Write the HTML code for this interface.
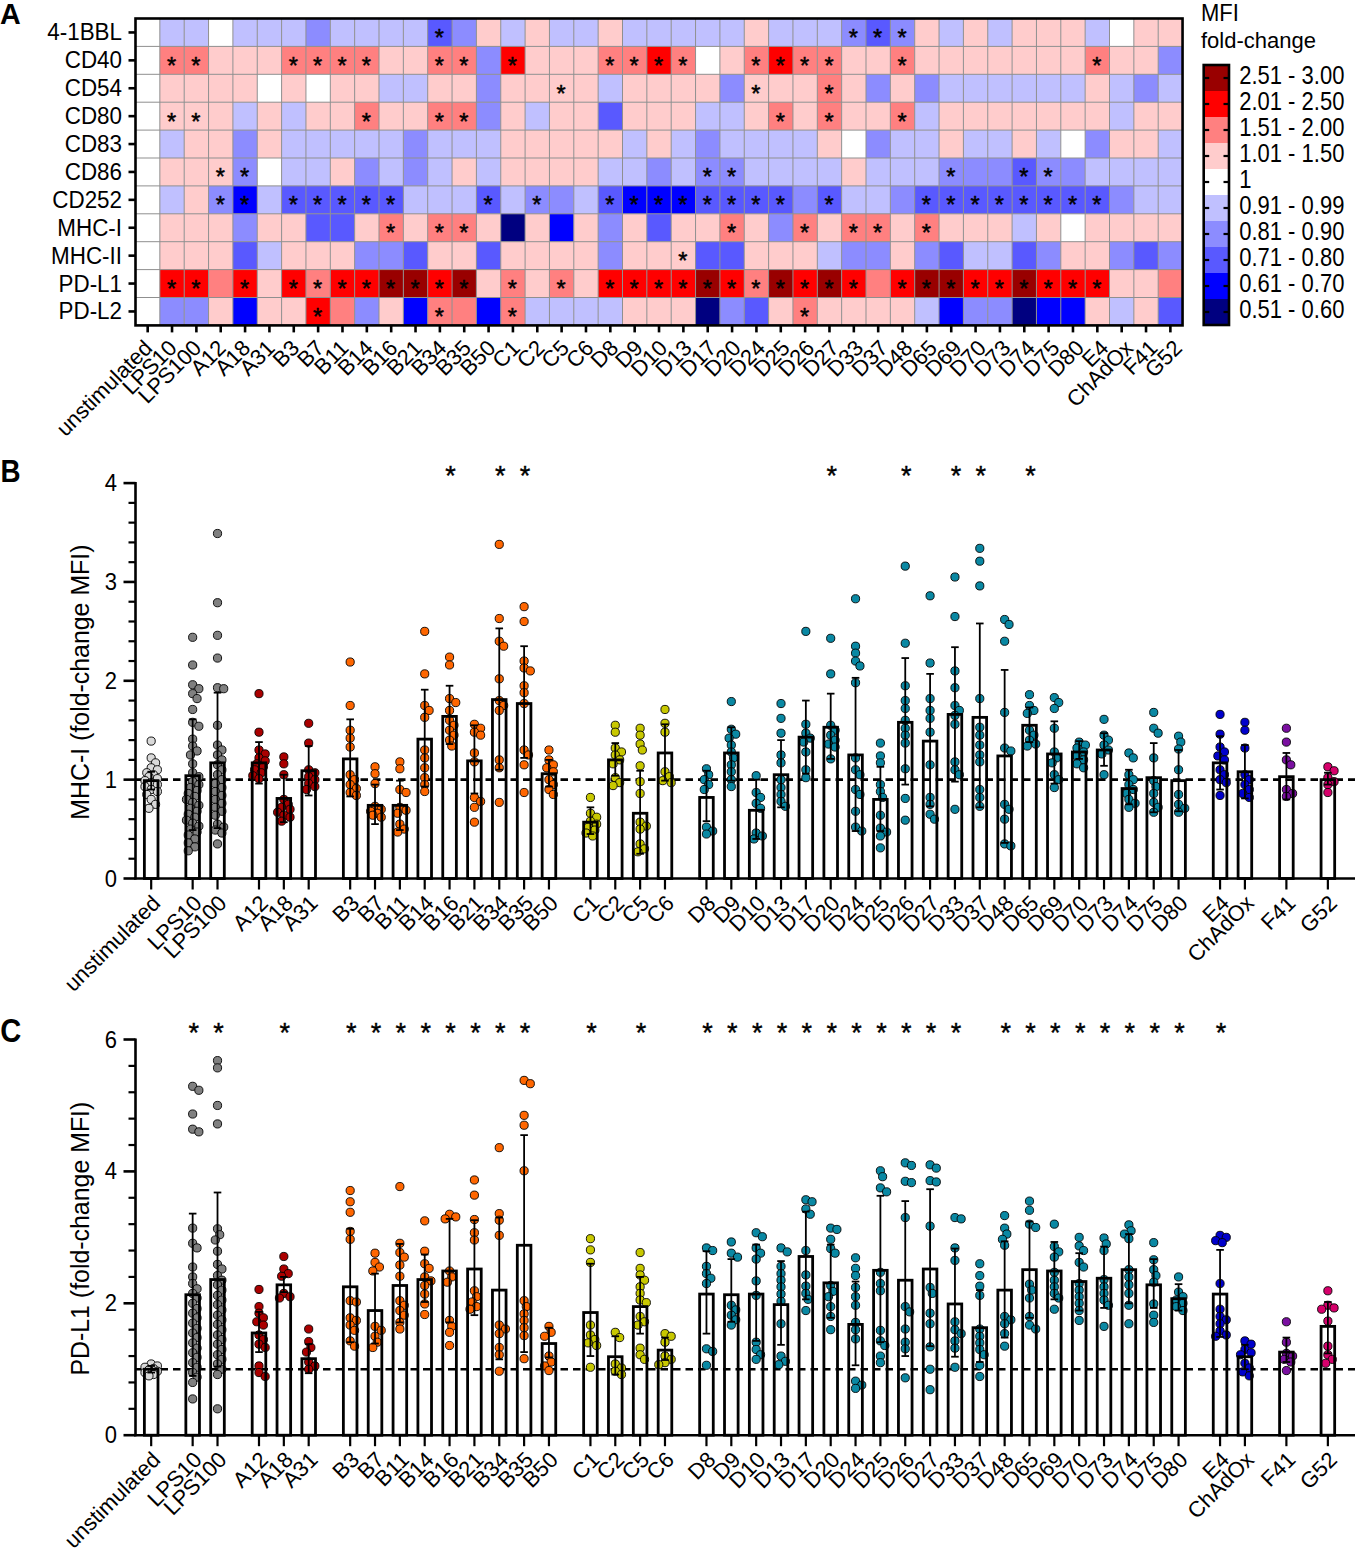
<!DOCTYPE html>
<html><head><meta charset="utf-8"><style>
html,body{margin:0;padding:0;background:#fff;}
svg{display:block;}
.t{font-family:"Liberation Sans", sans-serif;font-size:22px;fill:#000;}
.st{font-family:"Liberation Sans", sans-serif;font-size:27px;fill:#000;stroke:#000;stroke-width:0.4px;}
.hst{font-family:"Liberation Sans", sans-serif;font-size:23.5px;fill:#000;stroke:#000;stroke-width:0.5px;}
.yt{font-family:"Liberation Sans", sans-serif;font-size:24.9px;fill:#000;}
.lab{font-family:"Liberation Sans", sans-serif;font-size:30px;font-weight:bold;fill:#000;}
</style></head><body>
<svg width="1358" height="1551" viewBox="0 0 1358 1551">
<rect width="1358" height="1551" fill="#fff"/>
<g id="heat">
<rect x="135.50" y="18.50" width="24.40" height="27.95" fill="#ffffff"/>
<rect x="159.85" y="18.50" width="24.40" height="27.95" fill="#c0c0ff"/>
<rect x="184.20" y="18.50" width="24.40" height="27.95" fill="#c0c0ff"/>
<rect x="208.55" y="18.50" width="24.40" height="27.95" fill="#ffffff"/>
<rect x="232.90" y="18.50" width="24.40" height="27.95" fill="#c0c0ff"/>
<rect x="257.25" y="18.50" width="24.40" height="27.95" fill="#c0c0ff"/>
<rect x="281.60" y="18.50" width="24.40" height="27.95" fill="#c0c0ff"/>
<rect x="305.95" y="18.50" width="24.40" height="27.95" fill="#8c8cff"/>
<rect x="330.30" y="18.50" width="24.40" height="27.95" fill="#c0c0ff"/>
<rect x="354.65" y="18.50" width="24.40" height="27.95" fill="#c0c0ff"/>
<rect x="379.00" y="18.50" width="24.40" height="27.95" fill="#c0c0ff"/>
<rect x="403.35" y="18.50" width="24.40" height="27.95" fill="#c0c0ff"/>
<rect x="427.70" y="18.50" width="24.40" height="27.95" fill="#5959ff"/>
<rect x="452.05" y="18.50" width="24.40" height="27.95" fill="#8c8cff"/>
<rect x="476.40" y="18.50" width="24.40" height="27.95" fill="#ffcccc"/>
<rect x="500.75" y="18.50" width="24.40" height="27.95" fill="#c0c0ff"/>
<rect x="525.10" y="18.50" width="24.40" height="27.95" fill="#ffcccc"/>
<rect x="549.45" y="18.50" width="24.40" height="27.95" fill="#c0c0ff"/>
<rect x="573.80" y="18.50" width="24.40" height="27.95" fill="#c0c0ff"/>
<rect x="598.15" y="18.50" width="24.40" height="27.95" fill="#ffcccc"/>
<rect x="622.50" y="18.50" width="24.40" height="27.95" fill="#c0c0ff"/>
<rect x="646.85" y="18.50" width="24.40" height="27.95" fill="#c0c0ff"/>
<rect x="671.20" y="18.50" width="24.40" height="27.95" fill="#c0c0ff"/>
<rect x="695.55" y="18.50" width="24.40" height="27.95" fill="#c0c0ff"/>
<rect x="719.90" y="18.50" width="24.40" height="27.95" fill="#c0c0ff"/>
<rect x="744.25" y="18.50" width="24.40" height="27.95" fill="#ffcccc"/>
<rect x="768.60" y="18.50" width="24.40" height="27.95" fill="#c0c0ff"/>
<rect x="792.95" y="18.50" width="24.40" height="27.95" fill="#c0c0ff"/>
<rect x="817.30" y="18.50" width="24.40" height="27.95" fill="#c0c0ff"/>
<rect x="841.65" y="18.50" width="24.40" height="27.95" fill="#8c8cff"/>
<rect x="866.00" y="18.50" width="24.40" height="27.95" fill="#5959ff"/>
<rect x="890.35" y="18.50" width="24.40" height="27.95" fill="#8c8cff"/>
<rect x="914.70" y="18.50" width="24.40" height="27.95" fill="#ffcccc"/>
<rect x="939.05" y="18.50" width="24.40" height="27.95" fill="#c0c0ff"/>
<rect x="963.40" y="18.50" width="24.40" height="27.95" fill="#ffcccc"/>
<rect x="987.75" y="18.50" width="24.40" height="27.95" fill="#c0c0ff"/>
<rect x="1012.10" y="18.50" width="24.40" height="27.95" fill="#ffcccc"/>
<rect x="1036.45" y="18.50" width="24.40" height="27.95" fill="#ffcccc"/>
<rect x="1060.80" y="18.50" width="24.40" height="27.95" fill="#ffcccc"/>
<rect x="1085.15" y="18.50" width="24.40" height="27.95" fill="#c0c0ff"/>
<rect x="1109.50" y="18.50" width="24.40" height="27.95" fill="#ffffff"/>
<rect x="1133.85" y="18.50" width="24.40" height="27.95" fill="#ffcccc"/>
<rect x="1158.20" y="18.50" width="24.40" height="27.95" fill="#ffcccc"/>
<rect x="135.50" y="46.40" width="24.40" height="27.95" fill="#ffffff"/>
<rect x="159.85" y="46.40" width="24.40" height="27.95" fill="#ff8080"/>
<rect x="184.20" y="46.40" width="24.40" height="27.95" fill="#ff8080"/>
<rect x="208.55" y="46.40" width="24.40" height="27.95" fill="#ffcccc"/>
<rect x="232.90" y="46.40" width="24.40" height="27.95" fill="#ffcccc"/>
<rect x="257.25" y="46.40" width="24.40" height="27.95" fill="#ffcccc"/>
<rect x="281.60" y="46.40" width="24.40" height="27.95" fill="#ff8080"/>
<rect x="305.95" y="46.40" width="24.40" height="27.95" fill="#ff8080"/>
<rect x="330.30" y="46.40" width="24.40" height="27.95" fill="#ff8080"/>
<rect x="354.65" y="46.40" width="24.40" height="27.95" fill="#ff8080"/>
<rect x="379.00" y="46.40" width="24.40" height="27.95" fill="#ffcccc"/>
<rect x="403.35" y="46.40" width="24.40" height="27.95" fill="#ffcccc"/>
<rect x="427.70" y="46.40" width="24.40" height="27.95" fill="#ff8080"/>
<rect x="452.05" y="46.40" width="24.40" height="27.95" fill="#ff8080"/>
<rect x="476.40" y="46.40" width="24.40" height="27.95" fill="#8c8cff"/>
<rect x="500.75" y="46.40" width="24.40" height="27.95" fill="#ff0000"/>
<rect x="525.10" y="46.40" width="24.40" height="27.95" fill="#ffcccc"/>
<rect x="549.45" y="46.40" width="24.40" height="27.95" fill="#ffcccc"/>
<rect x="573.80" y="46.40" width="24.40" height="27.95" fill="#ffcccc"/>
<rect x="598.15" y="46.40" width="24.40" height="27.95" fill="#ff8080"/>
<rect x="622.50" y="46.40" width="24.40" height="27.95" fill="#ff8080"/>
<rect x="646.85" y="46.40" width="24.40" height="27.95" fill="#ff0000"/>
<rect x="671.20" y="46.40" width="24.40" height="27.95" fill="#ff8080"/>
<rect x="695.55" y="46.40" width="24.40" height="27.95" fill="#ffffff"/>
<rect x="719.90" y="46.40" width="24.40" height="27.95" fill="#ffcccc"/>
<rect x="744.25" y="46.40" width="24.40" height="27.95" fill="#ff8080"/>
<rect x="768.60" y="46.40" width="24.40" height="27.95" fill="#ff0000"/>
<rect x="792.95" y="46.40" width="24.40" height="27.95" fill="#ff8080"/>
<rect x="817.30" y="46.40" width="24.40" height="27.95" fill="#ff8080"/>
<rect x="841.65" y="46.40" width="24.40" height="27.95" fill="#ffcccc"/>
<rect x="866.00" y="46.40" width="24.40" height="27.95" fill="#ffcccc"/>
<rect x="890.35" y="46.40" width="24.40" height="27.95" fill="#ff8080"/>
<rect x="914.70" y="46.40" width="24.40" height="27.95" fill="#ffcccc"/>
<rect x="939.05" y="46.40" width="24.40" height="27.95" fill="#ffcccc"/>
<rect x="963.40" y="46.40" width="24.40" height="27.95" fill="#ffcccc"/>
<rect x="987.75" y="46.40" width="24.40" height="27.95" fill="#ffcccc"/>
<rect x="1012.10" y="46.40" width="24.40" height="27.95" fill="#ffcccc"/>
<rect x="1036.45" y="46.40" width="24.40" height="27.95" fill="#ffcccc"/>
<rect x="1060.80" y="46.40" width="24.40" height="27.95" fill="#ffcccc"/>
<rect x="1085.15" y="46.40" width="24.40" height="27.95" fill="#ff8080"/>
<rect x="1109.50" y="46.40" width="24.40" height="27.95" fill="#ffcccc"/>
<rect x="1133.85" y="46.40" width="24.40" height="27.95" fill="#ffcccc"/>
<rect x="1158.20" y="46.40" width="24.40" height="27.95" fill="#8c8cff"/>
<rect x="135.50" y="74.30" width="24.40" height="27.95" fill="#ffffff"/>
<rect x="159.85" y="74.30" width="24.40" height="27.95" fill="#ffcccc"/>
<rect x="184.20" y="74.30" width="24.40" height="27.95" fill="#ffcccc"/>
<rect x="208.55" y="74.30" width="24.40" height="27.95" fill="#ffcccc"/>
<rect x="232.90" y="74.30" width="24.40" height="27.95" fill="#ffcccc"/>
<rect x="257.25" y="74.30" width="24.40" height="27.95" fill="#ffffff"/>
<rect x="281.60" y="74.30" width="24.40" height="27.95" fill="#ffcccc"/>
<rect x="305.95" y="74.30" width="24.40" height="27.95" fill="#ffffff"/>
<rect x="330.30" y="74.30" width="24.40" height="27.95" fill="#ffcccc"/>
<rect x="354.65" y="74.30" width="24.40" height="27.95" fill="#ffcccc"/>
<rect x="379.00" y="74.30" width="24.40" height="27.95" fill="#c0c0ff"/>
<rect x="403.35" y="74.30" width="24.40" height="27.95" fill="#c0c0ff"/>
<rect x="427.70" y="74.30" width="24.40" height="27.95" fill="#ffcccc"/>
<rect x="452.05" y="74.30" width="24.40" height="27.95" fill="#ffcccc"/>
<rect x="476.40" y="74.30" width="24.40" height="27.95" fill="#8c8cff"/>
<rect x="500.75" y="74.30" width="24.40" height="27.95" fill="#ffcccc"/>
<rect x="525.10" y="74.30" width="24.40" height="27.95" fill="#ffcccc"/>
<rect x="549.45" y="74.30" width="24.40" height="27.95" fill="#ffcccc"/>
<rect x="573.80" y="74.30" width="24.40" height="27.95" fill="#ffcccc"/>
<rect x="598.15" y="74.30" width="24.40" height="27.95" fill="#c0c0ff"/>
<rect x="622.50" y="74.30" width="24.40" height="27.95" fill="#ffcccc"/>
<rect x="646.85" y="74.30" width="24.40" height="27.95" fill="#ffcccc"/>
<rect x="671.20" y="74.30" width="24.40" height="27.95" fill="#ffcccc"/>
<rect x="695.55" y="74.30" width="24.40" height="27.95" fill="#ffcccc"/>
<rect x="719.90" y="74.30" width="24.40" height="27.95" fill="#8c8cff"/>
<rect x="744.25" y="74.30" width="24.40" height="27.95" fill="#ffcccc"/>
<rect x="768.60" y="74.30" width="24.40" height="27.95" fill="#ffcccc"/>
<rect x="792.95" y="74.30" width="24.40" height="27.95" fill="#ffcccc"/>
<rect x="817.30" y="74.30" width="24.40" height="27.95" fill="#ff8080"/>
<rect x="841.65" y="74.30" width="24.40" height="27.95" fill="#ffcccc"/>
<rect x="866.00" y="74.30" width="24.40" height="27.95" fill="#8c8cff"/>
<rect x="890.35" y="74.30" width="24.40" height="27.95" fill="#ffcccc"/>
<rect x="914.70" y="74.30" width="24.40" height="27.95" fill="#8c8cff"/>
<rect x="939.05" y="74.30" width="24.40" height="27.95" fill="#c0c0ff"/>
<rect x="963.40" y="74.30" width="24.40" height="27.95" fill="#c0c0ff"/>
<rect x="987.75" y="74.30" width="24.40" height="27.95" fill="#c0c0ff"/>
<rect x="1012.10" y="74.30" width="24.40" height="27.95" fill="#c0c0ff"/>
<rect x="1036.45" y="74.30" width="24.40" height="27.95" fill="#c0c0ff"/>
<rect x="1060.80" y="74.30" width="24.40" height="27.95" fill="#c0c0ff"/>
<rect x="1085.15" y="74.30" width="24.40" height="27.95" fill="#ffcccc"/>
<rect x="1109.50" y="74.30" width="24.40" height="27.95" fill="#c0c0ff"/>
<rect x="1133.85" y="74.30" width="24.40" height="27.95" fill="#8c8cff"/>
<rect x="1158.20" y="74.30" width="24.40" height="27.95" fill="#c0c0ff"/>
<rect x="135.50" y="102.20" width="24.40" height="27.95" fill="#ffffff"/>
<rect x="159.85" y="102.20" width="24.40" height="27.95" fill="#ffcccc"/>
<rect x="184.20" y="102.20" width="24.40" height="27.95" fill="#ffcccc"/>
<rect x="208.55" y="102.20" width="24.40" height="27.95" fill="#ffcccc"/>
<rect x="232.90" y="102.20" width="24.40" height="27.95" fill="#c0c0ff"/>
<rect x="257.25" y="102.20" width="24.40" height="27.95" fill="#ffcccc"/>
<rect x="281.60" y="102.20" width="24.40" height="27.95" fill="#c0c0ff"/>
<rect x="305.95" y="102.20" width="24.40" height="27.95" fill="#ffcccc"/>
<rect x="330.30" y="102.20" width="24.40" height="27.95" fill="#ffcccc"/>
<rect x="354.65" y="102.20" width="24.40" height="27.95" fill="#ff8080"/>
<rect x="379.00" y="102.20" width="24.40" height="27.95" fill="#ffcccc"/>
<rect x="403.35" y="102.20" width="24.40" height="27.95" fill="#ffcccc"/>
<rect x="427.70" y="102.20" width="24.40" height="27.95" fill="#ff8080"/>
<rect x="452.05" y="102.20" width="24.40" height="27.95" fill="#ff8080"/>
<rect x="476.40" y="102.20" width="24.40" height="27.95" fill="#8c8cff"/>
<rect x="500.75" y="102.20" width="24.40" height="27.95" fill="#ffcccc"/>
<rect x="525.10" y="102.20" width="24.40" height="27.95" fill="#c0c0ff"/>
<rect x="549.45" y="102.20" width="24.40" height="27.95" fill="#ffcccc"/>
<rect x="573.80" y="102.20" width="24.40" height="27.95" fill="#ffcccc"/>
<rect x="598.15" y="102.20" width="24.40" height="27.95" fill="#5959ff"/>
<rect x="622.50" y="102.20" width="24.40" height="27.95" fill="#ffcccc"/>
<rect x="646.85" y="102.20" width="24.40" height="27.95" fill="#ffcccc"/>
<rect x="671.20" y="102.20" width="24.40" height="27.95" fill="#ffcccc"/>
<rect x="695.55" y="102.20" width="24.40" height="27.95" fill="#c0c0ff"/>
<rect x="719.90" y="102.20" width="24.40" height="27.95" fill="#c0c0ff"/>
<rect x="744.25" y="102.20" width="24.40" height="27.95" fill="#ffcccc"/>
<rect x="768.60" y="102.20" width="24.40" height="27.95" fill="#ff8080"/>
<rect x="792.95" y="102.20" width="24.40" height="27.95" fill="#ffcccc"/>
<rect x="817.30" y="102.20" width="24.40" height="27.95" fill="#ff8080"/>
<rect x="841.65" y="102.20" width="24.40" height="27.95" fill="#ffcccc"/>
<rect x="866.00" y="102.20" width="24.40" height="27.95" fill="#ffcccc"/>
<rect x="890.35" y="102.20" width="24.40" height="27.95" fill="#ff8080"/>
<rect x="914.70" y="102.20" width="24.40" height="27.95" fill="#c0c0ff"/>
<rect x="939.05" y="102.20" width="24.40" height="27.95" fill="#ffcccc"/>
<rect x="963.40" y="102.20" width="24.40" height="27.95" fill="#ffcccc"/>
<rect x="987.75" y="102.20" width="24.40" height="27.95" fill="#ffcccc"/>
<rect x="1012.10" y="102.20" width="24.40" height="27.95" fill="#ffcccc"/>
<rect x="1036.45" y="102.20" width="24.40" height="27.95" fill="#ffcccc"/>
<rect x="1060.80" y="102.20" width="24.40" height="27.95" fill="#ffcccc"/>
<rect x="1085.15" y="102.20" width="24.40" height="27.95" fill="#ffcccc"/>
<rect x="1109.50" y="102.20" width="24.40" height="27.95" fill="#c0c0ff"/>
<rect x="1133.85" y="102.20" width="24.40" height="27.95" fill="#ffcccc"/>
<rect x="1158.20" y="102.20" width="24.40" height="27.95" fill="#ffcccc"/>
<rect x="135.50" y="130.10" width="24.40" height="27.95" fill="#ffffff"/>
<rect x="159.85" y="130.10" width="24.40" height="27.95" fill="#c0c0ff"/>
<rect x="184.20" y="130.10" width="24.40" height="27.95" fill="#ffcccc"/>
<rect x="208.55" y="130.10" width="24.40" height="27.95" fill="#ffcccc"/>
<rect x="232.90" y="130.10" width="24.40" height="27.95" fill="#8c8cff"/>
<rect x="257.25" y="130.10" width="24.40" height="27.95" fill="#ffcccc"/>
<rect x="281.60" y="130.10" width="24.40" height="27.95" fill="#c0c0ff"/>
<rect x="305.95" y="130.10" width="24.40" height="27.95" fill="#c0c0ff"/>
<rect x="330.30" y="130.10" width="24.40" height="27.95" fill="#c0c0ff"/>
<rect x="354.65" y="130.10" width="24.40" height="27.95" fill="#c0c0ff"/>
<rect x="379.00" y="130.10" width="24.40" height="27.95" fill="#c0c0ff"/>
<rect x="403.35" y="130.10" width="24.40" height="27.95" fill="#8c8cff"/>
<rect x="427.70" y="130.10" width="24.40" height="27.95" fill="#c0c0ff"/>
<rect x="452.05" y="130.10" width="24.40" height="27.95" fill="#c0c0ff"/>
<rect x="476.40" y="130.10" width="24.40" height="27.95" fill="#c0c0ff"/>
<rect x="500.75" y="130.10" width="24.40" height="27.95" fill="#ffcccc"/>
<rect x="525.10" y="130.10" width="24.40" height="27.95" fill="#ffcccc"/>
<rect x="549.45" y="130.10" width="24.40" height="27.95" fill="#ffcccc"/>
<rect x="573.80" y="130.10" width="24.40" height="27.95" fill="#ffcccc"/>
<rect x="598.15" y="130.10" width="24.40" height="27.95" fill="#ffcccc"/>
<rect x="622.50" y="130.10" width="24.40" height="27.95" fill="#c0c0ff"/>
<rect x="646.85" y="130.10" width="24.40" height="27.95" fill="#ffcccc"/>
<rect x="671.20" y="130.10" width="24.40" height="27.95" fill="#c0c0ff"/>
<rect x="695.55" y="130.10" width="24.40" height="27.95" fill="#8c8cff"/>
<rect x="719.90" y="130.10" width="24.40" height="27.95" fill="#c0c0ff"/>
<rect x="744.25" y="130.10" width="24.40" height="27.95" fill="#c0c0ff"/>
<rect x="768.60" y="130.10" width="24.40" height="27.95" fill="#c0c0ff"/>
<rect x="792.95" y="130.10" width="24.40" height="27.95" fill="#c0c0ff"/>
<rect x="817.30" y="130.10" width="24.40" height="27.95" fill="#ffcccc"/>
<rect x="841.65" y="130.10" width="24.40" height="27.95" fill="#ffffff"/>
<rect x="866.00" y="130.10" width="24.40" height="27.95" fill="#8c8cff"/>
<rect x="890.35" y="130.10" width="24.40" height="27.95" fill="#c0c0ff"/>
<rect x="914.70" y="130.10" width="24.40" height="27.95" fill="#c0c0ff"/>
<rect x="939.05" y="130.10" width="24.40" height="27.95" fill="#ffcccc"/>
<rect x="963.40" y="130.10" width="24.40" height="27.95" fill="#c0c0ff"/>
<rect x="987.75" y="130.10" width="24.40" height="27.95" fill="#c0c0ff"/>
<rect x="1012.10" y="130.10" width="24.40" height="27.95" fill="#ffcccc"/>
<rect x="1036.45" y="130.10" width="24.40" height="27.95" fill="#c0c0ff"/>
<rect x="1060.80" y="130.10" width="24.40" height="27.95" fill="#ffffff"/>
<rect x="1085.15" y="130.10" width="24.40" height="27.95" fill="#8c8cff"/>
<rect x="1109.50" y="130.10" width="24.40" height="27.95" fill="#ffcccc"/>
<rect x="1133.85" y="130.10" width="24.40" height="27.95" fill="#ffcccc"/>
<rect x="1158.20" y="130.10" width="24.40" height="27.95" fill="#c0c0ff"/>
<rect x="135.50" y="158.00" width="24.40" height="27.95" fill="#ffffff"/>
<rect x="159.85" y="158.00" width="24.40" height="27.95" fill="#ffcccc"/>
<rect x="184.20" y="158.00" width="24.40" height="27.95" fill="#ffcccc"/>
<rect x="208.55" y="158.00" width="24.40" height="27.95" fill="#ffcccc"/>
<rect x="232.90" y="158.00" width="24.40" height="27.95" fill="#8c8cff"/>
<rect x="257.25" y="158.00" width="24.40" height="27.95" fill="#ffffff"/>
<rect x="281.60" y="158.00" width="24.40" height="27.95" fill="#c0c0ff"/>
<rect x="305.95" y="158.00" width="24.40" height="27.95" fill="#c0c0ff"/>
<rect x="330.30" y="158.00" width="24.40" height="27.95" fill="#ffcccc"/>
<rect x="354.65" y="158.00" width="24.40" height="27.95" fill="#8c8cff"/>
<rect x="379.00" y="158.00" width="24.40" height="27.95" fill="#c0c0ff"/>
<rect x="403.35" y="158.00" width="24.40" height="27.95" fill="#8c8cff"/>
<rect x="427.70" y="158.00" width="24.40" height="27.95" fill="#c0c0ff"/>
<rect x="452.05" y="158.00" width="24.40" height="27.95" fill="#ffcccc"/>
<rect x="476.40" y="158.00" width="24.40" height="27.95" fill="#c0c0ff"/>
<rect x="500.75" y="158.00" width="24.40" height="27.95" fill="#ffcccc"/>
<rect x="525.10" y="158.00" width="24.40" height="27.95" fill="#ffcccc"/>
<rect x="549.45" y="158.00" width="24.40" height="27.95" fill="#ffcccc"/>
<rect x="573.80" y="158.00" width="24.40" height="27.95" fill="#ffcccc"/>
<rect x="598.15" y="158.00" width="24.40" height="27.95" fill="#c0c0ff"/>
<rect x="622.50" y="158.00" width="24.40" height="27.95" fill="#c0c0ff"/>
<rect x="646.85" y="158.00" width="24.40" height="27.95" fill="#8c8cff"/>
<rect x="671.20" y="158.00" width="24.40" height="27.95" fill="#c0c0ff"/>
<rect x="695.55" y="158.00" width="24.40" height="27.95" fill="#8c8cff"/>
<rect x="719.90" y="158.00" width="24.40" height="27.95" fill="#8c8cff"/>
<rect x="744.25" y="158.00" width="24.40" height="27.95" fill="#c0c0ff"/>
<rect x="768.60" y="158.00" width="24.40" height="27.95" fill="#c0c0ff"/>
<rect x="792.95" y="158.00" width="24.40" height="27.95" fill="#c0c0ff"/>
<rect x="817.30" y="158.00" width="24.40" height="27.95" fill="#c0c0ff"/>
<rect x="841.65" y="158.00" width="24.40" height="27.95" fill="#ffcccc"/>
<rect x="866.00" y="158.00" width="24.40" height="27.95" fill="#c0c0ff"/>
<rect x="890.35" y="158.00" width="24.40" height="27.95" fill="#c0c0ff"/>
<rect x="914.70" y="158.00" width="24.40" height="27.95" fill="#c0c0ff"/>
<rect x="939.05" y="158.00" width="24.40" height="27.95" fill="#8c8cff"/>
<rect x="963.40" y="158.00" width="24.40" height="27.95" fill="#8c8cff"/>
<rect x="987.75" y="158.00" width="24.40" height="27.95" fill="#8c8cff"/>
<rect x="1012.10" y="158.00" width="24.40" height="27.95" fill="#5959ff"/>
<rect x="1036.45" y="158.00" width="24.40" height="27.95" fill="#8c8cff"/>
<rect x="1060.80" y="158.00" width="24.40" height="27.95" fill="#8c8cff"/>
<rect x="1085.15" y="158.00" width="24.40" height="27.95" fill="#c0c0ff"/>
<rect x="1109.50" y="158.00" width="24.40" height="27.95" fill="#c0c0ff"/>
<rect x="1133.85" y="158.00" width="24.40" height="27.95" fill="#c0c0ff"/>
<rect x="1158.20" y="158.00" width="24.40" height="27.95" fill="#c0c0ff"/>
<rect x="135.50" y="185.90" width="24.40" height="27.95" fill="#ffffff"/>
<rect x="159.85" y="185.90" width="24.40" height="27.95" fill="#c0c0ff"/>
<rect x="184.20" y="185.90" width="24.40" height="27.95" fill="#ffcccc"/>
<rect x="208.55" y="185.90" width="24.40" height="27.95" fill="#8c8cff"/>
<rect x="232.90" y="185.90" width="24.40" height="27.95" fill="#0000ff"/>
<rect x="257.25" y="185.90" width="24.40" height="27.95" fill="#c0c0ff"/>
<rect x="281.60" y="185.90" width="24.40" height="27.95" fill="#5959ff"/>
<rect x="305.95" y="185.90" width="24.40" height="27.95" fill="#5959ff"/>
<rect x="330.30" y="185.90" width="24.40" height="27.95" fill="#5959ff"/>
<rect x="354.65" y="185.90" width="24.40" height="27.95" fill="#5959ff"/>
<rect x="379.00" y="185.90" width="24.40" height="27.95" fill="#5959ff"/>
<rect x="403.35" y="185.90" width="24.40" height="27.95" fill="#c0c0ff"/>
<rect x="427.70" y="185.90" width="24.40" height="27.95" fill="#c0c0ff"/>
<rect x="452.05" y="185.90" width="24.40" height="27.95" fill="#c0c0ff"/>
<rect x="476.40" y="185.90" width="24.40" height="27.95" fill="#5959ff"/>
<rect x="500.75" y="185.90" width="24.40" height="27.95" fill="#c0c0ff"/>
<rect x="525.10" y="185.90" width="24.40" height="27.95" fill="#8c8cff"/>
<rect x="549.45" y="185.90" width="24.40" height="27.95" fill="#8c8cff"/>
<rect x="573.80" y="185.90" width="24.40" height="27.95" fill="#c0c0ff"/>
<rect x="598.15" y="185.90" width="24.40" height="27.95" fill="#5959ff"/>
<rect x="622.50" y="185.90" width="24.40" height="27.95" fill="#0000ff"/>
<rect x="646.85" y="185.90" width="24.40" height="27.95" fill="#0000ff"/>
<rect x="671.20" y="185.90" width="24.40" height="27.95" fill="#0000ff"/>
<rect x="695.55" y="185.90" width="24.40" height="27.95" fill="#5959ff"/>
<rect x="719.90" y="185.90" width="24.40" height="27.95" fill="#5959ff"/>
<rect x="744.25" y="185.90" width="24.40" height="27.95" fill="#5959ff"/>
<rect x="768.60" y="185.90" width="24.40" height="27.95" fill="#5959ff"/>
<rect x="792.95" y="185.90" width="24.40" height="27.95" fill="#8c8cff"/>
<rect x="817.30" y="185.90" width="24.40" height="27.95" fill="#5959ff"/>
<rect x="841.65" y="185.90" width="24.40" height="27.95" fill="#c0c0ff"/>
<rect x="866.00" y="185.90" width="24.40" height="27.95" fill="#c0c0ff"/>
<rect x="890.35" y="185.90" width="24.40" height="27.95" fill="#8c8cff"/>
<rect x="914.70" y="185.90" width="24.40" height="27.95" fill="#5959ff"/>
<rect x="939.05" y="185.90" width="24.40" height="27.95" fill="#5959ff"/>
<rect x="963.40" y="185.90" width="24.40" height="27.95" fill="#5959ff"/>
<rect x="987.75" y="185.90" width="24.40" height="27.95" fill="#5959ff"/>
<rect x="1012.10" y="185.90" width="24.40" height="27.95" fill="#5959ff"/>
<rect x="1036.45" y="185.90" width="24.40" height="27.95" fill="#5959ff"/>
<rect x="1060.80" y="185.90" width="24.40" height="27.95" fill="#5959ff"/>
<rect x="1085.15" y="185.90" width="24.40" height="27.95" fill="#5959ff"/>
<rect x="1109.50" y="185.90" width="24.40" height="27.95" fill="#8c8cff"/>
<rect x="1133.85" y="185.90" width="24.40" height="27.95" fill="#c0c0ff"/>
<rect x="1158.20" y="185.90" width="24.40" height="27.95" fill="#c0c0ff"/>
<rect x="135.50" y="213.80" width="24.40" height="27.95" fill="#ffffff"/>
<rect x="159.85" y="213.80" width="24.40" height="27.95" fill="#ffcccc"/>
<rect x="184.20" y="213.80" width="24.40" height="27.95" fill="#ffcccc"/>
<rect x="208.55" y="213.80" width="24.40" height="27.95" fill="#ffcccc"/>
<rect x="232.90" y="213.80" width="24.40" height="27.95" fill="#8c8cff"/>
<rect x="257.25" y="213.80" width="24.40" height="27.95" fill="#ffcccc"/>
<rect x="281.60" y="213.80" width="24.40" height="27.95" fill="#ffcccc"/>
<rect x="305.95" y="213.80" width="24.40" height="27.95" fill="#5959ff"/>
<rect x="330.30" y="213.80" width="24.40" height="27.95" fill="#5959ff"/>
<rect x="354.65" y="213.80" width="24.40" height="27.95" fill="#ffcccc"/>
<rect x="379.00" y="213.80" width="24.40" height="27.95" fill="#ff8080"/>
<rect x="403.35" y="213.80" width="24.40" height="27.95" fill="#ffcccc"/>
<rect x="427.70" y="213.80" width="24.40" height="27.95" fill="#ff8080"/>
<rect x="452.05" y="213.80" width="24.40" height="27.95" fill="#ff8080"/>
<rect x="476.40" y="213.80" width="24.40" height="27.95" fill="#ffcccc"/>
<rect x="500.75" y="213.80" width="24.40" height="27.95" fill="#000080"/>
<rect x="525.10" y="213.80" width="24.40" height="27.95" fill="#ffcccc"/>
<rect x="549.45" y="213.80" width="24.40" height="27.95" fill="#0000ff"/>
<rect x="573.80" y="213.80" width="24.40" height="27.95" fill="#ffcccc"/>
<rect x="598.15" y="213.80" width="24.40" height="27.95" fill="#8c8cff"/>
<rect x="622.50" y="213.80" width="24.40" height="27.95" fill="#ffcccc"/>
<rect x="646.85" y="213.80" width="24.40" height="27.95" fill="#5959ff"/>
<rect x="671.20" y="213.80" width="24.40" height="27.95" fill="#ffcccc"/>
<rect x="695.55" y="213.80" width="24.40" height="27.95" fill="#ffcccc"/>
<rect x="719.90" y="213.80" width="24.40" height="27.95" fill="#ff8080"/>
<rect x="744.25" y="213.80" width="24.40" height="27.95" fill="#ffcccc"/>
<rect x="768.60" y="213.80" width="24.40" height="27.95" fill="#8c8cff"/>
<rect x="792.95" y="213.80" width="24.40" height="27.95" fill="#ff8080"/>
<rect x="817.30" y="213.80" width="24.40" height="27.95" fill="#ffcccc"/>
<rect x="841.65" y="213.80" width="24.40" height="27.95" fill="#ff8080"/>
<rect x="866.00" y="213.80" width="24.40" height="27.95" fill="#ff8080"/>
<rect x="890.35" y="213.80" width="24.40" height="27.95" fill="#ffcccc"/>
<rect x="914.70" y="213.80" width="24.40" height="27.95" fill="#ff8080"/>
<rect x="939.05" y="213.80" width="24.40" height="27.95" fill="#ffcccc"/>
<rect x="963.40" y="213.80" width="24.40" height="27.95" fill="#ffcccc"/>
<rect x="987.75" y="213.80" width="24.40" height="27.95" fill="#ffcccc"/>
<rect x="1012.10" y="213.80" width="24.40" height="27.95" fill="#c0c0ff"/>
<rect x="1036.45" y="213.80" width="24.40" height="27.95" fill="#ffcccc"/>
<rect x="1060.80" y="213.80" width="24.40" height="27.95" fill="#ffffff"/>
<rect x="1085.15" y="213.80" width="24.40" height="27.95" fill="#ffcccc"/>
<rect x="1109.50" y="213.80" width="24.40" height="27.95" fill="#ffcccc"/>
<rect x="1133.85" y="213.80" width="24.40" height="27.95" fill="#ffcccc"/>
<rect x="1158.20" y="213.80" width="24.40" height="27.95" fill="#ffcccc"/>
<rect x="135.50" y="241.70" width="24.40" height="27.95" fill="#ffffff"/>
<rect x="159.85" y="241.70" width="24.40" height="27.95" fill="#ffcccc"/>
<rect x="184.20" y="241.70" width="24.40" height="27.95" fill="#ffcccc"/>
<rect x="208.55" y="241.70" width="24.40" height="27.95" fill="#ffcccc"/>
<rect x="232.90" y="241.70" width="24.40" height="27.95" fill="#5959ff"/>
<rect x="257.25" y="241.70" width="24.40" height="27.95" fill="#c0c0ff"/>
<rect x="281.60" y="241.70" width="24.40" height="27.95" fill="#ffcccc"/>
<rect x="305.95" y="241.70" width="24.40" height="27.95" fill="#ffcccc"/>
<rect x="330.30" y="241.70" width="24.40" height="27.95" fill="#ffcccc"/>
<rect x="354.65" y="241.70" width="24.40" height="27.95" fill="#8c8cff"/>
<rect x="379.00" y="241.70" width="24.40" height="27.95" fill="#8c8cff"/>
<rect x="403.35" y="241.70" width="24.40" height="27.95" fill="#5959ff"/>
<rect x="427.70" y="241.70" width="24.40" height="27.95" fill="#ffcccc"/>
<rect x="452.05" y="241.70" width="24.40" height="27.95" fill="#ffcccc"/>
<rect x="476.40" y="241.70" width="24.40" height="27.95" fill="#5959ff"/>
<rect x="500.75" y="241.70" width="24.40" height="27.95" fill="#ffcccc"/>
<rect x="525.10" y="241.70" width="24.40" height="27.95" fill="#ffcccc"/>
<rect x="549.45" y="241.70" width="24.40" height="27.95" fill="#ffcccc"/>
<rect x="573.80" y="241.70" width="24.40" height="27.95" fill="#ffcccc"/>
<rect x="598.15" y="241.70" width="24.40" height="27.95" fill="#8c8cff"/>
<rect x="622.50" y="241.70" width="24.40" height="27.95" fill="#ffcccc"/>
<rect x="646.85" y="241.70" width="24.40" height="27.95" fill="#ffcccc"/>
<rect x="671.20" y="241.70" width="24.40" height="27.95" fill="#ffcccc"/>
<rect x="695.55" y="241.70" width="24.40" height="27.95" fill="#5959ff"/>
<rect x="719.90" y="241.70" width="24.40" height="27.95" fill="#5959ff"/>
<rect x="744.25" y="241.70" width="24.40" height="27.95" fill="#ffcccc"/>
<rect x="768.60" y="241.70" width="24.40" height="27.95" fill="#ffcccc"/>
<rect x="792.95" y="241.70" width="24.40" height="27.95" fill="#ffcccc"/>
<rect x="817.30" y="241.70" width="24.40" height="27.95" fill="#c0c0ff"/>
<rect x="841.65" y="241.70" width="24.40" height="27.95" fill="#8c8cff"/>
<rect x="866.00" y="241.70" width="24.40" height="27.95" fill="#8c8cff"/>
<rect x="890.35" y="241.70" width="24.40" height="27.95" fill="#ffcccc"/>
<rect x="914.70" y="241.70" width="24.40" height="27.95" fill="#8c8cff"/>
<rect x="939.05" y="241.70" width="24.40" height="27.95" fill="#5959ff"/>
<rect x="963.40" y="241.70" width="24.40" height="27.95" fill="#c0c0ff"/>
<rect x="987.75" y="241.70" width="24.40" height="27.95" fill="#c0c0ff"/>
<rect x="1012.10" y="241.70" width="24.40" height="27.95" fill="#5959ff"/>
<rect x="1036.45" y="241.70" width="24.40" height="27.95" fill="#8c8cff"/>
<rect x="1060.80" y="241.70" width="24.40" height="27.95" fill="#ffcccc"/>
<rect x="1085.15" y="241.70" width="24.40" height="27.95" fill="#ffcccc"/>
<rect x="1109.50" y="241.70" width="24.40" height="27.95" fill="#8c8cff"/>
<rect x="1133.85" y="241.70" width="24.40" height="27.95" fill="#5959ff"/>
<rect x="1158.20" y="241.70" width="24.40" height="27.95" fill="#8c8cff"/>
<rect x="135.50" y="269.60" width="24.40" height="27.95" fill="#ffffff"/>
<rect x="159.85" y="269.60" width="24.40" height="27.95" fill="#ff0000"/>
<rect x="184.20" y="269.60" width="24.40" height="27.95" fill="#ff0000"/>
<rect x="208.55" y="269.60" width="24.40" height="27.95" fill="#ff8080"/>
<rect x="232.90" y="269.60" width="24.40" height="27.95" fill="#ff0000"/>
<rect x="257.25" y="269.60" width="24.40" height="27.95" fill="#ffcccc"/>
<rect x="281.60" y="269.60" width="24.40" height="27.95" fill="#ff0000"/>
<rect x="305.95" y="269.60" width="24.40" height="27.95" fill="#ff8080"/>
<rect x="330.30" y="269.60" width="24.40" height="27.95" fill="#ff0000"/>
<rect x="354.65" y="269.60" width="24.40" height="27.95" fill="#ff0000"/>
<rect x="379.00" y="269.60" width="24.40" height="27.95" fill="#990000"/>
<rect x="403.35" y="269.60" width="24.40" height="27.95" fill="#990000"/>
<rect x="427.70" y="269.60" width="24.40" height="27.95" fill="#ff0000"/>
<rect x="452.05" y="269.60" width="24.40" height="27.95" fill="#990000"/>
<rect x="476.40" y="269.60" width="24.40" height="27.95" fill="#ffcccc"/>
<rect x="500.75" y="269.60" width="24.40" height="27.95" fill="#ff8080"/>
<rect x="525.10" y="269.60" width="24.40" height="27.95" fill="#ffcccc"/>
<rect x="549.45" y="269.60" width="24.40" height="27.95" fill="#ff8080"/>
<rect x="573.80" y="269.60" width="24.40" height="27.95" fill="#ffcccc"/>
<rect x="598.15" y="269.60" width="24.40" height="27.95" fill="#ff0000"/>
<rect x="622.50" y="269.60" width="24.40" height="27.95" fill="#ff0000"/>
<rect x="646.85" y="269.60" width="24.40" height="27.95" fill="#ff0000"/>
<rect x="671.20" y="269.60" width="24.40" height="27.95" fill="#ff0000"/>
<rect x="695.55" y="269.60" width="24.40" height="27.95" fill="#990000"/>
<rect x="719.90" y="269.60" width="24.40" height="27.95" fill="#ff0000"/>
<rect x="744.25" y="269.60" width="24.40" height="27.95" fill="#ff8080"/>
<rect x="768.60" y="269.60" width="24.40" height="27.95" fill="#990000"/>
<rect x="792.95" y="269.60" width="24.40" height="27.95" fill="#ff0000"/>
<rect x="817.30" y="269.60" width="24.40" height="27.95" fill="#990000"/>
<rect x="841.65" y="269.60" width="24.40" height="27.95" fill="#ff0000"/>
<rect x="866.00" y="269.60" width="24.40" height="27.95" fill="#ff8080"/>
<rect x="890.35" y="269.60" width="24.40" height="27.95" fill="#ff0000"/>
<rect x="914.70" y="269.60" width="24.40" height="27.95" fill="#990000"/>
<rect x="939.05" y="269.60" width="24.40" height="27.95" fill="#990000"/>
<rect x="963.40" y="269.60" width="24.40" height="27.95" fill="#ff0000"/>
<rect x="987.75" y="269.60" width="24.40" height="27.95" fill="#ff0000"/>
<rect x="1012.10" y="269.60" width="24.40" height="27.95" fill="#990000"/>
<rect x="1036.45" y="269.60" width="24.40" height="27.95" fill="#ff0000"/>
<rect x="1060.80" y="269.60" width="24.40" height="27.95" fill="#ff0000"/>
<rect x="1085.15" y="269.60" width="24.40" height="27.95" fill="#ff0000"/>
<rect x="1109.50" y="269.60" width="24.40" height="27.95" fill="#ffcccc"/>
<rect x="1133.85" y="269.60" width="24.40" height="27.95" fill="#ffcccc"/>
<rect x="1158.20" y="269.60" width="24.40" height="27.95" fill="#ff8080"/>
<rect x="135.50" y="297.50" width="24.40" height="27.95" fill="#ffffff"/>
<rect x="159.85" y="297.50" width="24.40" height="27.95" fill="#8c8cff"/>
<rect x="184.20" y="297.50" width="24.40" height="27.95" fill="#8c8cff"/>
<rect x="208.55" y="297.50" width="24.40" height="27.95" fill="#ffcccc"/>
<rect x="232.90" y="297.50" width="24.40" height="27.95" fill="#0000ff"/>
<rect x="257.25" y="297.50" width="24.40" height="27.95" fill="#ffcccc"/>
<rect x="281.60" y="297.50" width="24.40" height="27.95" fill="#ffcccc"/>
<rect x="305.95" y="297.50" width="24.40" height="27.95" fill="#ff0000"/>
<rect x="330.30" y="297.50" width="24.40" height="27.95" fill="#ff8080"/>
<rect x="354.65" y="297.50" width="24.40" height="27.95" fill="#8c8cff"/>
<rect x="379.00" y="297.50" width="24.40" height="27.95" fill="#ffcccc"/>
<rect x="403.35" y="297.50" width="24.40" height="27.95" fill="#0000ff"/>
<rect x="427.70" y="297.50" width="24.40" height="27.95" fill="#ff8080"/>
<rect x="452.05" y="297.50" width="24.40" height="27.95" fill="#ff8080"/>
<rect x="476.40" y="297.50" width="24.40" height="27.95" fill="#0000ff"/>
<rect x="500.75" y="297.50" width="24.40" height="27.95" fill="#ff8080"/>
<rect x="525.10" y="297.50" width="24.40" height="27.95" fill="#c0c0ff"/>
<rect x="549.45" y="297.50" width="24.40" height="27.95" fill="#c0c0ff"/>
<rect x="573.80" y="297.50" width="24.40" height="27.95" fill="#c0c0ff"/>
<rect x="598.15" y="297.50" width="24.40" height="27.95" fill="#c0c0ff"/>
<rect x="622.50" y="297.50" width="24.40" height="27.95" fill="#ffcccc"/>
<rect x="646.85" y="297.50" width="24.40" height="27.95" fill="#ffcccc"/>
<rect x="671.20" y="297.50" width="24.40" height="27.95" fill="#ffcccc"/>
<rect x="695.55" y="297.50" width="24.40" height="27.95" fill="#000080"/>
<rect x="719.90" y="297.50" width="24.40" height="27.95" fill="#8c8cff"/>
<rect x="744.25" y="297.50" width="24.40" height="27.95" fill="#5959ff"/>
<rect x="768.60" y="297.50" width="24.40" height="27.95" fill="#ffcccc"/>
<rect x="792.95" y="297.50" width="24.40" height="27.95" fill="#ff8080"/>
<rect x="817.30" y="297.50" width="24.40" height="27.95" fill="#ffcccc"/>
<rect x="841.65" y="297.50" width="24.40" height="27.95" fill="#ffcccc"/>
<rect x="866.00" y="297.50" width="24.40" height="27.95" fill="#ffcccc"/>
<rect x="890.35" y="297.50" width="24.40" height="27.95" fill="#ffcccc"/>
<rect x="914.70" y="297.50" width="24.40" height="27.95" fill="#c0c0ff"/>
<rect x="939.05" y="297.50" width="24.40" height="27.95" fill="#0000ff"/>
<rect x="963.40" y="297.50" width="24.40" height="27.95" fill="#8c8cff"/>
<rect x="987.75" y="297.50" width="24.40" height="27.95" fill="#8c8cff"/>
<rect x="1012.10" y="297.50" width="24.40" height="27.95" fill="#000080"/>
<rect x="1036.45" y="297.50" width="24.40" height="27.95" fill="#0000ff"/>
<rect x="1060.80" y="297.50" width="24.40" height="27.95" fill="#0000ff"/>
<rect x="1085.15" y="297.50" width="24.40" height="27.95" fill="#ffcccc"/>
<rect x="1109.50" y="297.50" width="24.40" height="27.95" fill="#c0c0ff"/>
<rect x="1133.85" y="297.50" width="24.40" height="27.95" fill="#ffcccc"/>
<rect x="1158.20" y="297.50" width="24.40" height="27.95" fill="#5959ff"/>
<line x1="159.85" y1="18.5" x2="159.85" y2="325.40" stroke="#8f8f8f" stroke-width="1"/>
<line x1="184.20" y1="18.5" x2="184.20" y2="325.40" stroke="#8f8f8f" stroke-width="1"/>
<line x1="208.55" y1="18.5" x2="208.55" y2="325.40" stroke="#8f8f8f" stroke-width="1"/>
<line x1="232.90" y1="18.5" x2="232.90" y2="325.40" stroke="#8f8f8f" stroke-width="1"/>
<line x1="257.25" y1="18.5" x2="257.25" y2="325.40" stroke="#8f8f8f" stroke-width="1"/>
<line x1="281.60" y1="18.5" x2="281.60" y2="325.40" stroke="#8f8f8f" stroke-width="1"/>
<line x1="305.95" y1="18.5" x2="305.95" y2="325.40" stroke="#8f8f8f" stroke-width="1"/>
<line x1="330.30" y1="18.5" x2="330.30" y2="325.40" stroke="#8f8f8f" stroke-width="1"/>
<line x1="354.65" y1="18.5" x2="354.65" y2="325.40" stroke="#8f8f8f" stroke-width="1"/>
<line x1="379.00" y1="18.5" x2="379.00" y2="325.40" stroke="#8f8f8f" stroke-width="1"/>
<line x1="403.35" y1="18.5" x2="403.35" y2="325.40" stroke="#8f8f8f" stroke-width="1"/>
<line x1="427.70" y1="18.5" x2="427.70" y2="325.40" stroke="#8f8f8f" stroke-width="1"/>
<line x1="452.05" y1="18.5" x2="452.05" y2="325.40" stroke="#8f8f8f" stroke-width="1"/>
<line x1="476.40" y1="18.5" x2="476.40" y2="325.40" stroke="#8f8f8f" stroke-width="1"/>
<line x1="500.75" y1="18.5" x2="500.75" y2="325.40" stroke="#8f8f8f" stroke-width="1"/>
<line x1="525.10" y1="18.5" x2="525.10" y2="325.40" stroke="#8f8f8f" stroke-width="1"/>
<line x1="549.45" y1="18.5" x2="549.45" y2="325.40" stroke="#8f8f8f" stroke-width="1"/>
<line x1="573.80" y1="18.5" x2="573.80" y2="325.40" stroke="#8f8f8f" stroke-width="1"/>
<line x1="598.15" y1="18.5" x2="598.15" y2="325.40" stroke="#8f8f8f" stroke-width="1"/>
<line x1="622.50" y1="18.5" x2="622.50" y2="325.40" stroke="#8f8f8f" stroke-width="1"/>
<line x1="646.85" y1="18.5" x2="646.85" y2="325.40" stroke="#8f8f8f" stroke-width="1"/>
<line x1="671.20" y1="18.5" x2="671.20" y2="325.40" stroke="#8f8f8f" stroke-width="1"/>
<line x1="695.55" y1="18.5" x2="695.55" y2="325.40" stroke="#8f8f8f" stroke-width="1"/>
<line x1="719.90" y1="18.5" x2="719.90" y2="325.40" stroke="#8f8f8f" stroke-width="1"/>
<line x1="744.25" y1="18.5" x2="744.25" y2="325.40" stroke="#8f8f8f" stroke-width="1"/>
<line x1="768.60" y1="18.5" x2="768.60" y2="325.40" stroke="#8f8f8f" stroke-width="1"/>
<line x1="792.95" y1="18.5" x2="792.95" y2="325.40" stroke="#8f8f8f" stroke-width="1"/>
<line x1="817.30" y1="18.5" x2="817.30" y2="325.40" stroke="#8f8f8f" stroke-width="1"/>
<line x1="841.65" y1="18.5" x2="841.65" y2="325.40" stroke="#8f8f8f" stroke-width="1"/>
<line x1="866.00" y1="18.5" x2="866.00" y2="325.40" stroke="#8f8f8f" stroke-width="1"/>
<line x1="890.35" y1="18.5" x2="890.35" y2="325.40" stroke="#8f8f8f" stroke-width="1"/>
<line x1="914.70" y1="18.5" x2="914.70" y2="325.40" stroke="#8f8f8f" stroke-width="1"/>
<line x1="939.05" y1="18.5" x2="939.05" y2="325.40" stroke="#8f8f8f" stroke-width="1"/>
<line x1="963.40" y1="18.5" x2="963.40" y2="325.40" stroke="#8f8f8f" stroke-width="1"/>
<line x1="987.75" y1="18.5" x2="987.75" y2="325.40" stroke="#8f8f8f" stroke-width="1"/>
<line x1="1012.10" y1="18.5" x2="1012.10" y2="325.40" stroke="#8f8f8f" stroke-width="1"/>
<line x1="1036.45" y1="18.5" x2="1036.45" y2="325.40" stroke="#8f8f8f" stroke-width="1"/>
<line x1="1060.80" y1="18.5" x2="1060.80" y2="325.40" stroke="#8f8f8f" stroke-width="1"/>
<line x1="1085.15" y1="18.5" x2="1085.15" y2="325.40" stroke="#8f8f8f" stroke-width="1"/>
<line x1="1109.50" y1="18.5" x2="1109.50" y2="325.40" stroke="#8f8f8f" stroke-width="1"/>
<line x1="1133.85" y1="18.5" x2="1133.85" y2="325.40" stroke="#8f8f8f" stroke-width="1"/>
<line x1="1158.20" y1="18.5" x2="1158.20" y2="325.40" stroke="#8f8f8f" stroke-width="1"/>
<line x1="135.5" y1="46.40" x2="1182.55" y2="46.40" stroke="#8f8f8f" stroke-width="1"/>
<line x1="135.5" y1="74.30" x2="1182.55" y2="74.30" stroke="#8f8f8f" stroke-width="1"/>
<line x1="135.5" y1="102.20" x2="1182.55" y2="102.20" stroke="#8f8f8f" stroke-width="1"/>
<line x1="135.5" y1="130.10" x2="1182.55" y2="130.10" stroke="#8f8f8f" stroke-width="1"/>
<line x1="135.5" y1="158.00" x2="1182.55" y2="158.00" stroke="#8f8f8f" stroke-width="1"/>
<line x1="135.5" y1="185.90" x2="1182.55" y2="185.90" stroke="#8f8f8f" stroke-width="1"/>
<line x1="135.5" y1="213.80" x2="1182.55" y2="213.80" stroke="#8f8f8f" stroke-width="1"/>
<line x1="135.5" y1="241.70" x2="1182.55" y2="241.70" stroke="#8f8f8f" stroke-width="1"/>
<line x1="135.5" y1="269.60" x2="1182.55" y2="269.60" stroke="#8f8f8f" stroke-width="1"/>
<line x1="135.5" y1="297.50" x2="1182.55" y2="297.50" stroke="#8f8f8f" stroke-width="1"/>
<text x="439.38" y="45.95" text-anchor="middle" class="hst">*</text>
<text x="853.33" y="45.95" text-anchor="middle" class="hst">*</text>
<text x="877.68" y="45.95" text-anchor="middle" class="hst">*</text>
<text x="902.03" y="45.95" text-anchor="middle" class="hst">*</text>
<text x="171.53" y="73.85" text-anchor="middle" class="hst">*</text>
<text x="195.88" y="73.85" text-anchor="middle" class="hst">*</text>
<text x="293.27" y="73.85" text-anchor="middle" class="hst">*</text>
<text x="317.62" y="73.85" text-anchor="middle" class="hst">*</text>
<text x="341.98" y="73.85" text-anchor="middle" class="hst">*</text>
<text x="366.33" y="73.85" text-anchor="middle" class="hst">*</text>
<text x="439.38" y="73.85" text-anchor="middle" class="hst">*</text>
<text x="463.73" y="73.85" text-anchor="middle" class="hst">*</text>
<text x="512.42" y="73.85" text-anchor="middle" class="hst">*</text>
<text x="609.83" y="73.85" text-anchor="middle" class="hst">*</text>
<text x="634.17" y="73.85" text-anchor="middle" class="hst">*</text>
<text x="658.52" y="73.85" text-anchor="middle" class="hst">*</text>
<text x="682.88" y="73.85" text-anchor="middle" class="hst">*</text>
<text x="755.93" y="73.85" text-anchor="middle" class="hst">*</text>
<text x="780.28" y="73.85" text-anchor="middle" class="hst">*</text>
<text x="804.62" y="73.85" text-anchor="middle" class="hst">*</text>
<text x="828.98" y="73.85" text-anchor="middle" class="hst">*</text>
<text x="902.03" y="73.85" text-anchor="middle" class="hst">*</text>
<text x="1096.83" y="73.85" text-anchor="middle" class="hst">*</text>
<text x="561.12" y="101.75" text-anchor="middle" class="hst">*</text>
<text x="755.93" y="101.75" text-anchor="middle" class="hst">*</text>
<text x="828.98" y="101.75" text-anchor="middle" class="hst">*</text>
<text x="171.53" y="129.65" text-anchor="middle" class="hst">*</text>
<text x="195.88" y="129.65" text-anchor="middle" class="hst">*</text>
<text x="366.33" y="129.65" text-anchor="middle" class="hst">*</text>
<text x="439.38" y="129.65" text-anchor="middle" class="hst">*</text>
<text x="463.73" y="129.65" text-anchor="middle" class="hst">*</text>
<text x="780.28" y="129.65" text-anchor="middle" class="hst">*</text>
<text x="828.98" y="129.65" text-anchor="middle" class="hst">*</text>
<text x="902.03" y="129.65" text-anchor="middle" class="hst">*</text>
<text x="220.23" y="185.45" text-anchor="middle" class="hst">*</text>
<text x="244.57" y="185.45" text-anchor="middle" class="hst">*</text>
<text x="707.23" y="185.45" text-anchor="middle" class="hst">*</text>
<text x="731.58" y="185.45" text-anchor="middle" class="hst">*</text>
<text x="950.73" y="185.45" text-anchor="middle" class="hst">*</text>
<text x="1023.78" y="185.45" text-anchor="middle" class="hst">*</text>
<text x="1048.12" y="185.45" text-anchor="middle" class="hst">*</text>
<text x="220.23" y="213.35" text-anchor="middle" class="hst">*</text>
<text x="244.57" y="213.35" text-anchor="middle" class="hst">*</text>
<text x="293.27" y="213.35" text-anchor="middle" class="hst">*</text>
<text x="317.62" y="213.35" text-anchor="middle" class="hst">*</text>
<text x="341.98" y="213.35" text-anchor="middle" class="hst">*</text>
<text x="366.33" y="213.35" text-anchor="middle" class="hst">*</text>
<text x="390.68" y="213.35" text-anchor="middle" class="hst">*</text>
<text x="488.08" y="213.35" text-anchor="middle" class="hst">*</text>
<text x="536.78" y="213.35" text-anchor="middle" class="hst">*</text>
<text x="609.83" y="213.35" text-anchor="middle" class="hst">*</text>
<text x="634.17" y="213.35" text-anchor="middle" class="hst">*</text>
<text x="658.52" y="213.35" text-anchor="middle" class="hst">*</text>
<text x="682.88" y="213.35" text-anchor="middle" class="hst">*</text>
<text x="707.23" y="213.35" text-anchor="middle" class="hst">*</text>
<text x="731.58" y="213.35" text-anchor="middle" class="hst">*</text>
<text x="755.93" y="213.35" text-anchor="middle" class="hst">*</text>
<text x="780.28" y="213.35" text-anchor="middle" class="hst">*</text>
<text x="828.98" y="213.35" text-anchor="middle" class="hst">*</text>
<text x="926.38" y="213.35" text-anchor="middle" class="hst">*</text>
<text x="950.73" y="213.35" text-anchor="middle" class="hst">*</text>
<text x="975.08" y="213.35" text-anchor="middle" class="hst">*</text>
<text x="999.43" y="213.35" text-anchor="middle" class="hst">*</text>
<text x="1023.78" y="213.35" text-anchor="middle" class="hst">*</text>
<text x="1048.12" y="213.35" text-anchor="middle" class="hst">*</text>
<text x="1072.47" y="213.35" text-anchor="middle" class="hst">*</text>
<text x="1096.83" y="213.35" text-anchor="middle" class="hst">*</text>
<text x="390.68" y="241.25" text-anchor="middle" class="hst">*</text>
<text x="439.38" y="241.25" text-anchor="middle" class="hst">*</text>
<text x="463.73" y="241.25" text-anchor="middle" class="hst">*</text>
<text x="731.58" y="241.25" text-anchor="middle" class="hst">*</text>
<text x="804.62" y="241.25" text-anchor="middle" class="hst">*</text>
<text x="853.33" y="241.25" text-anchor="middle" class="hst">*</text>
<text x="877.68" y="241.25" text-anchor="middle" class="hst">*</text>
<text x="926.38" y="241.25" text-anchor="middle" class="hst">*</text>
<text x="682.88" y="269.15" text-anchor="middle" class="hst">*</text>
<text x="171.53" y="297.05" text-anchor="middle" class="hst">*</text>
<text x="195.88" y="297.05" text-anchor="middle" class="hst">*</text>
<text x="244.57" y="297.05" text-anchor="middle" class="hst">*</text>
<text x="293.27" y="297.05" text-anchor="middle" class="hst">*</text>
<text x="317.62" y="297.05" text-anchor="middle" class="hst">*</text>
<text x="341.98" y="297.05" text-anchor="middle" class="hst">*</text>
<text x="366.33" y="297.05" text-anchor="middle" class="hst">*</text>
<text x="390.68" y="297.05" text-anchor="middle" class="hst">*</text>
<text x="415.03" y="297.05" text-anchor="middle" class="hst">*</text>
<text x="439.38" y="297.05" text-anchor="middle" class="hst">*</text>
<text x="463.73" y="297.05" text-anchor="middle" class="hst">*</text>
<text x="512.42" y="297.05" text-anchor="middle" class="hst">*</text>
<text x="561.12" y="297.05" text-anchor="middle" class="hst">*</text>
<text x="609.83" y="297.05" text-anchor="middle" class="hst">*</text>
<text x="634.17" y="297.05" text-anchor="middle" class="hst">*</text>
<text x="658.52" y="297.05" text-anchor="middle" class="hst">*</text>
<text x="682.88" y="297.05" text-anchor="middle" class="hst">*</text>
<text x="707.23" y="297.05" text-anchor="middle" class="hst">*</text>
<text x="731.58" y="297.05" text-anchor="middle" class="hst">*</text>
<text x="755.93" y="297.05" text-anchor="middle" class="hst">*</text>
<text x="780.28" y="297.05" text-anchor="middle" class="hst">*</text>
<text x="804.62" y="297.05" text-anchor="middle" class="hst">*</text>
<text x="828.98" y="297.05" text-anchor="middle" class="hst">*</text>
<text x="853.33" y="297.05" text-anchor="middle" class="hst">*</text>
<text x="902.03" y="297.05" text-anchor="middle" class="hst">*</text>
<text x="926.38" y="297.05" text-anchor="middle" class="hst">*</text>
<text x="950.73" y="297.05" text-anchor="middle" class="hst">*</text>
<text x="975.08" y="297.05" text-anchor="middle" class="hst">*</text>
<text x="999.43" y="297.05" text-anchor="middle" class="hst">*</text>
<text x="1023.78" y="297.05" text-anchor="middle" class="hst">*</text>
<text x="1048.12" y="297.05" text-anchor="middle" class="hst">*</text>
<text x="1072.47" y="297.05" text-anchor="middle" class="hst">*</text>
<text x="1096.83" y="297.05" text-anchor="middle" class="hst">*</text>
<text x="317.62" y="324.95" text-anchor="middle" class="hst">*</text>
<text x="439.38" y="324.95" text-anchor="middle" class="hst">*</text>
<text x="512.42" y="324.95" text-anchor="middle" class="hst">*</text>
<text x="804.62" y="324.95" text-anchor="middle" class="hst">*</text>
<rect x="135.5" y="18.5" width="1047.05" height="306.90" fill="none" stroke="#000" stroke-width="2.6"/>
<line x1="128.5" y1="32.45" x2="135.5" y2="32.45" stroke="#000" stroke-width="2.6"/>
<text transform="translate(122.00 40.45) scale(1 1.08)" text-anchor="end" class="t" style="font-size:22.4px">4-1BBL</text>
<line x1="128.5" y1="60.35" x2="135.5" y2="60.35" stroke="#000" stroke-width="2.6"/>
<text transform="translate(122.00 68.35) scale(1 1.08)" text-anchor="end" class="t" style="font-size:22.4px">CD40</text>
<line x1="128.5" y1="88.25" x2="135.5" y2="88.25" stroke="#000" stroke-width="2.6"/>
<text transform="translate(122.00 96.25) scale(1 1.08)" text-anchor="end" class="t" style="font-size:22.4px">CD54</text>
<line x1="128.5" y1="116.15" x2="135.5" y2="116.15" stroke="#000" stroke-width="2.6"/>
<text transform="translate(122.00 124.15) scale(1 1.08)" text-anchor="end" class="t" style="font-size:22.4px">CD80</text>
<line x1="128.5" y1="144.05" x2="135.5" y2="144.05" stroke="#000" stroke-width="2.6"/>
<text transform="translate(122.00 152.05) scale(1 1.08)" text-anchor="end" class="t" style="font-size:22.4px">CD83</text>
<line x1="128.5" y1="171.95" x2="135.5" y2="171.95" stroke="#000" stroke-width="2.6"/>
<text transform="translate(122.00 179.95) scale(1 1.08)" text-anchor="end" class="t" style="font-size:22.4px">CD86</text>
<line x1="128.5" y1="199.85" x2="135.5" y2="199.85" stroke="#000" stroke-width="2.6"/>
<text transform="translate(122.00 207.85) scale(1 1.08)" text-anchor="end" class="t" style="font-size:22.4px">CD252</text>
<line x1="128.5" y1="227.75" x2="135.5" y2="227.75" stroke="#000" stroke-width="2.6"/>
<text transform="translate(122.00 235.75) scale(1 1.08)" text-anchor="end" class="t" style="font-size:22.4px">MHC-I</text>
<line x1="128.5" y1="255.65" x2="135.5" y2="255.65" stroke="#000" stroke-width="2.6"/>
<text transform="translate(122.00 263.65) scale(1 1.08)" text-anchor="end" class="t" style="font-size:22.4px">MHC-II</text>
<line x1="128.5" y1="283.55" x2="135.5" y2="283.55" stroke="#000" stroke-width="2.6"/>
<text transform="translate(122.00 291.55) scale(1 1.08)" text-anchor="end" class="t" style="font-size:22.4px">PD-L1</text>
<line x1="128.5" y1="311.45" x2="135.5" y2="311.45" stroke="#000" stroke-width="2.6"/>
<text transform="translate(122.00 319.45) scale(1 1.08)" text-anchor="end" class="t" style="font-size:22.4px">PD-L2</text>
<line x1="147.68" y1="325.40" x2="147.68" y2="332.40" stroke="#000" stroke-width="2.6"/>
<text x="153.68" y="349.40" text-anchor="end" class="t" transform="rotate(-45 153.68 349.40)">unstimulated</text>
<line x1="172.03" y1="325.40" x2="172.03" y2="332.40" stroke="#000" stroke-width="2.6"/>
<text x="178.19" y="349.40" text-anchor="end" class="t" transform="rotate(-45 178.19 349.40)">LPS10</text>
<line x1="196.38" y1="325.40" x2="196.38" y2="332.40" stroke="#000" stroke-width="2.6"/>
<text x="202.72" y="349.40" text-anchor="end" class="t" transform="rotate(-45 202.72 349.40)">LPS100</text>
<line x1="220.73" y1="325.40" x2="220.73" y2="332.40" stroke="#000" stroke-width="2.6"/>
<text x="227.24" y="349.40" text-anchor="end" class="t" transform="rotate(-45 227.24 349.40)">A12</text>
<line x1="245.07" y1="325.40" x2="245.07" y2="332.40" stroke="#000" stroke-width="2.6"/>
<text x="251.75" y="349.40" text-anchor="end" class="t" transform="rotate(-45 251.75 349.40)">A18</text>
<line x1="269.43" y1="325.40" x2="269.43" y2="332.40" stroke="#000" stroke-width="2.6"/>
<text x="276.28" y="349.40" text-anchor="end" class="t" transform="rotate(-45 276.28 349.40)">A31</text>
<line x1="293.77" y1="325.40" x2="293.77" y2="332.40" stroke="#000" stroke-width="2.6"/>
<text x="300.79" y="349.40" text-anchor="end" class="t" transform="rotate(-45 300.79 349.40)">B3</text>
<line x1="318.12" y1="325.40" x2="318.12" y2="332.40" stroke="#000" stroke-width="2.6"/>
<text x="325.31" y="349.40" text-anchor="end" class="t" transform="rotate(-45 325.31 349.40)">B7</text>
<line x1="342.48" y1="325.40" x2="342.48" y2="332.40" stroke="#000" stroke-width="2.6"/>
<text x="349.84" y="349.40" text-anchor="end" class="t" transform="rotate(-45 349.84 349.40)">B11</text>
<line x1="366.83" y1="325.40" x2="366.83" y2="332.40" stroke="#000" stroke-width="2.6"/>
<text x="374.36" y="349.40" text-anchor="end" class="t" transform="rotate(-45 374.36 349.40)">B14</text>
<line x1="391.18" y1="325.40" x2="391.18" y2="332.40" stroke="#000" stroke-width="2.6"/>
<text x="398.88" y="349.40" text-anchor="end" class="t" transform="rotate(-45 398.88 349.40)">B16</text>
<line x1="415.53" y1="325.40" x2="415.53" y2="332.40" stroke="#000" stroke-width="2.6"/>
<text x="423.40" y="349.40" text-anchor="end" class="t" transform="rotate(-45 423.40 349.40)">B21</text>
<line x1="439.88" y1="325.40" x2="439.88" y2="332.40" stroke="#000" stroke-width="2.6"/>
<text x="447.92" y="349.40" text-anchor="end" class="t" transform="rotate(-45 447.92 349.40)">B34</text>
<line x1="464.23" y1="325.40" x2="464.23" y2="332.40" stroke="#000" stroke-width="2.6"/>
<text x="472.44" y="349.40" text-anchor="end" class="t" transform="rotate(-45 472.44 349.40)">B35</text>
<line x1="488.58" y1="325.40" x2="488.58" y2="332.40" stroke="#000" stroke-width="2.6"/>
<text x="496.96" y="349.40" text-anchor="end" class="t" transform="rotate(-45 496.96 349.40)">B50</text>
<line x1="512.92" y1="325.40" x2="512.92" y2="332.40" stroke="#000" stroke-width="2.6"/>
<text x="521.47" y="349.40" text-anchor="end" class="t" transform="rotate(-45 521.47 349.40)">C1</text>
<line x1="537.28" y1="325.40" x2="537.28" y2="332.40" stroke="#000" stroke-width="2.6"/>
<text x="546.00" y="349.40" text-anchor="end" class="t" transform="rotate(-45 546.00 349.40)">C2</text>
<line x1="561.62" y1="325.40" x2="561.62" y2="332.40" stroke="#000" stroke-width="2.6"/>
<text x="570.51" y="349.40" text-anchor="end" class="t" transform="rotate(-45 570.51 349.40)">C5</text>
<line x1="585.98" y1="325.40" x2="585.98" y2="332.40" stroke="#000" stroke-width="2.6"/>
<text x="595.03" y="349.40" text-anchor="end" class="t" transform="rotate(-45 595.03 349.40)">C6</text>
<line x1="610.33" y1="325.40" x2="610.33" y2="332.40" stroke="#000" stroke-width="2.6"/>
<text x="619.56" y="349.40" text-anchor="end" class="t" transform="rotate(-45 619.56 349.40)">D8</text>
<line x1="634.67" y1="325.40" x2="634.67" y2="332.40" stroke="#000" stroke-width="2.6"/>
<text x="644.07" y="349.40" text-anchor="end" class="t" transform="rotate(-45 644.07 349.40)">D9</text>
<line x1="659.02" y1="325.40" x2="659.02" y2="332.40" stroke="#000" stroke-width="2.6"/>
<text x="668.60" y="349.40" text-anchor="end" class="t" transform="rotate(-45 668.60 349.40)">D10</text>
<line x1="683.38" y1="325.40" x2="683.38" y2="332.40" stroke="#000" stroke-width="2.6"/>
<text x="693.12" y="349.40" text-anchor="end" class="t" transform="rotate(-45 693.12 349.40)">D13</text>
<line x1="707.73" y1="325.40" x2="707.73" y2="332.40" stroke="#000" stroke-width="2.6"/>
<text x="717.63" y="349.40" text-anchor="end" class="t" transform="rotate(-45 717.63 349.40)">D17</text>
<line x1="732.08" y1="325.40" x2="732.08" y2="332.40" stroke="#000" stroke-width="2.6"/>
<text x="742.16" y="349.40" text-anchor="end" class="t" transform="rotate(-45 742.16 349.40)">D20</text>
<line x1="756.43" y1="325.40" x2="756.43" y2="332.40" stroke="#000" stroke-width="2.6"/>
<text x="766.68" y="349.40" text-anchor="end" class="t" transform="rotate(-45 766.68 349.40)">D24</text>
<line x1="780.78" y1="325.40" x2="780.78" y2="332.40" stroke="#000" stroke-width="2.6"/>
<text x="791.20" y="349.40" text-anchor="end" class="t" transform="rotate(-45 791.20 349.40)">D25</text>
<line x1="805.12" y1="325.40" x2="805.12" y2="332.40" stroke="#000" stroke-width="2.6"/>
<text x="815.72" y="349.40" text-anchor="end" class="t" transform="rotate(-45 815.72 349.40)">D26</text>
<line x1="829.48" y1="325.40" x2="829.48" y2="332.40" stroke="#000" stroke-width="2.6"/>
<text x="840.24" y="349.40" text-anchor="end" class="t" transform="rotate(-45 840.24 349.40)">D27</text>
<line x1="853.83" y1="325.40" x2="853.83" y2="332.40" stroke="#000" stroke-width="2.6"/>
<text x="864.75" y="349.40" text-anchor="end" class="t" transform="rotate(-45 864.75 349.40)">D33</text>
<line x1="878.18" y1="325.40" x2="878.18" y2="332.40" stroke="#000" stroke-width="2.6"/>
<text x="889.28" y="349.40" text-anchor="end" class="t" transform="rotate(-45 889.28 349.40)">D37</text>
<line x1="902.53" y1="325.40" x2="902.53" y2="332.40" stroke="#000" stroke-width="2.6"/>
<text x="913.80" y="349.40" text-anchor="end" class="t" transform="rotate(-45 913.80 349.40)">D48</text>
<line x1="926.88" y1="325.40" x2="926.88" y2="332.40" stroke="#000" stroke-width="2.6"/>
<text x="938.32" y="349.40" text-anchor="end" class="t" transform="rotate(-45 938.32 349.40)">D65</text>
<line x1="951.23" y1="325.40" x2="951.23" y2="332.40" stroke="#000" stroke-width="2.6"/>
<text x="962.84" y="349.40" text-anchor="end" class="t" transform="rotate(-45 962.84 349.40)">D69</text>
<line x1="975.58" y1="325.40" x2="975.58" y2="332.40" stroke="#000" stroke-width="2.6"/>
<text x="987.36" y="349.40" text-anchor="end" class="t" transform="rotate(-45 987.36 349.40)">D70</text>
<line x1="999.93" y1="325.40" x2="999.93" y2="332.40" stroke="#000" stroke-width="2.6"/>
<text x="1011.88" y="349.40" text-anchor="end" class="t" transform="rotate(-45 1011.88 349.40)">D73</text>
<line x1="1024.28" y1="325.40" x2="1024.28" y2="332.40" stroke="#000" stroke-width="2.6"/>
<text x="1036.39" y="349.40" text-anchor="end" class="t" transform="rotate(-45 1036.39 349.40)">D74</text>
<line x1="1048.62" y1="325.40" x2="1048.62" y2="332.40" stroke="#000" stroke-width="2.6"/>
<text x="1060.91" y="349.40" text-anchor="end" class="t" transform="rotate(-45 1060.91 349.40)">D75</text>
<line x1="1072.97" y1="325.40" x2="1072.97" y2="332.40" stroke="#000" stroke-width="2.6"/>
<text x="1085.43" y="349.40" text-anchor="end" class="t" transform="rotate(-45 1085.43 349.40)">D80</text>
<line x1="1097.33" y1="325.40" x2="1097.33" y2="332.40" stroke="#000" stroke-width="2.6"/>
<text x="1109.96" y="349.40" text-anchor="end" class="t" transform="rotate(-45 1109.96 349.40)">E4</text>
<line x1="1121.68" y1="325.40" x2="1121.68" y2="332.40" stroke="#000" stroke-width="2.6"/>
<text x="1134.48" y="349.40" text-anchor="end" class="t" transform="rotate(-45 1134.48 349.40)">ChAdOx</text>
<line x1="1146.03" y1="325.40" x2="1146.03" y2="332.40" stroke="#000" stroke-width="2.6"/>
<text x="1159.00" y="349.40" text-anchor="end" class="t" transform="rotate(-45 1159.00 349.40)">F41</text>
<line x1="1170.38" y1="325.40" x2="1170.38" y2="332.40" stroke="#000" stroke-width="2.6"/>
<text x="1183.52" y="349.40" text-anchor="end" class="t" transform="rotate(-45 1183.52 349.40)">G52</text>
</g>
<g id="legend">
<rect x="1203.7" y="65.00" width="25.3" height="26.05" fill="#990000"/>
<line x1="1203.7" y1="78.00" x2="1209.2" y2="78.00" stroke="#000" stroke-width="2.2"/>
<line x1="1223.5" y1="78.00" x2="1229.0" y2="78.00" stroke="#000" stroke-width="2.2"/>
<text transform="translate(1239.20 84.20) scale(1 1.13)" class="t">2.51 - 3.00</text>
<rect x="1203.7" y="91.00" width="25.3" height="26.05" fill="#ff0000"/>
<line x1="1203.7" y1="104.00" x2="1209.2" y2="104.00" stroke="#000" stroke-width="2.2"/>
<line x1="1223.5" y1="104.00" x2="1229.0" y2="104.00" stroke="#000" stroke-width="2.2"/>
<text transform="translate(1239.20 110.20) scale(1 1.13)" class="t">2.01 - 2.50</text>
<rect x="1203.7" y="117.00" width="25.3" height="26.05" fill="#ff8080"/>
<line x1="1203.7" y1="130.00" x2="1209.2" y2="130.00" stroke="#000" stroke-width="2.2"/>
<line x1="1223.5" y1="130.00" x2="1229.0" y2="130.00" stroke="#000" stroke-width="2.2"/>
<text transform="translate(1239.20 136.20) scale(1 1.13)" class="t">1.51 - 2.00</text>
<rect x="1203.7" y="143.00" width="25.3" height="26.05" fill="#ffcccc"/>
<line x1="1203.7" y1="156.00" x2="1209.2" y2="156.00" stroke="#000" stroke-width="2.2"/>
<line x1="1223.5" y1="156.00" x2="1229.0" y2="156.00" stroke="#000" stroke-width="2.2"/>
<text transform="translate(1239.20 162.20) scale(1 1.13)" class="t">1.01 - 1.50</text>
<rect x="1203.7" y="169.00" width="25.3" height="26.05" fill="#ffffff"/>
<line x1="1203.7" y1="182.00" x2="1209.2" y2="182.00" stroke="#000" stroke-width="2.2"/>
<line x1="1223.5" y1="182.00" x2="1229.0" y2="182.00" stroke="#000" stroke-width="2.2"/>
<text transform="translate(1239.20 188.20) scale(1 1.13)" class="t">1</text>
<rect x="1203.7" y="195.00" width="25.3" height="26.05" fill="#c0c0ff"/>
<line x1="1203.7" y1="208.00" x2="1209.2" y2="208.00" stroke="#000" stroke-width="2.2"/>
<line x1="1223.5" y1="208.00" x2="1229.0" y2="208.00" stroke="#000" stroke-width="2.2"/>
<text transform="translate(1239.20 214.20) scale(1 1.13)" class="t">0.91 - 0.99</text>
<rect x="1203.7" y="221.00" width="25.3" height="26.05" fill="#8c8cff"/>
<line x1="1203.7" y1="234.00" x2="1209.2" y2="234.00" stroke="#000" stroke-width="2.2"/>
<line x1="1223.5" y1="234.00" x2="1229.0" y2="234.00" stroke="#000" stroke-width="2.2"/>
<text transform="translate(1239.20 240.20) scale(1 1.13)" class="t">0.81 - 0.90</text>
<rect x="1203.7" y="247.00" width="25.3" height="26.05" fill="#5959ff"/>
<line x1="1203.7" y1="260.00" x2="1209.2" y2="260.00" stroke="#000" stroke-width="2.2"/>
<line x1="1223.5" y1="260.00" x2="1229.0" y2="260.00" stroke="#000" stroke-width="2.2"/>
<text transform="translate(1239.20 266.20) scale(1 1.13)" class="t">0.71 - 0.80</text>
<rect x="1203.7" y="273.00" width="25.3" height="26.05" fill="#0000ff"/>
<line x1="1203.7" y1="286.00" x2="1209.2" y2="286.00" stroke="#000" stroke-width="2.2"/>
<line x1="1223.5" y1="286.00" x2="1229.0" y2="286.00" stroke="#000" stroke-width="2.2"/>
<text transform="translate(1239.20 292.20) scale(1 1.13)" class="t">0.61 - 0.70</text>
<rect x="1203.7" y="299.00" width="25.3" height="26.05" fill="#000080"/>
<line x1="1203.7" y1="312.00" x2="1209.2" y2="312.00" stroke="#000" stroke-width="2.2"/>
<line x1="1223.5" y1="312.00" x2="1229.0" y2="312.00" stroke="#000" stroke-width="2.2"/>
<text transform="translate(1239.20 318.20) scale(1 1.13)" class="t">0.51 - 0.60</text>
<rect x="1203.7" y="65.0" width="25.3" height="260.00" fill="none" stroke="#000" stroke-width="2.6"/>
<text transform="translate(1201 21) scale(1 1.1)" class="t">MFI</text>
<text x="1201" y="48" class="t">fold-change</text>
</g>
<g>
<line x1="135.5" y1="779.65" x2="1355" y2="779.65" stroke="#000" stroke-width="2.6" stroke-dasharray="7.5 5"/>
<circle cx="151.18" cy="741.10" r="4.1" fill="#d9d9d9" stroke="#000" stroke-width="0.9"/>
<circle cx="151.18" cy="757.90" r="4.1" fill="#d9d9d9" stroke="#000" stroke-width="0.9"/>
<circle cx="155.58" cy="762.85" r="4.1" fill="#d9d9d9" stroke="#000" stroke-width="0.9"/>
<circle cx="151.18" cy="767.79" r="4.1" fill="#d9d9d9" stroke="#000" stroke-width="0.9"/>
<circle cx="157.38" cy="769.76" r="4.1" fill="#d9d9d9" stroke="#000" stroke-width="0.9"/>
<circle cx="146.78" cy="772.73" r="4.1" fill="#d9d9d9" stroke="#000" stroke-width="0.9"/>
<circle cx="153.38" cy="774.71" r="4.1" fill="#d9d9d9" stroke="#000" stroke-width="0.9"/>
<circle cx="148.98" cy="776.68" r="4.1" fill="#d9d9d9" stroke="#000" stroke-width="0.9"/>
<circle cx="157.38" cy="778.66" r="4.1" fill="#d9d9d9" stroke="#000" stroke-width="0.9"/>
<circle cx="144.98" cy="780.64" r="4.1" fill="#d9d9d9" stroke="#000" stroke-width="0.9"/>
<circle cx="151.18" cy="782.62" r="4.1" fill="#d9d9d9" stroke="#000" stroke-width="0.9"/>
<circle cx="157.38" cy="784.59" r="4.1" fill="#d9d9d9" stroke="#000" stroke-width="0.9"/>
<circle cx="144.98" cy="786.57" r="4.1" fill="#d9d9d9" stroke="#000" stroke-width="0.9"/>
<circle cx="151.18" cy="789.53" r="4.1" fill="#d9d9d9" stroke="#000" stroke-width="0.9"/>
<circle cx="157.38" cy="791.51" r="4.1" fill="#d9d9d9" stroke="#000" stroke-width="0.9"/>
<circle cx="146.78" cy="794.48" r="4.1" fill="#d9d9d9" stroke="#000" stroke-width="0.9"/>
<circle cx="151.18" cy="799.42" r="4.1" fill="#d9d9d9" stroke="#000" stroke-width="0.9"/>
<circle cx="155.58" cy="804.36" r="4.1" fill="#d9d9d9" stroke="#000" stroke-width="0.9"/>
<circle cx="148.98" cy="808.32" r="4.1" fill="#d9d9d9" stroke="#000" stroke-width="0.9"/>
<rect x="144.38" y="780.64" width="13.6" height="97.86" fill="none" stroke="#000" stroke-width="2.8"/>
<line x1="151.18" y1="771.74" x2="151.18" y2="789.53" stroke="#000" stroke-width="1.8"/>
<line x1="147.38" y1="771.74" x2="154.98" y2="771.74" stroke="#000" stroke-width="1.8"/>
<line x1="147.38" y1="789.53" x2="154.98" y2="789.53" stroke="#000" stroke-width="1.8"/>
<line x1="151.18" y1="878.50" x2="151.18" y2="889.50" stroke="#000" stroke-width="2.2"/>
<text x="161.68" y="904.50" text-anchor="end" class="t" transform="rotate(-45 161.68 904.50)">unstimulated</text>
<circle cx="192.66" cy="637.31" r="4.1" fill="#808080" stroke="#000" stroke-width="0.9"/>
<circle cx="192.66" cy="664.98" r="4.1" fill="#808080" stroke="#000" stroke-width="0.9"/>
<circle cx="192.66" cy="684.75" r="4.1" fill="#808080" stroke="#000" stroke-width="0.9"/>
<circle cx="198.86" cy="688.71" r="4.1" fill="#808080" stroke="#000" stroke-width="0.9"/>
<circle cx="192.66" cy="693.65" r="4.1" fill="#808080" stroke="#000" stroke-width="0.9"/>
<circle cx="197.06" cy="698.59" r="4.1" fill="#808080" stroke="#000" stroke-width="0.9"/>
<circle cx="192.66" cy="709.47" r="4.1" fill="#808080" stroke="#000" stroke-width="0.9"/>
<circle cx="192.66" cy="722.32" r="4.1" fill="#808080" stroke="#000" stroke-width="0.9"/>
<circle cx="198.86" cy="726.27" r="4.1" fill="#808080" stroke="#000" stroke-width="0.9"/>
<circle cx="192.66" cy="739.12" r="4.1" fill="#808080" stroke="#000" stroke-width="0.9"/>
<circle cx="192.66" cy="746.04" r="4.1" fill="#808080" stroke="#000" stroke-width="0.9"/>
<circle cx="197.06" cy="750.98" r="4.1" fill="#808080" stroke="#000" stroke-width="0.9"/>
<circle cx="190.46" cy="754.94" r="4.1" fill="#808080" stroke="#000" stroke-width="0.9"/>
<circle cx="192.66" cy="763.83" r="4.1" fill="#808080" stroke="#000" stroke-width="0.9"/>
<circle cx="192.66" cy="772.73" r="4.1" fill="#808080" stroke="#000" stroke-width="0.9"/>
<circle cx="198.86" cy="776.68" r="4.1" fill="#808080" stroke="#000" stroke-width="0.9"/>
<circle cx="192.66" cy="781.63" r="4.1" fill="#808080" stroke="#000" stroke-width="0.9"/>
<circle cx="198.86" cy="784.59" r="4.1" fill="#808080" stroke="#000" stroke-width="0.9"/>
<circle cx="190.46" cy="787.56" r="4.1" fill="#808080" stroke="#000" stroke-width="0.9"/>
<circle cx="197.06" cy="790.52" r="4.1" fill="#808080" stroke="#000" stroke-width="0.9"/>
<circle cx="188.26" cy="793.49" r="4.1" fill="#808080" stroke="#000" stroke-width="0.9"/>
<circle cx="194.86" cy="796.45" r="4.1" fill="#808080" stroke="#000" stroke-width="0.9"/>
<circle cx="186.46" cy="799.42" r="4.1" fill="#808080" stroke="#000" stroke-width="0.9"/>
<circle cx="192.66" cy="802.39" r="4.1" fill="#808080" stroke="#000" stroke-width="0.9"/>
<circle cx="198.86" cy="805.35" r="4.1" fill="#808080" stroke="#000" stroke-width="0.9"/>
<circle cx="190.46" cy="808.32" r="4.1" fill="#808080" stroke="#000" stroke-width="0.9"/>
<circle cx="197.06" cy="811.28" r="4.1" fill="#808080" stroke="#000" stroke-width="0.9"/>
<circle cx="188.26" cy="814.25" r="4.1" fill="#808080" stroke="#000" stroke-width="0.9"/>
<circle cx="194.86" cy="817.21" r="4.1" fill="#808080" stroke="#000" stroke-width="0.9"/>
<circle cx="186.46" cy="820.18" r="4.1" fill="#808080" stroke="#000" stroke-width="0.9"/>
<circle cx="192.66" cy="823.14" r="4.1" fill="#808080" stroke="#000" stroke-width="0.9"/>
<circle cx="198.86" cy="826.11" r="4.1" fill="#808080" stroke="#000" stroke-width="0.9"/>
<circle cx="190.46" cy="829.08" r="4.1" fill="#808080" stroke="#000" stroke-width="0.9"/>
<circle cx="197.06" cy="832.04" r="4.1" fill="#808080" stroke="#000" stroke-width="0.9"/>
<circle cx="188.26" cy="835.01" r="4.1" fill="#808080" stroke="#000" stroke-width="0.9"/>
<circle cx="194.86" cy="838.96" r="4.1" fill="#808080" stroke="#000" stroke-width="0.9"/>
<circle cx="188.26" cy="842.91" r="4.1" fill="#808080" stroke="#000" stroke-width="0.9"/>
<circle cx="194.86" cy="846.87" r="4.1" fill="#808080" stroke="#000" stroke-width="0.9"/>
<circle cx="188.26" cy="850.82" r="4.1" fill="#808080" stroke="#000" stroke-width="0.9"/>
<rect x="185.86" y="775.70" width="13.6" height="102.80" fill="none" stroke="#000" stroke-width="2.8"/>
<line x1="192.66" y1="719.35" x2="192.66" y2="830.06" stroke="#000" stroke-width="1.8"/>
<line x1="188.86" y1="719.35" x2="196.46" y2="719.35" stroke="#000" stroke-width="1.8"/>
<line x1="188.86" y1="830.06" x2="196.46" y2="830.06" stroke="#000" stroke-width="1.8"/>
<line x1="192.66" y1="878.50" x2="192.66" y2="889.50" stroke="#000" stroke-width="2.2"/>
<text x="203.16" y="904.50" text-anchor="end" class="t" transform="rotate(-45 203.16 904.50)">LPS10</text>
<circle cx="217.51" cy="533.51" r="4.1" fill="#808080" stroke="#000" stroke-width="0.9"/>
<circle cx="217.51" cy="602.71" r="4.1" fill="#808080" stroke="#000" stroke-width="0.9"/>
<circle cx="217.51" cy="635.33" r="4.1" fill="#808080" stroke="#000" stroke-width="0.9"/>
<circle cx="217.51" cy="658.06" r="4.1" fill="#808080" stroke="#000" stroke-width="0.9"/>
<circle cx="217.51" cy="687.72" r="4.1" fill="#808080" stroke="#000" stroke-width="0.9"/>
<circle cx="223.71" cy="688.71" r="4.1" fill="#808080" stroke="#000" stroke-width="0.9"/>
<circle cx="217.51" cy="725.28" r="4.1" fill="#808080" stroke="#000" stroke-width="0.9"/>
<circle cx="217.51" cy="745.05" r="4.1" fill="#808080" stroke="#000" stroke-width="0.9"/>
<circle cx="221.91" cy="750.00" r="4.1" fill="#808080" stroke="#000" stroke-width="0.9"/>
<circle cx="217.51" cy="754.94" r="4.1" fill="#808080" stroke="#000" stroke-width="0.9"/>
<circle cx="221.91" cy="759.88" r="4.1" fill="#808080" stroke="#000" stroke-width="0.9"/>
<circle cx="217.51" cy="764.82" r="4.1" fill="#808080" stroke="#000" stroke-width="0.9"/>
<circle cx="221.91" cy="769.76" r="4.1" fill="#808080" stroke="#000" stroke-width="0.9"/>
<circle cx="217.51" cy="774.71" r="4.1" fill="#808080" stroke="#000" stroke-width="0.9"/>
<circle cx="221.91" cy="779.65" r="4.1" fill="#808080" stroke="#000" stroke-width="0.9"/>
<circle cx="215.31" cy="783.60" r="4.1" fill="#808080" stroke="#000" stroke-width="0.9"/>
<circle cx="221.91" cy="787.56" r="4.1" fill="#808080" stroke="#000" stroke-width="0.9"/>
<circle cx="215.31" cy="791.51" r="4.1" fill="#808080" stroke="#000" stroke-width="0.9"/>
<circle cx="221.91" cy="795.47" r="4.1" fill="#808080" stroke="#000" stroke-width="0.9"/>
<circle cx="215.31" cy="799.42" r="4.1" fill="#808080" stroke="#000" stroke-width="0.9"/>
<circle cx="221.91" cy="803.37" r="4.1" fill="#808080" stroke="#000" stroke-width="0.9"/>
<circle cx="215.31" cy="807.33" r="4.1" fill="#808080" stroke="#000" stroke-width="0.9"/>
<circle cx="221.91" cy="811.28" r="4.1" fill="#808080" stroke="#000" stroke-width="0.9"/>
<circle cx="215.31" cy="815.24" r="4.1" fill="#808080" stroke="#000" stroke-width="0.9"/>
<circle cx="217.51" cy="824.13" r="4.1" fill="#808080" stroke="#000" stroke-width="0.9"/>
<circle cx="223.71" cy="827.10" r="4.1" fill="#808080" stroke="#000" stroke-width="0.9"/>
<circle cx="215.31" cy="830.06" r="4.1" fill="#808080" stroke="#000" stroke-width="0.9"/>
<circle cx="221.91" cy="833.03" r="4.1" fill="#808080" stroke="#000" stroke-width="0.9"/>
<circle cx="217.51" cy="843.90" r="4.1" fill="#808080" stroke="#000" stroke-width="0.9"/>
<rect x="210.71" y="762.85" width="13.6" height="115.65" fill="none" stroke="#000" stroke-width="2.8"/>
<line x1="217.51" y1="692.66" x2="217.51" y2="828.09" stroke="#000" stroke-width="1.8"/>
<line x1="213.71" y1="692.66" x2="221.31" y2="692.66" stroke="#000" stroke-width="1.8"/>
<line x1="213.71" y1="828.09" x2="221.31" y2="828.09" stroke="#000" stroke-width="1.8"/>
<line x1="217.51" y1="878.50" x2="217.51" y2="889.50" stroke="#000" stroke-width="2.2"/>
<text x="228.01" y="904.50" text-anchor="end" class="t" transform="rotate(-45 228.01 904.50)">LPS100</text>
<circle cx="258.99" cy="693.65" r="4.1" fill="#aa0000" stroke="#000" stroke-width="0.9"/>
<circle cx="258.99" cy="732.20" r="4.1" fill="#aa0000" stroke="#000" stroke-width="0.9"/>
<circle cx="258.99" cy="750.00" r="4.1" fill="#aa0000" stroke="#000" stroke-width="0.9"/>
<circle cx="265.19" cy="753.95" r="4.1" fill="#aa0000" stroke="#000" stroke-width="0.9"/>
<circle cx="258.99" cy="757.90" r="4.1" fill="#aa0000" stroke="#000" stroke-width="0.9"/>
<circle cx="265.19" cy="760.87" r="4.1" fill="#aa0000" stroke="#000" stroke-width="0.9"/>
<circle cx="256.79" cy="763.83" r="4.1" fill="#aa0000" stroke="#000" stroke-width="0.9"/>
<circle cx="263.39" cy="766.80" r="4.1" fill="#aa0000" stroke="#000" stroke-width="0.9"/>
<circle cx="254.59" cy="769.76" r="4.1" fill="#aa0000" stroke="#000" stroke-width="0.9"/>
<circle cx="261.19" cy="772.73" r="4.1" fill="#aa0000" stroke="#000" stroke-width="0.9"/>
<circle cx="252.79" cy="775.70" r="4.1" fill="#aa0000" stroke="#000" stroke-width="0.9"/>
<circle cx="258.99" cy="778.66" r="4.1" fill="#aa0000" stroke="#000" stroke-width="0.9"/>
<rect x="252.19" y="762.85" width="13.6" height="115.65" fill="none" stroke="#000" stroke-width="2.8"/>
<line x1="258.99" y1="742.09" x2="258.99" y2="783.60" stroke="#000" stroke-width="1.8"/>
<line x1="255.19" y1="742.09" x2="262.79" y2="742.09" stroke="#000" stroke-width="1.8"/>
<line x1="255.19" y1="783.60" x2="262.79" y2="783.60" stroke="#000" stroke-width="1.8"/>
<line x1="258.99" y1="878.50" x2="258.99" y2="889.50" stroke="#000" stroke-width="2.2"/>
<text x="269.49" y="904.50" text-anchor="end" class="t" transform="rotate(-45 269.49 904.50)">A12</text>
<circle cx="283.84" cy="756.91" r="4.1" fill="#aa0000" stroke="#000" stroke-width="0.9"/>
<circle cx="283.84" cy="763.83" r="4.1" fill="#aa0000" stroke="#000" stroke-width="0.9"/>
<circle cx="283.84" cy="774.71" r="4.1" fill="#aa0000" stroke="#000" stroke-width="0.9"/>
<circle cx="283.84" cy="799.42" r="4.1" fill="#aa0000" stroke="#000" stroke-width="0.9"/>
<circle cx="288.24" cy="804.36" r="4.1" fill="#aa0000" stroke="#000" stroke-width="0.9"/>
<circle cx="281.64" cy="807.33" r="4.1" fill="#aa0000" stroke="#000" stroke-width="0.9"/>
<circle cx="290.04" cy="809.31" r="4.1" fill="#aa0000" stroke="#000" stroke-width="0.9"/>
<circle cx="277.64" cy="812.27" r="4.1" fill="#aa0000" stroke="#000" stroke-width="0.9"/>
<circle cx="283.84" cy="815.24" r="4.1" fill="#aa0000" stroke="#000" stroke-width="0.9"/>
<circle cx="290.04" cy="817.21" r="4.1" fill="#aa0000" stroke="#000" stroke-width="0.9"/>
<circle cx="281.64" cy="821.17" r="4.1" fill="#aa0000" stroke="#000" stroke-width="0.9"/>
<rect x="277.04" y="798.43" width="13.6" height="80.07" fill="none" stroke="#000" stroke-width="2.8"/>
<line x1="283.84" y1="774.71" x2="283.84" y2="822.16" stroke="#000" stroke-width="1.8"/>
<line x1="280.04" y1="774.71" x2="287.64" y2="774.71" stroke="#000" stroke-width="1.8"/>
<line x1="280.04" y1="822.16" x2="287.64" y2="822.16" stroke="#000" stroke-width="1.8"/>
<line x1="283.84" y1="878.50" x2="283.84" y2="889.50" stroke="#000" stroke-width="2.2"/>
<text x="294.34" y="904.50" text-anchor="end" class="t" transform="rotate(-45 294.34 904.50)">A18</text>
<circle cx="308.69" cy="723.31" r="4.1" fill="#aa0000" stroke="#000" stroke-width="0.9"/>
<circle cx="308.69" cy="743.08" r="4.1" fill="#aa0000" stroke="#000" stroke-width="0.9"/>
<circle cx="308.69" cy="769.76" r="4.1" fill="#aa0000" stroke="#000" stroke-width="0.9"/>
<circle cx="314.89" cy="772.73" r="4.1" fill="#aa0000" stroke="#000" stroke-width="0.9"/>
<circle cx="308.69" cy="776.68" r="4.1" fill="#aa0000" stroke="#000" stroke-width="0.9"/>
<circle cx="314.89" cy="779.65" r="4.1" fill="#aa0000" stroke="#000" stroke-width="0.9"/>
<circle cx="308.69" cy="783.60" r="4.1" fill="#aa0000" stroke="#000" stroke-width="0.9"/>
<circle cx="314.89" cy="786.57" r="4.1" fill="#aa0000" stroke="#000" stroke-width="0.9"/>
<circle cx="306.49" cy="789.53" r="4.1" fill="#aa0000" stroke="#000" stroke-width="0.9"/>
<rect x="301.89" y="770.75" width="13.6" height="107.75" fill="none" stroke="#000" stroke-width="2.8"/>
<line x1="308.69" y1="746.04" x2="308.69" y2="795.47" stroke="#000" stroke-width="1.8"/>
<line x1="304.89" y1="746.04" x2="312.49" y2="746.04" stroke="#000" stroke-width="1.8"/>
<line x1="304.89" y1="795.47" x2="312.49" y2="795.47" stroke="#000" stroke-width="1.8"/>
<line x1="308.69" y1="878.50" x2="308.69" y2="889.50" stroke="#000" stroke-width="2.2"/>
<text x="319.19" y="904.50" text-anchor="end" class="t" transform="rotate(-45 319.19 904.50)">A31</text>
<circle cx="350.17" cy="662.02" r="4.1" fill="#ff6600" stroke="#000" stroke-width="0.9"/>
<circle cx="350.17" cy="705.51" r="4.1" fill="#ff6600" stroke="#000" stroke-width="0.9"/>
<circle cx="350.17" cy="730.23" r="4.1" fill="#ff6600" stroke="#000" stroke-width="0.9"/>
<circle cx="350.17" cy="738.13" r="4.1" fill="#ff6600" stroke="#000" stroke-width="0.9"/>
<circle cx="350.17" cy="747.03" r="4.1" fill="#ff6600" stroke="#000" stroke-width="0.9"/>
<circle cx="350.17" cy="774.71" r="4.1" fill="#ff6600" stroke="#000" stroke-width="0.9"/>
<circle cx="354.57" cy="779.65" r="4.1" fill="#ff6600" stroke="#000" stroke-width="0.9"/>
<circle cx="350.17" cy="784.59" r="4.1" fill="#ff6600" stroke="#000" stroke-width="0.9"/>
<circle cx="356.37" cy="788.55" r="4.1" fill="#ff6600" stroke="#000" stroke-width="0.9"/>
<circle cx="350.17" cy="792.50" r="4.1" fill="#ff6600" stroke="#000" stroke-width="0.9"/>
<circle cx="356.37" cy="795.47" r="4.1" fill="#ff6600" stroke="#000" stroke-width="0.9"/>
<rect x="343.37" y="758.89" width="13.6" height="119.61" fill="none" stroke="#000" stroke-width="2.8"/>
<line x1="350.17" y1="719.35" x2="350.17" y2="796.45" stroke="#000" stroke-width="1.8"/>
<line x1="346.37" y1="719.35" x2="353.97" y2="719.35" stroke="#000" stroke-width="1.8"/>
<line x1="346.37" y1="796.45" x2="353.97" y2="796.45" stroke="#000" stroke-width="1.8"/>
<line x1="350.17" y1="878.50" x2="350.17" y2="889.50" stroke="#000" stroke-width="2.2"/>
<text x="360.67" y="904.50" text-anchor="end" class="t" transform="rotate(-45 360.67 904.50)">B3</text>
<circle cx="375.02" cy="766.80" r="4.1" fill="#ff6600" stroke="#000" stroke-width="0.9"/>
<circle cx="375.02" cy="773.72" r="4.1" fill="#ff6600" stroke="#000" stroke-width="0.9"/>
<circle cx="375.02" cy="783.60" r="4.1" fill="#ff6600" stroke="#000" stroke-width="0.9"/>
<circle cx="375.02" cy="806.34" r="4.1" fill="#ff6600" stroke="#000" stroke-width="0.9"/>
<circle cx="381.22" cy="809.31" r="4.1" fill="#ff6600" stroke="#000" stroke-width="0.9"/>
<circle cx="370.62" cy="811.28" r="4.1" fill="#ff6600" stroke="#000" stroke-width="0.9"/>
<circle cx="377.22" cy="813.26" r="4.1" fill="#ff6600" stroke="#000" stroke-width="0.9"/>
<circle cx="372.82" cy="815.24" r="4.1" fill="#ff6600" stroke="#000" stroke-width="0.9"/>
<circle cx="381.22" cy="817.21" r="4.1" fill="#ff6600" stroke="#000" stroke-width="0.9"/>
<rect x="368.22" y="805.35" width="13.6" height="73.15" fill="none" stroke="#000" stroke-width="2.8"/>
<line x1="375.02" y1="784.59" x2="375.02" y2="824.13" stroke="#000" stroke-width="1.8"/>
<line x1="371.22" y1="784.59" x2="378.82" y2="784.59" stroke="#000" stroke-width="1.8"/>
<line x1="371.22" y1="824.13" x2="378.82" y2="824.13" stroke="#000" stroke-width="1.8"/>
<line x1="375.02" y1="878.50" x2="375.02" y2="889.50" stroke="#000" stroke-width="2.2"/>
<text x="385.52" y="904.50" text-anchor="end" class="t" transform="rotate(-45 385.52 904.50)">B7</text>
<circle cx="399.87" cy="761.86" r="4.1" fill="#ff6600" stroke="#000" stroke-width="0.9"/>
<circle cx="399.87" cy="768.78" r="4.1" fill="#ff6600" stroke="#000" stroke-width="0.9"/>
<circle cx="399.87" cy="789.53" r="4.1" fill="#ff6600" stroke="#000" stroke-width="0.9"/>
<circle cx="406.07" cy="792.50" r="4.1" fill="#ff6600" stroke="#000" stroke-width="0.9"/>
<circle cx="399.87" cy="807.33" r="4.1" fill="#ff6600" stroke="#000" stroke-width="0.9"/>
<circle cx="406.07" cy="810.29" r="4.1" fill="#ff6600" stroke="#000" stroke-width="0.9"/>
<circle cx="397.67" cy="813.26" r="4.1" fill="#ff6600" stroke="#000" stroke-width="0.9"/>
<circle cx="399.87" cy="824.13" r="4.1" fill="#ff6600" stroke="#000" stroke-width="0.9"/>
<circle cx="404.27" cy="829.08" r="4.1" fill="#ff6600" stroke="#000" stroke-width="0.9"/>
<circle cx="397.67" cy="832.04" r="4.1" fill="#ff6600" stroke="#000" stroke-width="0.9"/>
<rect x="393.07" y="805.35" width="13.6" height="73.15" fill="none" stroke="#000" stroke-width="2.8"/>
<line x1="399.87" y1="780.64" x2="399.87" y2="830.06" stroke="#000" stroke-width="1.8"/>
<line x1="396.07" y1="780.64" x2="403.67" y2="780.64" stroke="#000" stroke-width="1.8"/>
<line x1="396.07" y1="830.06" x2="403.67" y2="830.06" stroke="#000" stroke-width="1.8"/>
<line x1="399.87" y1="878.50" x2="399.87" y2="889.50" stroke="#000" stroke-width="2.2"/>
<text x="410.37" y="904.50" text-anchor="end" class="t" transform="rotate(-45 410.37 904.50)">B11</text>
<circle cx="424.71" cy="631.38" r="4.1" fill="#ff6600" stroke="#000" stroke-width="0.9"/>
<circle cx="424.71" cy="673.88" r="4.1" fill="#ff6600" stroke="#000" stroke-width="0.9"/>
<circle cx="424.71" cy="705.51" r="4.1" fill="#ff6600" stroke="#000" stroke-width="0.9"/>
<circle cx="429.11" cy="710.46" r="4.1" fill="#ff6600" stroke="#000" stroke-width="0.9"/>
<circle cx="424.71" cy="717.37" r="4.1" fill="#ff6600" stroke="#000" stroke-width="0.9"/>
<circle cx="424.71" cy="750.00" r="4.1" fill="#ff6600" stroke="#000" stroke-width="0.9"/>
<circle cx="424.71" cy="757.90" r="4.1" fill="#ff6600" stroke="#000" stroke-width="0.9"/>
<circle cx="424.71" cy="767.79" r="4.1" fill="#ff6600" stroke="#000" stroke-width="0.9"/>
<circle cx="424.71" cy="777.67" r="4.1" fill="#ff6600" stroke="#000" stroke-width="0.9"/>
<circle cx="424.71" cy="784.59" r="4.1" fill="#ff6600" stroke="#000" stroke-width="0.9"/>
<circle cx="424.71" cy="791.51" r="4.1" fill="#ff6600" stroke="#000" stroke-width="0.9"/>
<rect x="417.91" y="739.12" width="13.6" height="139.38" fill="none" stroke="#000" stroke-width="2.8"/>
<line x1="424.71" y1="689.70" x2="424.71" y2="786.57" stroke="#000" stroke-width="1.8"/>
<line x1="420.91" y1="689.70" x2="428.51" y2="689.70" stroke="#000" stroke-width="1.8"/>
<line x1="420.91" y1="786.57" x2="428.51" y2="786.57" stroke="#000" stroke-width="1.8"/>
<line x1="424.71" y1="878.50" x2="424.71" y2="889.50" stroke="#000" stroke-width="2.2"/>
<text x="435.21" y="904.50" text-anchor="end" class="t" transform="rotate(-45 435.21 904.50)">B14</text>
<circle cx="449.56" cy="657.08" r="4.1" fill="#ff6600" stroke="#000" stroke-width="0.9"/>
<circle cx="449.56" cy="664.98" r="4.1" fill="#ff6600" stroke="#000" stroke-width="0.9"/>
<circle cx="449.56" cy="698.59" r="4.1" fill="#ff6600" stroke="#000" stroke-width="0.9"/>
<circle cx="455.76" cy="702.55" r="4.1" fill="#ff6600" stroke="#000" stroke-width="0.9"/>
<circle cx="449.56" cy="710.46" r="4.1" fill="#ff6600" stroke="#000" stroke-width="0.9"/>
<circle cx="449.56" cy="720.34" r="4.1" fill="#ff6600" stroke="#000" stroke-width="0.9"/>
<circle cx="453.96" cy="725.28" r="4.1" fill="#ff6600" stroke="#000" stroke-width="0.9"/>
<circle cx="449.56" cy="730.23" r="4.1" fill="#ff6600" stroke="#000" stroke-width="0.9"/>
<circle cx="453.96" cy="735.17" r="4.1" fill="#ff6600" stroke="#000" stroke-width="0.9"/>
<circle cx="449.56" cy="740.11" r="4.1" fill="#ff6600" stroke="#000" stroke-width="0.9"/>
<circle cx="451.76" cy="746.04" r="4.1" fill="#ff6600" stroke="#000" stroke-width="0.9"/>
<rect x="442.76" y="716.39" width="13.6" height="162.11" fill="none" stroke="#000" stroke-width="2.8"/>
<line x1="449.56" y1="685.74" x2="449.56" y2="744.06" stroke="#000" stroke-width="1.8"/>
<line x1="445.76" y1="685.74" x2="453.36" y2="685.74" stroke="#000" stroke-width="1.8"/>
<line x1="445.76" y1="744.06" x2="453.36" y2="744.06" stroke="#000" stroke-width="1.8"/>
<line x1="449.56" y1="878.50" x2="449.56" y2="889.50" stroke="#000" stroke-width="2.2"/>
<text x="460.06" y="904.50" text-anchor="end" class="t" transform="rotate(-45 460.06 904.50)">B16</text>
<text x="450.56" y="485.30" text-anchor="middle" class="st">*</text>
<circle cx="474.41" cy="724.29" r="4.1" fill="#ff6600" stroke="#000" stroke-width="0.9"/>
<circle cx="480.61" cy="728.25" r="4.1" fill="#ff6600" stroke="#000" stroke-width="0.9"/>
<circle cx="474.41" cy="732.20" r="4.1" fill="#ff6600" stroke="#000" stroke-width="0.9"/>
<circle cx="480.61" cy="735.17" r="4.1" fill="#ff6600" stroke="#000" stroke-width="0.9"/>
<circle cx="474.41" cy="752.96" r="4.1" fill="#ff6600" stroke="#000" stroke-width="0.9"/>
<circle cx="474.41" cy="761.86" r="4.1" fill="#ff6600" stroke="#000" stroke-width="0.9"/>
<circle cx="474.41" cy="797.44" r="4.1" fill="#ff6600" stroke="#000" stroke-width="0.9"/>
<circle cx="480.61" cy="801.40" r="4.1" fill="#ff6600" stroke="#000" stroke-width="0.9"/>
<circle cx="474.41" cy="807.33" r="4.1" fill="#ff6600" stroke="#000" stroke-width="0.9"/>
<circle cx="474.41" cy="822.16" r="4.1" fill="#ff6600" stroke="#000" stroke-width="0.9"/>
<rect x="467.61" y="760.87" width="13.6" height="117.63" fill="none" stroke="#000" stroke-width="2.8"/>
<line x1="474.41" y1="725.28" x2="474.41" y2="793.49" stroke="#000" stroke-width="1.8"/>
<line x1="470.61" y1="725.28" x2="478.21" y2="725.28" stroke="#000" stroke-width="1.8"/>
<line x1="470.61" y1="793.49" x2="478.21" y2="793.49" stroke="#000" stroke-width="1.8"/>
<line x1="474.41" y1="878.50" x2="474.41" y2="889.50" stroke="#000" stroke-width="2.2"/>
<text x="484.91" y="904.50" text-anchor="end" class="t" transform="rotate(-45 484.91 904.50)">B21</text>
<circle cx="499.26" cy="544.39" r="4.1" fill="#ff6600" stroke="#000" stroke-width="0.9"/>
<circle cx="499.26" cy="618.52" r="4.1" fill="#ff6600" stroke="#000" stroke-width="0.9"/>
<circle cx="499.26" cy="641.26" r="4.1" fill="#ff6600" stroke="#000" stroke-width="0.9"/>
<circle cx="503.66" cy="646.20" r="4.1" fill="#ff6600" stroke="#000" stroke-width="0.9"/>
<circle cx="499.26" cy="678.82" r="4.1" fill="#ff6600" stroke="#000" stroke-width="0.9"/>
<circle cx="499.26" cy="700.57" r="4.1" fill="#ff6600" stroke="#000" stroke-width="0.9"/>
<circle cx="503.66" cy="705.51" r="4.1" fill="#ff6600" stroke="#000" stroke-width="0.9"/>
<circle cx="499.26" cy="710.46" r="4.1" fill="#ff6600" stroke="#000" stroke-width="0.9"/>
<circle cx="499.26" cy="759.88" r="4.1" fill="#ff6600" stroke="#000" stroke-width="0.9"/>
<circle cx="499.26" cy="767.79" r="4.1" fill="#ff6600" stroke="#000" stroke-width="0.9"/>
<circle cx="499.26" cy="802.39" r="4.1" fill="#ff6600" stroke="#000" stroke-width="0.9"/>
<rect x="492.46" y="699.58" width="13.6" height="178.92" fill="none" stroke="#000" stroke-width="2.8"/>
<line x1="499.26" y1="628.41" x2="499.26" y2="769.76" stroke="#000" stroke-width="1.8"/>
<line x1="495.46" y1="628.41" x2="503.06" y2="628.41" stroke="#000" stroke-width="1.8"/>
<line x1="495.46" y1="769.76" x2="503.06" y2="769.76" stroke="#000" stroke-width="1.8"/>
<line x1="499.26" y1="878.50" x2="499.26" y2="889.50" stroke="#000" stroke-width="2.2"/>
<text x="509.76" y="904.50" text-anchor="end" class="t" transform="rotate(-45 509.76 904.50)">B34</text>
<text x="500.26" y="485.30" text-anchor="middle" class="st">*</text>
<circle cx="524.11" cy="606.66" r="4.1" fill="#ff6600" stroke="#000" stroke-width="0.9"/>
<circle cx="524.11" cy="621.49" r="4.1" fill="#ff6600" stroke="#000" stroke-width="0.9"/>
<circle cx="524.11" cy="661.03" r="4.1" fill="#ff6600" stroke="#000" stroke-width="0.9"/>
<circle cx="524.11" cy="667.95" r="4.1" fill="#ff6600" stroke="#000" stroke-width="0.9"/>
<circle cx="530.31" cy="670.91" r="4.1" fill="#ff6600" stroke="#000" stroke-width="0.9"/>
<circle cx="524.11" cy="685.74" r="4.1" fill="#ff6600" stroke="#000" stroke-width="0.9"/>
<circle cx="524.11" cy="692.66" r="4.1" fill="#ff6600" stroke="#000" stroke-width="0.9"/>
<circle cx="524.11" cy="703.54" r="4.1" fill="#ff6600" stroke="#000" stroke-width="0.9"/>
<circle cx="524.11" cy="750.00" r="4.1" fill="#ff6600" stroke="#000" stroke-width="0.9"/>
<circle cx="528.51" cy="754.94" r="4.1" fill="#ff6600" stroke="#000" stroke-width="0.9"/>
<circle cx="524.11" cy="764.82" r="4.1" fill="#ff6600" stroke="#000" stroke-width="0.9"/>
<circle cx="524.11" cy="792.50" r="4.1" fill="#ff6600" stroke="#000" stroke-width="0.9"/>
<rect x="517.31" y="703.54" width="13.6" height="174.96" fill="none" stroke="#000" stroke-width="2.8"/>
<line x1="524.11" y1="646.20" x2="524.11" y2="757.90" stroke="#000" stroke-width="1.8"/>
<line x1="520.31" y1="646.20" x2="527.91" y2="646.20" stroke="#000" stroke-width="1.8"/>
<line x1="520.31" y1="757.90" x2="527.91" y2="757.90" stroke="#000" stroke-width="1.8"/>
<line x1="524.11" y1="878.50" x2="524.11" y2="889.50" stroke="#000" stroke-width="2.2"/>
<text x="534.61" y="904.50" text-anchor="end" class="t" transform="rotate(-45 534.61 904.50)">B35</text>
<text x="525.11" y="485.30" text-anchor="middle" class="st">*</text>
<circle cx="548.95" cy="750.00" r="4.1" fill="#ff6600" stroke="#000" stroke-width="0.9"/>
<circle cx="548.95" cy="759.88" r="4.1" fill="#ff6600" stroke="#000" stroke-width="0.9"/>
<circle cx="553.35" cy="764.82" r="4.1" fill="#ff6600" stroke="#000" stroke-width="0.9"/>
<circle cx="546.75" cy="767.79" r="4.1" fill="#ff6600" stroke="#000" stroke-width="0.9"/>
<circle cx="553.35" cy="771.74" r="4.1" fill="#ff6600" stroke="#000" stroke-width="0.9"/>
<circle cx="548.95" cy="779.65" r="4.1" fill="#ff6600" stroke="#000" stroke-width="0.9"/>
<circle cx="553.35" cy="784.59" r="4.1" fill="#ff6600" stroke="#000" stroke-width="0.9"/>
<circle cx="548.95" cy="789.53" r="4.1" fill="#ff6600" stroke="#000" stroke-width="0.9"/>
<circle cx="553.35" cy="794.48" r="4.1" fill="#ff6600" stroke="#000" stroke-width="0.9"/>
<rect x="542.15" y="773.72" width="13.6" height="104.78" fill="none" stroke="#000" stroke-width="2.8"/>
<line x1="548.95" y1="759.88" x2="548.95" y2="786.57" stroke="#000" stroke-width="1.8"/>
<line x1="545.15" y1="759.88" x2="552.75" y2="759.88" stroke="#000" stroke-width="1.8"/>
<line x1="545.15" y1="786.57" x2="552.75" y2="786.57" stroke="#000" stroke-width="1.8"/>
<line x1="548.95" y1="878.50" x2="548.95" y2="889.50" stroke="#000" stroke-width="2.2"/>
<text x="559.45" y="904.50" text-anchor="end" class="t" transform="rotate(-45 559.45 904.50)">B50</text>
<circle cx="590.44" cy="797.44" r="4.1" fill="#c8c800" stroke="#000" stroke-width="0.9"/>
<circle cx="590.44" cy="813.26" r="4.1" fill="#c8c800" stroke="#000" stroke-width="0.9"/>
<circle cx="596.64" cy="817.21" r="4.1" fill="#c8c800" stroke="#000" stroke-width="0.9"/>
<circle cx="590.44" cy="821.17" r="4.1" fill="#c8c800" stroke="#000" stroke-width="0.9"/>
<circle cx="596.64" cy="824.13" r="4.1" fill="#c8c800" stroke="#000" stroke-width="0.9"/>
<circle cx="588.24" cy="827.10" r="4.1" fill="#c8c800" stroke="#000" stroke-width="0.9"/>
<circle cx="594.84" cy="830.06" r="4.1" fill="#c8c800" stroke="#000" stroke-width="0.9"/>
<circle cx="586.04" cy="833.03" r="4.1" fill="#c8c800" stroke="#000" stroke-width="0.9"/>
<circle cx="592.64" cy="835.99" r="4.1" fill="#c8c800" stroke="#000" stroke-width="0.9"/>
<rect x="583.64" y="822.16" width="13.6" height="56.34" fill="none" stroke="#000" stroke-width="2.8"/>
<line x1="590.44" y1="807.33" x2="590.44" y2="834.02" stroke="#000" stroke-width="1.8"/>
<line x1="586.64" y1="807.33" x2="594.24" y2="807.33" stroke="#000" stroke-width="1.8"/>
<line x1="586.64" y1="834.02" x2="594.24" y2="834.02" stroke="#000" stroke-width="1.8"/>
<line x1="590.44" y1="878.50" x2="590.44" y2="889.50" stroke="#000" stroke-width="2.2"/>
<text x="600.94" y="904.50" text-anchor="end" class="t" transform="rotate(-45 600.94 904.50)">C1</text>
<circle cx="615.28" cy="725.28" r="4.1" fill="#c8c800" stroke="#000" stroke-width="0.9"/>
<circle cx="615.28" cy="732.20" r="4.1" fill="#c8c800" stroke="#000" stroke-width="0.9"/>
<circle cx="615.28" cy="748.02" r="4.1" fill="#c8c800" stroke="#000" stroke-width="0.9"/>
<circle cx="621.48" cy="751.97" r="4.1" fill="#c8c800" stroke="#000" stroke-width="0.9"/>
<circle cx="615.28" cy="754.94" r="4.1" fill="#c8c800" stroke="#000" stroke-width="0.9"/>
<circle cx="619.68" cy="759.88" r="4.1" fill="#c8c800" stroke="#000" stroke-width="0.9"/>
<circle cx="613.08" cy="763.83" r="4.1" fill="#c8c800" stroke="#000" stroke-width="0.9"/>
<circle cx="615.28" cy="777.67" r="4.1" fill="#c8c800" stroke="#000" stroke-width="0.9"/>
<circle cx="619.68" cy="782.62" r="4.1" fill="#c8c800" stroke="#000" stroke-width="0.9"/>
<circle cx="613.08" cy="785.58" r="4.1" fill="#c8c800" stroke="#000" stroke-width="0.9"/>
<rect x="608.48" y="759.88" width="13.6" height="118.62" fill="none" stroke="#000" stroke-width="2.8"/>
<line x1="615.28" y1="743.08" x2="615.28" y2="775.70" stroke="#000" stroke-width="1.8"/>
<line x1="611.48" y1="743.08" x2="619.08" y2="743.08" stroke="#000" stroke-width="1.8"/>
<line x1="611.48" y1="775.70" x2="619.08" y2="775.70" stroke="#000" stroke-width="1.8"/>
<line x1="615.28" y1="878.50" x2="615.28" y2="889.50" stroke="#000" stroke-width="2.2"/>
<text x="625.78" y="904.50" text-anchor="end" class="t" transform="rotate(-45 625.78 904.50)">C2</text>
<circle cx="640.13" cy="728.25" r="4.1" fill="#c8c800" stroke="#000" stroke-width="0.9"/>
<circle cx="640.13" cy="735.17" r="4.1" fill="#c8c800" stroke="#000" stroke-width="0.9"/>
<circle cx="640.13" cy="744.06" r="4.1" fill="#c8c800" stroke="#000" stroke-width="0.9"/>
<circle cx="642.33" cy="750.00" r="4.1" fill="#c8c800" stroke="#000" stroke-width="0.9"/>
<circle cx="640.13" cy="765.81" r="4.1" fill="#c8c800" stroke="#000" stroke-width="0.9"/>
<circle cx="640.13" cy="781.63" r="4.1" fill="#c8c800" stroke="#000" stroke-width="0.9"/>
<circle cx="640.13" cy="793.49" r="4.1" fill="#c8c800" stroke="#000" stroke-width="0.9"/>
<circle cx="640.13" cy="822.16" r="4.1" fill="#c8c800" stroke="#000" stroke-width="0.9"/>
<circle cx="646.33" cy="826.11" r="4.1" fill="#c8c800" stroke="#000" stroke-width="0.9"/>
<circle cx="640.13" cy="829.08" r="4.1" fill="#c8c800" stroke="#000" stroke-width="0.9"/>
<circle cx="640.13" cy="843.90" r="4.1" fill="#c8c800" stroke="#000" stroke-width="0.9"/>
<circle cx="644.53" cy="848.85" r="4.1" fill="#c8c800" stroke="#000" stroke-width="0.9"/>
<circle cx="637.93" cy="851.81" r="4.1" fill="#c8c800" stroke="#000" stroke-width="0.9"/>
<rect x="633.33" y="813.26" width="13.6" height="65.24" fill="none" stroke="#000" stroke-width="2.8"/>
<line x1="640.13" y1="770.75" x2="640.13" y2="853.79" stroke="#000" stroke-width="1.8"/>
<line x1="636.33" y1="770.75" x2="643.93" y2="770.75" stroke="#000" stroke-width="1.8"/>
<line x1="636.33" y1="853.79" x2="643.93" y2="853.79" stroke="#000" stroke-width="1.8"/>
<line x1="640.13" y1="878.50" x2="640.13" y2="889.50" stroke="#000" stroke-width="2.2"/>
<text x="650.63" y="904.50" text-anchor="end" class="t" transform="rotate(-45 650.63 904.50)">C5</text>
<circle cx="664.98" cy="709.47" r="4.1" fill="#c8c800" stroke="#000" stroke-width="0.9"/>
<circle cx="664.98" cy="723.31" r="4.1" fill="#c8c800" stroke="#000" stroke-width="0.9"/>
<circle cx="664.98" cy="732.20" r="4.1" fill="#c8c800" stroke="#000" stroke-width="0.9"/>
<circle cx="664.98" cy="771.74" r="4.1" fill="#c8c800" stroke="#000" stroke-width="0.9"/>
<circle cx="669.38" cy="776.68" r="4.1" fill="#c8c800" stroke="#000" stroke-width="0.9"/>
<circle cx="662.78" cy="780.64" r="4.1" fill="#c8c800" stroke="#000" stroke-width="0.9"/>
<circle cx="671.18" cy="782.62" r="4.1" fill="#c8c800" stroke="#000" stroke-width="0.9"/>
<rect x="658.18" y="752.96" width="13.6" height="125.54" fill="none" stroke="#000" stroke-width="2.8"/>
<line x1="664.98" y1="724.29" x2="664.98" y2="780.64" stroke="#000" stroke-width="1.8"/>
<line x1="661.18" y1="724.29" x2="668.78" y2="724.29" stroke="#000" stroke-width="1.8"/>
<line x1="661.18" y1="780.64" x2="668.78" y2="780.64" stroke="#000" stroke-width="1.8"/>
<line x1="664.98" y1="878.50" x2="664.98" y2="889.50" stroke="#000" stroke-width="2.2"/>
<text x="675.48" y="904.50" text-anchor="end" class="t" transform="rotate(-45 675.48 904.50)">C6</text>
<circle cx="706.46" cy="768.78" r="4.1" fill="#0a88a3" stroke="#000" stroke-width="0.9"/>
<circle cx="708.66" cy="774.71" r="4.1" fill="#0a88a3" stroke="#000" stroke-width="0.9"/>
<circle cx="704.26" cy="779.65" r="4.1" fill="#0a88a3" stroke="#000" stroke-width="0.9"/>
<circle cx="708.66" cy="784.59" r="4.1" fill="#0a88a3" stroke="#000" stroke-width="0.9"/>
<circle cx="704.26" cy="789.53" r="4.1" fill="#0a88a3" stroke="#000" stroke-width="0.9"/>
<circle cx="706.46" cy="827.10" r="4.1" fill="#0a88a3" stroke="#000" stroke-width="0.9"/>
<circle cx="712.66" cy="831.05" r="4.1" fill="#0a88a3" stroke="#000" stroke-width="0.9"/>
<circle cx="706.46" cy="834.02" r="4.1" fill="#0a88a3" stroke="#000" stroke-width="0.9"/>
<rect x="699.66" y="797.44" width="13.6" height="81.06" fill="none" stroke="#000" stroke-width="2.8"/>
<line x1="706.46" y1="770.75" x2="706.46" y2="821.17" stroke="#000" stroke-width="1.8"/>
<line x1="702.66" y1="770.75" x2="710.26" y2="770.75" stroke="#000" stroke-width="1.8"/>
<line x1="702.66" y1="821.17" x2="710.26" y2="821.17" stroke="#000" stroke-width="1.8"/>
<line x1="706.46" y1="878.50" x2="706.46" y2="889.50" stroke="#000" stroke-width="2.2"/>
<text x="716.96" y="904.50" text-anchor="end" class="t" transform="rotate(-45 716.96 904.50)">D8</text>
<circle cx="731.31" cy="701.56" r="4.1" fill="#0a88a3" stroke="#000" stroke-width="0.9"/>
<circle cx="731.31" cy="729.24" r="4.1" fill="#0a88a3" stroke="#000" stroke-width="0.9"/>
<circle cx="735.71" cy="734.18" r="4.1" fill="#0a88a3" stroke="#000" stroke-width="0.9"/>
<circle cx="729.11" cy="738.13" r="4.1" fill="#0a88a3" stroke="#000" stroke-width="0.9"/>
<circle cx="731.31" cy="745.05" r="4.1" fill="#0a88a3" stroke="#000" stroke-width="0.9"/>
<circle cx="731.31" cy="751.97" r="4.1" fill="#0a88a3" stroke="#000" stroke-width="0.9"/>
<circle cx="733.51" cy="757.90" r="4.1" fill="#0a88a3" stroke="#000" stroke-width="0.9"/>
<circle cx="731.31" cy="764.82" r="4.1" fill="#0a88a3" stroke="#000" stroke-width="0.9"/>
<circle cx="731.31" cy="771.74" r="4.1" fill="#0a88a3" stroke="#000" stroke-width="0.9"/>
<circle cx="731.31" cy="779.65" r="4.1" fill="#0a88a3" stroke="#000" stroke-width="0.9"/>
<circle cx="731.31" cy="786.57" r="4.1" fill="#0a88a3" stroke="#000" stroke-width="0.9"/>
<rect x="724.51" y="752.96" width="13.6" height="125.54" fill="none" stroke="#000" stroke-width="2.8"/>
<line x1="731.31" y1="727.26" x2="731.31" y2="780.64" stroke="#000" stroke-width="1.8"/>
<line x1="727.51" y1="727.26" x2="735.11" y2="727.26" stroke="#000" stroke-width="1.8"/>
<line x1="727.51" y1="780.64" x2="735.11" y2="780.64" stroke="#000" stroke-width="1.8"/>
<line x1="731.31" y1="878.50" x2="731.31" y2="889.50" stroke="#000" stroke-width="2.2"/>
<text x="741.81" y="904.50" text-anchor="end" class="t" transform="rotate(-45 741.81 904.50)">D9</text>
<circle cx="756.16" cy="775.70" r="4.1" fill="#0a88a3" stroke="#000" stroke-width="0.9"/>
<circle cx="756.16" cy="792.50" r="4.1" fill="#0a88a3" stroke="#000" stroke-width="0.9"/>
<circle cx="760.56" cy="797.44" r="4.1" fill="#0a88a3" stroke="#000" stroke-width="0.9"/>
<circle cx="756.16" cy="803.37" r="4.1" fill="#0a88a3" stroke="#000" stroke-width="0.9"/>
<circle cx="760.56" cy="808.32" r="4.1" fill="#0a88a3" stroke="#000" stroke-width="0.9"/>
<circle cx="756.16" cy="833.03" r="4.1" fill="#0a88a3" stroke="#000" stroke-width="0.9"/>
<circle cx="762.36" cy="835.99" r="4.1" fill="#0a88a3" stroke="#000" stroke-width="0.9"/>
<circle cx="753.96" cy="838.96" r="4.1" fill="#0a88a3" stroke="#000" stroke-width="0.9"/>
<rect x="749.36" y="810.29" width="13.6" height="68.21" fill="none" stroke="#000" stroke-width="2.8"/>
<line x1="756.16" y1="779.65" x2="756.16" y2="838.96" stroke="#000" stroke-width="1.8"/>
<line x1="752.36" y1="779.65" x2="759.96" y2="779.65" stroke="#000" stroke-width="1.8"/>
<line x1="752.36" y1="838.96" x2="759.96" y2="838.96" stroke="#000" stroke-width="1.8"/>
<line x1="756.16" y1="878.50" x2="756.16" y2="889.50" stroke="#000" stroke-width="2.2"/>
<text x="766.66" y="904.50" text-anchor="end" class="t" transform="rotate(-45 766.66 904.50)">D10</text>
<circle cx="781.01" cy="703.54" r="4.1" fill="#0a88a3" stroke="#000" stroke-width="0.9"/>
<circle cx="781.01" cy="718.36" r="4.1" fill="#0a88a3" stroke="#000" stroke-width="0.9"/>
<circle cx="781.01" cy="733.19" r="4.1" fill="#0a88a3" stroke="#000" stroke-width="0.9"/>
<circle cx="781.01" cy="754.94" r="4.1" fill="#0a88a3" stroke="#000" stroke-width="0.9"/>
<circle cx="781.01" cy="762.85" r="4.1" fill="#0a88a3" stroke="#000" stroke-width="0.9"/>
<circle cx="781.01" cy="779.65" r="4.1" fill="#0a88a3" stroke="#000" stroke-width="0.9"/>
<circle cx="781.01" cy="787.56" r="4.1" fill="#0a88a3" stroke="#000" stroke-width="0.9"/>
<circle cx="781.01" cy="794.48" r="4.1" fill="#0a88a3" stroke="#000" stroke-width="0.9"/>
<circle cx="781.01" cy="801.40" r="4.1" fill="#0a88a3" stroke="#000" stroke-width="0.9"/>
<circle cx="785.41" cy="806.34" r="4.1" fill="#0a88a3" stroke="#000" stroke-width="0.9"/>
<rect x="774.21" y="774.71" width="13.6" height="103.79" fill="none" stroke="#000" stroke-width="2.8"/>
<line x1="781.01" y1="740.11" x2="781.01" y2="807.33" stroke="#000" stroke-width="1.8"/>
<line x1="777.21" y1="740.11" x2="784.81" y2="740.11" stroke="#000" stroke-width="1.8"/>
<line x1="777.21" y1="807.33" x2="784.81" y2="807.33" stroke="#000" stroke-width="1.8"/>
<line x1="781.01" y1="878.50" x2="781.01" y2="889.50" stroke="#000" stroke-width="2.2"/>
<text x="791.51" y="904.50" text-anchor="end" class="t" transform="rotate(-45 791.51 904.50)">D13</text>
<circle cx="805.85" cy="631.38" r="4.1" fill="#0a88a3" stroke="#000" stroke-width="0.9"/>
<circle cx="805.85" cy="724.29" r="4.1" fill="#0a88a3" stroke="#000" stroke-width="0.9"/>
<circle cx="805.85" cy="733.19" r="4.1" fill="#0a88a3" stroke="#000" stroke-width="0.9"/>
<circle cx="810.25" cy="738.13" r="4.1" fill="#0a88a3" stroke="#000" stroke-width="0.9"/>
<circle cx="803.65" cy="742.09" r="4.1" fill="#0a88a3" stroke="#000" stroke-width="0.9"/>
<circle cx="805.85" cy="751.97" r="4.1" fill="#0a88a3" stroke="#000" stroke-width="0.9"/>
<circle cx="805.85" cy="769.76" r="4.1" fill="#0a88a3" stroke="#000" stroke-width="0.9"/>
<circle cx="805.85" cy="777.67" r="4.1" fill="#0a88a3" stroke="#000" stroke-width="0.9"/>
<rect x="799.05" y="737.14" width="13.6" height="141.36" fill="none" stroke="#000" stroke-width="2.8"/>
<line x1="805.85" y1="700.57" x2="805.85" y2="773.72" stroke="#000" stroke-width="1.8"/>
<line x1="802.05" y1="700.57" x2="809.65" y2="700.57" stroke="#000" stroke-width="1.8"/>
<line x1="802.05" y1="773.72" x2="809.65" y2="773.72" stroke="#000" stroke-width="1.8"/>
<line x1="805.85" y1="878.50" x2="805.85" y2="889.50" stroke="#000" stroke-width="2.2"/>
<text x="816.35" y="904.50" text-anchor="end" class="t" transform="rotate(-45 816.35 904.50)">D17</text>
<circle cx="830.70" cy="638.29" r="4.1" fill="#0a88a3" stroke="#000" stroke-width="0.9"/>
<circle cx="830.70" cy="673.88" r="4.1" fill="#0a88a3" stroke="#000" stroke-width="0.9"/>
<circle cx="830.70" cy="725.28" r="4.1" fill="#0a88a3" stroke="#000" stroke-width="0.9"/>
<circle cx="835.10" cy="730.23" r="4.1" fill="#0a88a3" stroke="#000" stroke-width="0.9"/>
<circle cx="830.70" cy="735.17" r="4.1" fill="#0a88a3" stroke="#000" stroke-width="0.9"/>
<circle cx="835.10" cy="740.11" r="4.1" fill="#0a88a3" stroke="#000" stroke-width="0.9"/>
<circle cx="828.50" cy="744.06" r="4.1" fill="#0a88a3" stroke="#000" stroke-width="0.9"/>
<circle cx="835.10" cy="747.03" r="4.1" fill="#0a88a3" stroke="#000" stroke-width="0.9"/>
<circle cx="830.70" cy="758.89" r="4.1" fill="#0a88a3" stroke="#000" stroke-width="0.9"/>
<rect x="823.90" y="727.26" width="13.6" height="151.24" fill="none" stroke="#000" stroke-width="2.8"/>
<line x1="830.70" y1="693.65" x2="830.70" y2="758.89" stroke="#000" stroke-width="1.8"/>
<line x1="826.90" y1="693.65" x2="834.50" y2="693.65" stroke="#000" stroke-width="1.8"/>
<line x1="826.90" y1="758.89" x2="834.50" y2="758.89" stroke="#000" stroke-width="1.8"/>
<line x1="830.70" y1="878.50" x2="830.70" y2="889.50" stroke="#000" stroke-width="2.2"/>
<text x="841.20" y="904.50" text-anchor="end" class="t" transform="rotate(-45 841.20 904.50)">D20</text>
<text x="831.70" y="485.30" text-anchor="middle" class="st">*</text>
<circle cx="855.55" cy="598.75" r="4.1" fill="#0a88a3" stroke="#000" stroke-width="0.9"/>
<circle cx="855.55" cy="646.20" r="4.1" fill="#0a88a3" stroke="#000" stroke-width="0.9"/>
<circle cx="855.55" cy="653.12" r="4.1" fill="#0a88a3" stroke="#000" stroke-width="0.9"/>
<circle cx="855.55" cy="661.03" r="4.1" fill="#0a88a3" stroke="#000" stroke-width="0.9"/>
<circle cx="859.95" cy="665.97" r="4.1" fill="#0a88a3" stroke="#000" stroke-width="0.9"/>
<circle cx="855.55" cy="682.78" r="4.1" fill="#0a88a3" stroke="#000" stroke-width="0.9"/>
<circle cx="855.55" cy="757.90" r="4.1" fill="#0a88a3" stroke="#000" stroke-width="0.9"/>
<circle cx="855.55" cy="769.76" r="4.1" fill="#0a88a3" stroke="#000" stroke-width="0.9"/>
<circle cx="859.95" cy="774.71" r="4.1" fill="#0a88a3" stroke="#000" stroke-width="0.9"/>
<circle cx="855.55" cy="789.53" r="4.1" fill="#0a88a3" stroke="#000" stroke-width="0.9"/>
<circle cx="859.95" cy="794.48" r="4.1" fill="#0a88a3" stroke="#000" stroke-width="0.9"/>
<circle cx="855.55" cy="811.28" r="4.1" fill="#0a88a3" stroke="#000" stroke-width="0.9"/>
<circle cx="855.55" cy="827.10" r="4.1" fill="#0a88a3" stroke="#000" stroke-width="0.9"/>
<circle cx="861.75" cy="831.05" r="4.1" fill="#0a88a3" stroke="#000" stroke-width="0.9"/>
<rect x="848.75" y="754.94" width="13.6" height="123.56" fill="none" stroke="#000" stroke-width="2.8"/>
<line x1="855.55" y1="677.83" x2="855.55" y2="831.05" stroke="#000" stroke-width="1.8"/>
<line x1="851.75" y1="677.83" x2="859.35" y2="677.83" stroke="#000" stroke-width="1.8"/>
<line x1="851.75" y1="831.05" x2="859.35" y2="831.05" stroke="#000" stroke-width="1.8"/>
<line x1="855.55" y1="878.50" x2="855.55" y2="889.50" stroke="#000" stroke-width="2.2"/>
<text x="866.05" y="904.50" text-anchor="end" class="t" transform="rotate(-45 866.05 904.50)">D24</text>
<circle cx="880.40" cy="743.08" r="4.1" fill="#0a88a3" stroke="#000" stroke-width="0.9"/>
<circle cx="880.40" cy="755.93" r="4.1" fill="#0a88a3" stroke="#000" stroke-width="0.9"/>
<circle cx="880.40" cy="762.85" r="4.1" fill="#0a88a3" stroke="#000" stroke-width="0.9"/>
<circle cx="880.40" cy="784.59" r="4.1" fill="#0a88a3" stroke="#000" stroke-width="0.9"/>
<circle cx="880.40" cy="791.51" r="4.1" fill="#0a88a3" stroke="#000" stroke-width="0.9"/>
<circle cx="882.60" cy="797.44" r="4.1" fill="#0a88a3" stroke="#000" stroke-width="0.9"/>
<circle cx="880.40" cy="815.24" r="4.1" fill="#0a88a3" stroke="#000" stroke-width="0.9"/>
<circle cx="880.40" cy="828.09" r="4.1" fill="#0a88a3" stroke="#000" stroke-width="0.9"/>
<circle cx="886.60" cy="832.04" r="4.1" fill="#0a88a3" stroke="#000" stroke-width="0.9"/>
<circle cx="880.40" cy="835.99" r="4.1" fill="#0a88a3" stroke="#000" stroke-width="0.9"/>
<circle cx="880.40" cy="847.86" r="4.1" fill="#0a88a3" stroke="#000" stroke-width="0.9"/>
<rect x="873.60" y="799.42" width="13.6" height="79.08" fill="none" stroke="#000" stroke-width="2.8"/>
<line x1="880.40" y1="766.80" x2="880.40" y2="831.05" stroke="#000" stroke-width="1.8"/>
<line x1="876.60" y1="766.80" x2="884.20" y2="766.80" stroke="#000" stroke-width="1.8"/>
<line x1="876.60" y1="831.05" x2="884.20" y2="831.05" stroke="#000" stroke-width="1.8"/>
<line x1="880.40" y1="878.50" x2="880.40" y2="889.50" stroke="#000" stroke-width="2.2"/>
<text x="890.90" y="904.50" text-anchor="end" class="t" transform="rotate(-45 890.90 904.50)">D25</text>
<circle cx="905.25" cy="566.13" r="4.1" fill="#0a88a3" stroke="#000" stroke-width="0.9"/>
<circle cx="905.25" cy="643.24" r="4.1" fill="#0a88a3" stroke="#000" stroke-width="0.9"/>
<circle cx="905.25" cy="685.74" r="4.1" fill="#0a88a3" stroke="#000" stroke-width="0.9"/>
<circle cx="905.25" cy="700.57" r="4.1" fill="#0a88a3" stroke="#000" stroke-width="0.9"/>
<circle cx="905.25" cy="708.48" r="4.1" fill="#0a88a3" stroke="#000" stroke-width="0.9"/>
<circle cx="905.25" cy="720.34" r="4.1" fill="#0a88a3" stroke="#000" stroke-width="0.9"/>
<circle cx="905.25" cy="728.25" r="4.1" fill="#0a88a3" stroke="#000" stroke-width="0.9"/>
<circle cx="905.25" cy="735.17" r="4.1" fill="#0a88a3" stroke="#000" stroke-width="0.9"/>
<circle cx="905.25" cy="743.08" r="4.1" fill="#0a88a3" stroke="#000" stroke-width="0.9"/>
<circle cx="905.25" cy="768.78" r="4.1" fill="#0a88a3" stroke="#000" stroke-width="0.9"/>
<circle cx="905.25" cy="798.43" r="4.1" fill="#0a88a3" stroke="#000" stroke-width="0.9"/>
<circle cx="905.25" cy="820.18" r="4.1" fill="#0a88a3" stroke="#000" stroke-width="0.9"/>
<rect x="898.45" y="722.32" width="13.6" height="156.18" fill="none" stroke="#000" stroke-width="2.8"/>
<line x1="905.25" y1="658.06" x2="905.25" y2="784.59" stroke="#000" stroke-width="1.8"/>
<line x1="901.45" y1="658.06" x2="909.05" y2="658.06" stroke="#000" stroke-width="1.8"/>
<line x1="901.45" y1="784.59" x2="909.05" y2="784.59" stroke="#000" stroke-width="1.8"/>
<line x1="905.25" y1="878.50" x2="905.25" y2="889.50" stroke="#000" stroke-width="2.2"/>
<text x="915.75" y="904.50" text-anchor="end" class="t" transform="rotate(-45 915.75 904.50)">D26</text>
<text x="906.25" y="485.30" text-anchor="middle" class="st">*</text>
<circle cx="930.09" cy="595.79" r="4.1" fill="#0a88a3" stroke="#000" stroke-width="0.9"/>
<circle cx="930.09" cy="663.01" r="4.1" fill="#0a88a3" stroke="#000" stroke-width="0.9"/>
<circle cx="930.09" cy="698.59" r="4.1" fill="#0a88a3" stroke="#000" stroke-width="0.9"/>
<circle cx="930.09" cy="710.46" r="4.1" fill="#0a88a3" stroke="#000" stroke-width="0.9"/>
<circle cx="930.09" cy="718.36" r="4.1" fill="#0a88a3" stroke="#000" stroke-width="0.9"/>
<circle cx="930.09" cy="732.20" r="4.1" fill="#0a88a3" stroke="#000" stroke-width="0.9"/>
<circle cx="930.09" cy="764.82" r="4.1" fill="#0a88a3" stroke="#000" stroke-width="0.9"/>
<circle cx="930.09" cy="797.44" r="4.1" fill="#0a88a3" stroke="#000" stroke-width="0.9"/>
<circle cx="930.09" cy="804.36" r="4.1" fill="#0a88a3" stroke="#000" stroke-width="0.9"/>
<circle cx="930.09" cy="814.25" r="4.1" fill="#0a88a3" stroke="#000" stroke-width="0.9"/>
<circle cx="934.49" cy="819.19" r="4.1" fill="#0a88a3" stroke="#000" stroke-width="0.9"/>
<rect x="923.29" y="741.10" width="13.6" height="137.40" fill="none" stroke="#000" stroke-width="2.8"/>
<line x1="930.09" y1="673.88" x2="930.09" y2="806.34" stroke="#000" stroke-width="1.8"/>
<line x1="926.29" y1="673.88" x2="933.89" y2="673.88" stroke="#000" stroke-width="1.8"/>
<line x1="926.29" y1="806.34" x2="933.89" y2="806.34" stroke="#000" stroke-width="1.8"/>
<line x1="930.09" y1="878.50" x2="930.09" y2="889.50" stroke="#000" stroke-width="2.2"/>
<text x="940.59" y="904.50" text-anchor="end" class="t" transform="rotate(-45 940.59 904.50)">D27</text>
<circle cx="954.94" cy="577.01" r="4.1" fill="#0a88a3" stroke="#000" stroke-width="0.9"/>
<circle cx="954.94" cy="616.55" r="4.1" fill="#0a88a3" stroke="#000" stroke-width="0.9"/>
<circle cx="954.94" cy="670.91" r="4.1" fill="#0a88a3" stroke="#000" stroke-width="0.9"/>
<circle cx="954.94" cy="687.72" r="4.1" fill="#0a88a3" stroke="#000" stroke-width="0.9"/>
<circle cx="954.94" cy="705.51" r="4.1" fill="#0a88a3" stroke="#000" stroke-width="0.9"/>
<circle cx="959.34" cy="710.46" r="4.1" fill="#0a88a3" stroke="#000" stroke-width="0.9"/>
<circle cx="954.94" cy="715.40" r="4.1" fill="#0a88a3" stroke="#000" stroke-width="0.9"/>
<circle cx="954.94" cy="724.29" r="4.1" fill="#0a88a3" stroke="#000" stroke-width="0.9"/>
<circle cx="954.94" cy="761.86" r="4.1" fill="#0a88a3" stroke="#000" stroke-width="0.9"/>
<circle cx="954.94" cy="769.76" r="4.1" fill="#0a88a3" stroke="#000" stroke-width="0.9"/>
<circle cx="959.34" cy="774.71" r="4.1" fill="#0a88a3" stroke="#000" stroke-width="0.9"/>
<circle cx="954.94" cy="809.31" r="4.1" fill="#0a88a3" stroke="#000" stroke-width="0.9"/>
<rect x="948.14" y="714.41" width="13.6" height="164.09" fill="none" stroke="#000" stroke-width="2.8"/>
<line x1="954.94" y1="647.19" x2="954.94" y2="781.63" stroke="#000" stroke-width="1.8"/>
<line x1="951.14" y1="647.19" x2="958.74" y2="647.19" stroke="#000" stroke-width="1.8"/>
<line x1="951.14" y1="781.63" x2="958.74" y2="781.63" stroke="#000" stroke-width="1.8"/>
<line x1="954.94" y1="878.50" x2="954.94" y2="889.50" stroke="#000" stroke-width="2.2"/>
<text x="965.44" y="904.50" text-anchor="end" class="t" transform="rotate(-45 965.44 904.50)">D33</text>
<text x="955.94" y="485.30" text-anchor="middle" class="st">*</text>
<circle cx="979.79" cy="548.34" r="4.1" fill="#0a88a3" stroke="#000" stroke-width="0.9"/>
<circle cx="979.79" cy="561.19" r="4.1" fill="#0a88a3" stroke="#000" stroke-width="0.9"/>
<circle cx="979.79" cy="585.90" r="4.1" fill="#0a88a3" stroke="#000" stroke-width="0.9"/>
<circle cx="979.79" cy="698.59" r="4.1" fill="#0a88a3" stroke="#000" stroke-width="0.9"/>
<circle cx="979.79" cy="727.26" r="4.1" fill="#0a88a3" stroke="#000" stroke-width="0.9"/>
<circle cx="979.79" cy="735.17" r="4.1" fill="#0a88a3" stroke="#000" stroke-width="0.9"/>
<circle cx="979.79" cy="745.05" r="4.1" fill="#0a88a3" stroke="#000" stroke-width="0.9"/>
<circle cx="979.79" cy="754.94" r="4.1" fill="#0a88a3" stroke="#000" stroke-width="0.9"/>
<circle cx="979.79" cy="761.86" r="4.1" fill="#0a88a3" stroke="#000" stroke-width="0.9"/>
<circle cx="979.79" cy="789.53" r="4.1" fill="#0a88a3" stroke="#000" stroke-width="0.9"/>
<circle cx="979.79" cy="797.44" r="4.1" fill="#0a88a3" stroke="#000" stroke-width="0.9"/>
<circle cx="979.79" cy="806.34" r="4.1" fill="#0a88a3" stroke="#000" stroke-width="0.9"/>
<rect x="972.99" y="717.37" width="13.6" height="161.13" fill="none" stroke="#000" stroke-width="2.8"/>
<line x1="979.79" y1="623.47" x2="979.79" y2="807.33" stroke="#000" stroke-width="1.8"/>
<line x1="975.99" y1="623.47" x2="983.59" y2="623.47" stroke="#000" stroke-width="1.8"/>
<line x1="975.99" y1="807.33" x2="983.59" y2="807.33" stroke="#000" stroke-width="1.8"/>
<line x1="979.79" y1="878.50" x2="979.79" y2="889.50" stroke="#000" stroke-width="2.2"/>
<text x="990.29" y="904.50" text-anchor="end" class="t" transform="rotate(-45 990.29 904.50)">D37</text>
<text x="980.79" y="485.30" text-anchor="middle" class="st">*</text>
<circle cx="1004.64" cy="619.51" r="4.1" fill="#0a88a3" stroke="#000" stroke-width="0.9"/>
<circle cx="1009.04" cy="624.46" r="4.1" fill="#0a88a3" stroke="#000" stroke-width="0.9"/>
<circle cx="1004.64" cy="641.26" r="4.1" fill="#0a88a3" stroke="#000" stroke-width="0.9"/>
<circle cx="1004.64" cy="712.43" r="4.1" fill="#0a88a3" stroke="#000" stroke-width="0.9"/>
<circle cx="1004.64" cy="748.02" r="4.1" fill="#0a88a3" stroke="#000" stroke-width="0.9"/>
<circle cx="1010.84" cy="750.98" r="4.1" fill="#0a88a3" stroke="#000" stroke-width="0.9"/>
<circle cx="1004.64" cy="804.36" r="4.1" fill="#0a88a3" stroke="#000" stroke-width="0.9"/>
<circle cx="1009.04" cy="809.31" r="4.1" fill="#0a88a3" stroke="#000" stroke-width="0.9"/>
<circle cx="1004.64" cy="819.19" r="4.1" fill="#0a88a3" stroke="#000" stroke-width="0.9"/>
<circle cx="1004.64" cy="843.90" r="4.1" fill="#0a88a3" stroke="#000" stroke-width="0.9"/>
<circle cx="1010.84" cy="845.88" r="4.1" fill="#0a88a3" stroke="#000" stroke-width="0.9"/>
<rect x="997.84" y="755.93" width="13.6" height="122.57" fill="none" stroke="#000" stroke-width="2.8"/>
<line x1="1004.64" y1="669.93" x2="1004.64" y2="842.91" stroke="#000" stroke-width="1.8"/>
<line x1="1000.84" y1="669.93" x2="1008.44" y2="669.93" stroke="#000" stroke-width="1.8"/>
<line x1="1000.84" y1="842.91" x2="1008.44" y2="842.91" stroke="#000" stroke-width="1.8"/>
<line x1="1004.64" y1="878.50" x2="1004.64" y2="889.50" stroke="#000" stroke-width="2.2"/>
<text x="1015.14" y="904.50" text-anchor="end" class="t" transform="rotate(-45 1015.14 904.50)">D48</text>
<circle cx="1029.49" cy="694.64" r="4.1" fill="#0a88a3" stroke="#000" stroke-width="0.9"/>
<circle cx="1029.49" cy="705.51" r="4.1" fill="#0a88a3" stroke="#000" stroke-width="0.9"/>
<circle cx="1033.89" cy="710.46" r="4.1" fill="#0a88a3" stroke="#000" stroke-width="0.9"/>
<circle cx="1027.29" cy="713.42" r="4.1" fill="#0a88a3" stroke="#000" stroke-width="0.9"/>
<circle cx="1029.49" cy="730.23" r="4.1" fill="#0a88a3" stroke="#000" stroke-width="0.9"/>
<circle cx="1033.89" cy="735.17" r="4.1" fill="#0a88a3" stroke="#000" stroke-width="0.9"/>
<circle cx="1029.49" cy="740.11" r="4.1" fill="#0a88a3" stroke="#000" stroke-width="0.9"/>
<circle cx="1035.69" cy="744.06" r="4.1" fill="#0a88a3" stroke="#000" stroke-width="0.9"/>
<circle cx="1027.29" cy="746.04" r="4.1" fill="#0a88a3" stroke="#000" stroke-width="0.9"/>
<rect x="1022.69" y="725.28" width="13.6" height="153.22" fill="none" stroke="#000" stroke-width="2.8"/>
<line x1="1029.49" y1="707.49" x2="1029.49" y2="742.09" stroke="#000" stroke-width="1.8"/>
<line x1="1025.69" y1="707.49" x2="1033.29" y2="707.49" stroke="#000" stroke-width="1.8"/>
<line x1="1025.69" y1="742.09" x2="1033.29" y2="742.09" stroke="#000" stroke-width="1.8"/>
<line x1="1029.49" y1="878.50" x2="1029.49" y2="889.50" stroke="#000" stroke-width="2.2"/>
<text x="1039.99" y="904.50" text-anchor="end" class="t" transform="rotate(-45 1039.99 904.50)">D65</text>
<text x="1030.49" y="485.30" text-anchor="middle" class="st">*</text>
<circle cx="1054.33" cy="697.60" r="4.1" fill="#0a88a3" stroke="#000" stroke-width="0.9"/>
<circle cx="1058.73" cy="702.55" r="4.1" fill="#0a88a3" stroke="#000" stroke-width="0.9"/>
<circle cx="1054.33" cy="708.48" r="4.1" fill="#0a88a3" stroke="#000" stroke-width="0.9"/>
<circle cx="1054.33" cy="728.25" r="4.1" fill="#0a88a3" stroke="#000" stroke-width="0.9"/>
<circle cx="1054.33" cy="751.97" r="4.1" fill="#0a88a3" stroke="#000" stroke-width="0.9"/>
<circle cx="1056.53" cy="757.90" r="4.1" fill="#0a88a3" stroke="#000" stroke-width="0.9"/>
<circle cx="1052.13" cy="762.85" r="4.1" fill="#0a88a3" stroke="#000" stroke-width="0.9"/>
<circle cx="1054.33" cy="774.71" r="4.1" fill="#0a88a3" stroke="#000" stroke-width="0.9"/>
<circle cx="1058.73" cy="779.65" r="4.1" fill="#0a88a3" stroke="#000" stroke-width="0.9"/>
<circle cx="1054.33" cy="787.56" r="4.1" fill="#0a88a3" stroke="#000" stroke-width="0.9"/>
<rect x="1047.53" y="753.95" width="13.6" height="124.55" fill="none" stroke="#000" stroke-width="2.8"/>
<line x1="1054.33" y1="721.33" x2="1054.33" y2="783.60" stroke="#000" stroke-width="1.8"/>
<line x1="1050.53" y1="721.33" x2="1058.13" y2="721.33" stroke="#000" stroke-width="1.8"/>
<line x1="1050.53" y1="783.60" x2="1058.13" y2="783.60" stroke="#000" stroke-width="1.8"/>
<line x1="1054.33" y1="878.50" x2="1054.33" y2="889.50" stroke="#000" stroke-width="2.2"/>
<text x="1064.83" y="904.50" text-anchor="end" class="t" transform="rotate(-45 1064.83 904.50)">D69</text>
<circle cx="1079.18" cy="742.09" r="4.1" fill="#0a88a3" stroke="#000" stroke-width="0.9"/>
<circle cx="1085.38" cy="745.05" r="4.1" fill="#0a88a3" stroke="#000" stroke-width="0.9"/>
<circle cx="1076.98" cy="748.02" r="4.1" fill="#0a88a3" stroke="#000" stroke-width="0.9"/>
<circle cx="1083.58" cy="751.97" r="4.1" fill="#0a88a3" stroke="#000" stroke-width="0.9"/>
<circle cx="1076.98" cy="755.93" r="4.1" fill="#0a88a3" stroke="#000" stroke-width="0.9"/>
<circle cx="1083.58" cy="759.88" r="4.1" fill="#0a88a3" stroke="#000" stroke-width="0.9"/>
<circle cx="1076.98" cy="763.83" r="4.1" fill="#0a88a3" stroke="#000" stroke-width="0.9"/>
<circle cx="1083.58" cy="767.79" r="4.1" fill="#0a88a3" stroke="#000" stroke-width="0.9"/>
<rect x="1072.38" y="751.97" width="13.6" height="126.53" fill="none" stroke="#000" stroke-width="2.8"/>
<line x1="1079.18" y1="741.10" x2="1079.18" y2="758.89" stroke="#000" stroke-width="1.8"/>
<line x1="1075.38" y1="741.10" x2="1082.98" y2="741.10" stroke="#000" stroke-width="1.8"/>
<line x1="1075.38" y1="758.89" x2="1082.98" y2="758.89" stroke="#000" stroke-width="1.8"/>
<line x1="1079.18" y1="878.50" x2="1079.18" y2="889.50" stroke="#000" stroke-width="2.2"/>
<text x="1089.68" y="904.50" text-anchor="end" class="t" transform="rotate(-45 1089.68 904.50)">D70</text>
<circle cx="1104.03" cy="719.35" r="4.1" fill="#0a88a3" stroke="#000" stroke-width="0.9"/>
<circle cx="1104.03" cy="735.17" r="4.1" fill="#0a88a3" stroke="#000" stroke-width="0.9"/>
<circle cx="1108.43" cy="740.11" r="4.1" fill="#0a88a3" stroke="#000" stroke-width="0.9"/>
<circle cx="1104.03" cy="745.05" r="4.1" fill="#0a88a3" stroke="#000" stroke-width="0.9"/>
<circle cx="1108.43" cy="750.00" r="4.1" fill="#0a88a3" stroke="#000" stroke-width="0.9"/>
<circle cx="1101.83" cy="753.95" r="4.1" fill="#0a88a3" stroke="#000" stroke-width="0.9"/>
<circle cx="1104.03" cy="774.71" r="4.1" fill="#0a88a3" stroke="#000" stroke-width="0.9"/>
<rect x="1097.23" y="750.00" width="13.6" height="128.50" fill="none" stroke="#000" stroke-width="2.8"/>
<line x1="1104.03" y1="733.19" x2="1104.03" y2="765.81" stroke="#000" stroke-width="1.8"/>
<line x1="1100.23" y1="733.19" x2="1107.83" y2="733.19" stroke="#000" stroke-width="1.8"/>
<line x1="1100.23" y1="765.81" x2="1107.83" y2="765.81" stroke="#000" stroke-width="1.8"/>
<line x1="1104.03" y1="878.50" x2="1104.03" y2="889.50" stroke="#000" stroke-width="2.2"/>
<text x="1114.53" y="904.50" text-anchor="end" class="t" transform="rotate(-45 1114.53 904.50)">D73</text>
<circle cx="1128.88" cy="752.96" r="4.1" fill="#0a88a3" stroke="#000" stroke-width="0.9"/>
<circle cx="1133.28" cy="757.90" r="4.1" fill="#0a88a3" stroke="#000" stroke-width="0.9"/>
<circle cx="1128.88" cy="774.71" r="4.1" fill="#0a88a3" stroke="#000" stroke-width="0.9"/>
<circle cx="1133.28" cy="779.65" r="4.1" fill="#0a88a3" stroke="#000" stroke-width="0.9"/>
<circle cx="1128.88" cy="784.59" r="4.1" fill="#0a88a3" stroke="#000" stroke-width="0.9"/>
<circle cx="1133.28" cy="789.53" r="4.1" fill="#0a88a3" stroke="#000" stroke-width="0.9"/>
<circle cx="1126.68" cy="793.49" r="4.1" fill="#0a88a3" stroke="#000" stroke-width="0.9"/>
<circle cx="1128.88" cy="799.42" r="4.1" fill="#0a88a3" stroke="#000" stroke-width="0.9"/>
<circle cx="1135.08" cy="803.37" r="4.1" fill="#0a88a3" stroke="#000" stroke-width="0.9"/>
<circle cx="1128.88" cy="807.33" r="4.1" fill="#0a88a3" stroke="#000" stroke-width="0.9"/>
<rect x="1122.08" y="788.55" width="13.6" height="89.95" fill="none" stroke="#000" stroke-width="2.8"/>
<line x1="1128.88" y1="769.76" x2="1128.88" y2="804.36" stroke="#000" stroke-width="1.8"/>
<line x1="1125.08" y1="769.76" x2="1132.68" y2="769.76" stroke="#000" stroke-width="1.8"/>
<line x1="1125.08" y1="804.36" x2="1132.68" y2="804.36" stroke="#000" stroke-width="1.8"/>
<line x1="1128.88" y1="878.50" x2="1128.88" y2="889.50" stroke="#000" stroke-width="2.2"/>
<text x="1139.38" y="904.50" text-anchor="end" class="t" transform="rotate(-45 1139.38 904.50)">D74</text>
<circle cx="1153.73" cy="712.43" r="4.1" fill="#0a88a3" stroke="#000" stroke-width="0.9"/>
<circle cx="1153.73" cy="728.25" r="4.1" fill="#0a88a3" stroke="#000" stroke-width="0.9"/>
<circle cx="1158.13" cy="733.19" r="4.1" fill="#0a88a3" stroke="#000" stroke-width="0.9"/>
<circle cx="1153.73" cy="757.90" r="4.1" fill="#0a88a3" stroke="#000" stroke-width="0.9"/>
<circle cx="1153.73" cy="780.64" r="4.1" fill="#0a88a3" stroke="#000" stroke-width="0.9"/>
<circle cx="1155.93" cy="786.57" r="4.1" fill="#0a88a3" stroke="#000" stroke-width="0.9"/>
<circle cx="1153.73" cy="793.49" r="4.1" fill="#0a88a3" stroke="#000" stroke-width="0.9"/>
<circle cx="1153.73" cy="802.39" r="4.1" fill="#0a88a3" stroke="#000" stroke-width="0.9"/>
<circle cx="1158.13" cy="807.33" r="4.1" fill="#0a88a3" stroke="#000" stroke-width="0.9"/>
<circle cx="1153.73" cy="812.27" r="4.1" fill="#0a88a3" stroke="#000" stroke-width="0.9"/>
<rect x="1146.93" y="777.67" width="13.6" height="100.83" fill="none" stroke="#000" stroke-width="2.8"/>
<line x1="1153.73" y1="743.08" x2="1153.73" y2="812.27" stroke="#000" stroke-width="1.8"/>
<line x1="1149.93" y1="743.08" x2="1157.53" y2="743.08" stroke="#000" stroke-width="1.8"/>
<line x1="1149.93" y1="812.27" x2="1157.53" y2="812.27" stroke="#000" stroke-width="1.8"/>
<line x1="1153.73" y1="878.50" x2="1153.73" y2="889.50" stroke="#000" stroke-width="2.2"/>
<text x="1164.23" y="904.50" text-anchor="end" class="t" transform="rotate(-45 1164.23 904.50)">D75</text>
<circle cx="1178.57" cy="736.16" r="4.1" fill="#0a88a3" stroke="#000" stroke-width="0.9"/>
<circle cx="1180.77" cy="742.09" r="4.1" fill="#0a88a3" stroke="#000" stroke-width="0.9"/>
<circle cx="1178.57" cy="749.01" r="4.1" fill="#0a88a3" stroke="#000" stroke-width="0.9"/>
<circle cx="1178.57" cy="769.76" r="4.1" fill="#0a88a3" stroke="#000" stroke-width="0.9"/>
<circle cx="1178.57" cy="794.48" r="4.1" fill="#0a88a3" stroke="#000" stroke-width="0.9"/>
<circle cx="1178.57" cy="804.36" r="4.1" fill="#0a88a3" stroke="#000" stroke-width="0.9"/>
<circle cx="1184.77" cy="808.32" r="4.1" fill="#0a88a3" stroke="#000" stroke-width="0.9"/>
<circle cx="1178.57" cy="812.27" r="4.1" fill="#0a88a3" stroke="#000" stroke-width="0.9"/>
<rect x="1171.77" y="780.64" width="13.6" height="97.86" fill="none" stroke="#000" stroke-width="2.8"/>
<line x1="1178.57" y1="750.00" x2="1178.57" y2="811.28" stroke="#000" stroke-width="1.8"/>
<line x1="1174.77" y1="750.00" x2="1182.37" y2="750.00" stroke="#000" stroke-width="1.8"/>
<line x1="1174.77" y1="811.28" x2="1182.37" y2="811.28" stroke="#000" stroke-width="1.8"/>
<line x1="1178.57" y1="878.50" x2="1178.57" y2="889.50" stroke="#000" stroke-width="2.2"/>
<text x="1189.07" y="904.50" text-anchor="end" class="t" transform="rotate(-45 1189.07 904.50)">D80</text>
<circle cx="1220.06" cy="714.41" r="4.1" fill="#0000cc" stroke="#000" stroke-width="0.9"/>
<circle cx="1220.06" cy="734.18" r="4.1" fill="#0000cc" stroke="#000" stroke-width="0.9"/>
<circle cx="1220.06" cy="747.03" r="4.1" fill="#0000cc" stroke="#000" stroke-width="0.9"/>
<circle cx="1224.46" cy="751.97" r="4.1" fill="#0000cc" stroke="#000" stroke-width="0.9"/>
<circle cx="1217.86" cy="755.93" r="4.1" fill="#0000cc" stroke="#000" stroke-width="0.9"/>
<circle cx="1224.46" cy="759.88" r="4.1" fill="#0000cc" stroke="#000" stroke-width="0.9"/>
<circle cx="1220.06" cy="769.76" r="4.1" fill="#0000cc" stroke="#000" stroke-width="0.9"/>
<circle cx="1224.46" cy="774.71" r="4.1" fill="#0000cc" stroke="#000" stroke-width="0.9"/>
<circle cx="1220.06" cy="779.65" r="4.1" fill="#0000cc" stroke="#000" stroke-width="0.9"/>
<circle cx="1226.26" cy="782.62" r="4.1" fill="#0000cc" stroke="#000" stroke-width="0.9"/>
<circle cx="1220.06" cy="795.47" r="4.1" fill="#0000cc" stroke="#000" stroke-width="0.9"/>
<rect x="1213.26" y="762.85" width="13.6" height="115.65" fill="none" stroke="#000" stroke-width="2.8"/>
<line x1="1220.06" y1="736.16" x2="1220.06" y2="789.53" stroke="#000" stroke-width="1.8"/>
<line x1="1216.26" y1="736.16" x2="1223.86" y2="736.16" stroke="#000" stroke-width="1.8"/>
<line x1="1216.26" y1="789.53" x2="1223.86" y2="789.53" stroke="#000" stroke-width="1.8"/>
<line x1="1220.06" y1="878.50" x2="1220.06" y2="889.50" stroke="#000" stroke-width="2.2"/>
<text x="1230.56" y="904.50" text-anchor="end" class="t" transform="rotate(-45 1230.56 904.50)">E4</text>
<circle cx="1244.90" cy="722.32" r="4.1" fill="#0000cc" stroke="#000" stroke-width="0.9"/>
<circle cx="1244.90" cy="730.23" r="4.1" fill="#0000cc" stroke="#000" stroke-width="0.9"/>
<circle cx="1244.90" cy="748.02" r="4.1" fill="#0000cc" stroke="#000" stroke-width="0.9"/>
<circle cx="1244.90" cy="774.71" r="4.1" fill="#0000cc" stroke="#000" stroke-width="0.9"/>
<circle cx="1249.30" cy="779.65" r="4.1" fill="#0000cc" stroke="#000" stroke-width="0.9"/>
<circle cx="1244.90" cy="784.59" r="4.1" fill="#0000cc" stroke="#000" stroke-width="0.9"/>
<circle cx="1249.30" cy="789.53" r="4.1" fill="#0000cc" stroke="#000" stroke-width="0.9"/>
<circle cx="1242.70" cy="793.49" r="4.1" fill="#0000cc" stroke="#000" stroke-width="0.9"/>
<circle cx="1249.30" cy="797.44" r="4.1" fill="#0000cc" stroke="#000" stroke-width="0.9"/>
<rect x="1238.10" y="771.74" width="13.6" height="106.76" fill="none" stroke="#000" stroke-width="2.8"/>
<line x1="1244.90" y1="745.05" x2="1244.90" y2="798.43" stroke="#000" stroke-width="1.8"/>
<line x1="1241.10" y1="745.05" x2="1248.70" y2="745.05" stroke="#000" stroke-width="1.8"/>
<line x1="1241.10" y1="798.43" x2="1248.70" y2="798.43" stroke="#000" stroke-width="1.8"/>
<line x1="1244.90" y1="878.50" x2="1244.90" y2="889.50" stroke="#000" stroke-width="2.2"/>
<text x="1255.40" y="904.50" text-anchor="end" class="t" transform="rotate(-45 1255.40 904.50)">ChAdOx</text>
<circle cx="1286.39" cy="728.25" r="4.1" fill="#7a0fa0" stroke="#000" stroke-width="0.9"/>
<circle cx="1286.39" cy="742.09" r="4.1" fill="#7a0fa0" stroke="#000" stroke-width="0.9"/>
<circle cx="1286.39" cy="759.88" r="4.1" fill="#7a0fa0" stroke="#000" stroke-width="0.9"/>
<circle cx="1290.79" cy="764.82" r="4.1" fill="#7a0fa0" stroke="#000" stroke-width="0.9"/>
<circle cx="1286.39" cy="789.53" r="4.1" fill="#7a0fa0" stroke="#000" stroke-width="0.9"/>
<circle cx="1292.59" cy="793.49" r="4.1" fill="#7a0fa0" stroke="#000" stroke-width="0.9"/>
<circle cx="1286.39" cy="796.45" r="4.1" fill="#7a0fa0" stroke="#000" stroke-width="0.9"/>
<rect x="1279.59" y="776.68" width="13.6" height="101.82" fill="none" stroke="#000" stroke-width="2.8"/>
<line x1="1286.39" y1="752.96" x2="1286.39" y2="799.42" stroke="#000" stroke-width="1.8"/>
<line x1="1282.59" y1="752.96" x2="1290.19" y2="752.96" stroke="#000" stroke-width="1.8"/>
<line x1="1282.59" y1="799.42" x2="1290.19" y2="799.42" stroke="#000" stroke-width="1.8"/>
<line x1="1286.39" y1="878.50" x2="1286.39" y2="889.50" stroke="#000" stroke-width="2.2"/>
<text x="1296.89" y="904.50" text-anchor="end" class="t" transform="rotate(-45 1296.89 904.50)">F41</text>
<circle cx="1327.87" cy="766.80" r="4.1" fill="#d6006b" stroke="#000" stroke-width="0.9"/>
<circle cx="1334.07" cy="770.75" r="4.1" fill="#d6006b" stroke="#000" stroke-width="0.9"/>
<circle cx="1327.87" cy="777.67" r="4.1" fill="#d6006b" stroke="#000" stroke-width="0.9"/>
<circle cx="1334.07" cy="781.63" r="4.1" fill="#d6006b" stroke="#000" stroke-width="0.9"/>
<circle cx="1327.87" cy="784.59" r="4.1" fill="#d6006b" stroke="#000" stroke-width="0.9"/>
<circle cx="1327.87" cy="792.50" r="4.1" fill="#d6006b" stroke="#000" stroke-width="0.9"/>
<rect x="1321.07" y="779.65" width="13.6" height="98.85" fill="none" stroke="#000" stroke-width="2.8"/>
<line x1="1327.87" y1="772.73" x2="1327.87" y2="784.59" stroke="#000" stroke-width="1.8"/>
<line x1="1324.07" y1="772.73" x2="1331.67" y2="772.73" stroke="#000" stroke-width="1.8"/>
<line x1="1324.07" y1="784.59" x2="1331.67" y2="784.59" stroke="#000" stroke-width="1.8"/>
<line x1="1327.87" y1="878.50" x2="1327.87" y2="889.50" stroke="#000" stroke-width="2.2"/>
<text x="1338.37" y="904.50" text-anchor="end" class="t" transform="rotate(-45 1338.37 904.50)">G52</text>
<line x1="135.5" y1="482.10" x2="135.5" y2="879.50" stroke="#000" stroke-width="2.6"/>
<line x1="134.2" y1="878.50" x2="1355" y2="878.50" stroke="#000" stroke-width="2.6"/>
<line x1="128.5" y1="858.73" x2="135.5" y2="858.73" stroke="#000" stroke-width="2.2"/>
<line x1="128.5" y1="838.96" x2="135.5" y2="838.96" stroke="#000" stroke-width="2.2"/>
<line x1="128.5" y1="819.19" x2="135.5" y2="819.19" stroke="#000" stroke-width="2.2"/>
<line x1="128.5" y1="799.42" x2="135.5" y2="799.42" stroke="#000" stroke-width="2.2"/>
<line x1="128.5" y1="759.88" x2="135.5" y2="759.88" stroke="#000" stroke-width="2.2"/>
<line x1="128.5" y1="740.11" x2="135.5" y2="740.11" stroke="#000" stroke-width="2.2"/>
<line x1="128.5" y1="720.34" x2="135.5" y2="720.34" stroke="#000" stroke-width="2.2"/>
<line x1="128.5" y1="700.57" x2="135.5" y2="700.57" stroke="#000" stroke-width="2.2"/>
<line x1="128.5" y1="661.03" x2="135.5" y2="661.03" stroke="#000" stroke-width="2.2"/>
<line x1="128.5" y1="641.26" x2="135.5" y2="641.26" stroke="#000" stroke-width="2.2"/>
<line x1="128.5" y1="621.49" x2="135.5" y2="621.49" stroke="#000" stroke-width="2.2"/>
<line x1="128.5" y1="601.72" x2="135.5" y2="601.72" stroke="#000" stroke-width="2.2"/>
<line x1="128.5" y1="562.18" x2="135.5" y2="562.18" stroke="#000" stroke-width="2.2"/>
<line x1="128.5" y1="542.41" x2="135.5" y2="542.41" stroke="#000" stroke-width="2.2"/>
<line x1="128.5" y1="522.64" x2="135.5" y2="522.64" stroke="#000" stroke-width="2.2"/>
<line x1="128.5" y1="502.87" x2="135.5" y2="502.87" stroke="#000" stroke-width="2.2"/>
<line x1="123.5" y1="878.50" x2="135.5" y2="878.50" stroke="#000" stroke-width="2.6"/>
<text transform="translate(117.10 886.50) scale(1 1.05)" text-anchor="end" class="t">0</text>
<line x1="123.5" y1="779.65" x2="135.5" y2="779.65" stroke="#000" stroke-width="2.6"/>
<text transform="translate(117.10 787.65) scale(1 1.05)" text-anchor="end" class="t">1</text>
<line x1="123.5" y1="680.80" x2="135.5" y2="680.80" stroke="#000" stroke-width="2.6"/>
<text transform="translate(117.10 688.80) scale(1 1.05)" text-anchor="end" class="t">2</text>
<line x1="123.5" y1="581.95" x2="135.5" y2="581.95" stroke="#000" stroke-width="2.6"/>
<text transform="translate(117.10 589.95) scale(1 1.05)" text-anchor="end" class="t">3</text>
<line x1="123.5" y1="483.10" x2="135.5" y2="483.10" stroke="#000" stroke-width="2.6"/>
<text transform="translate(117.10 491.10) scale(1 1.05)" text-anchor="end" class="t">4</text>
<text x="89" y="682.10" text-anchor="middle" class="yt" transform="rotate(-90 89 682.10)">MHC-I (fold-change MFI)</text>
<text transform='translate(0.5 482.4) scale(1 1.119)' class='lab' style='font-size:27.8px'>B</text>
</g>
<g>
<line x1="135.5" y1="1369.25" x2="1355" y2="1369.25" stroke="#000" stroke-width="2.6" stroke-dasharray="7.5 5"/>
<circle cx="151.18" cy="1363.97" r="4.1" fill="#d9d9d9" stroke="#000" stroke-width="0.9"/>
<circle cx="157.38" cy="1365.95" r="4.1" fill="#d9d9d9" stroke="#000" stroke-width="0.9"/>
<circle cx="144.98" cy="1367.27" r="4.1" fill="#d9d9d9" stroke="#000" stroke-width="0.9"/>
<circle cx="153.38" cy="1368.59" r="4.1" fill="#d9d9d9" stroke="#000" stroke-width="0.9"/>
<circle cx="148.98" cy="1369.91" r="4.1" fill="#d9d9d9" stroke="#000" stroke-width="0.9"/>
<circle cx="157.38" cy="1371.23" r="4.1" fill="#d9d9d9" stroke="#000" stroke-width="0.9"/>
<circle cx="144.98" cy="1372.55" r="4.1" fill="#d9d9d9" stroke="#000" stroke-width="0.9"/>
<circle cx="153.38" cy="1374.53" r="4.1" fill="#d9d9d9" stroke="#000" stroke-width="0.9"/>
<circle cx="148.98" cy="1375.85" r="4.1" fill="#d9d9d9" stroke="#000" stroke-width="0.9"/>
<rect x="144.38" y="1369.25" width="13.6" height="65.95" fill="none" stroke="#000" stroke-width="2.8"/>
<line x1="151.18" y1="1365.95" x2="151.18" y2="1372.55" stroke="#000" stroke-width="1.8"/>
<line x1="147.38" y1="1365.95" x2="154.98" y2="1365.95" stroke="#000" stroke-width="1.8"/>
<line x1="147.38" y1="1372.55" x2="154.98" y2="1372.55" stroke="#000" stroke-width="1.8"/>
<line x1="151.18" y1="1435.20" x2="151.18" y2="1446.20" stroke="#000" stroke-width="2.2"/>
<text x="161.68" y="1461.20" text-anchor="end" class="t" transform="rotate(-45 161.68 1461.20)">unstimulated</text>
<circle cx="192.66" cy="1086.32" r="4.1" fill="#808080" stroke="#000" stroke-width="0.9"/>
<circle cx="198.86" cy="1090.28" r="4.1" fill="#808080" stroke="#000" stroke-width="0.9"/>
<circle cx="192.66" cy="1114.02" r="4.1" fill="#808080" stroke="#000" stroke-width="0.9"/>
<circle cx="192.66" cy="1129.19" r="4.1" fill="#808080" stroke="#000" stroke-width="0.9"/>
<circle cx="198.86" cy="1131.83" r="4.1" fill="#808080" stroke="#000" stroke-width="0.9"/>
<circle cx="192.66" cy="1228.12" r="4.1" fill="#808080" stroke="#000" stroke-width="0.9"/>
<circle cx="192.66" cy="1243.29" r="4.1" fill="#808080" stroke="#000" stroke-width="0.9"/>
<circle cx="197.06" cy="1247.90" r="4.1" fill="#808080" stroke="#000" stroke-width="0.9"/>
<circle cx="192.66" cy="1267.03" r="4.1" fill="#808080" stroke="#000" stroke-width="0.9"/>
<circle cx="192.66" cy="1276.92" r="4.1" fill="#808080" stroke="#000" stroke-width="0.9"/>
<circle cx="192.66" cy="1283.52" r="4.1" fill="#808080" stroke="#000" stroke-width="0.9"/>
<circle cx="197.06" cy="1288.79" r="4.1" fill="#808080" stroke="#000" stroke-width="0.9"/>
<circle cx="192.66" cy="1293.41" r="4.1" fill="#808080" stroke="#000" stroke-width="0.9"/>
<circle cx="197.06" cy="1298.02" r="4.1" fill="#808080" stroke="#000" stroke-width="0.9"/>
<circle cx="192.66" cy="1303.30" r="4.1" fill="#808080" stroke="#000" stroke-width="0.9"/>
<circle cx="197.06" cy="1308.58" r="4.1" fill="#808080" stroke="#000" stroke-width="0.9"/>
<circle cx="192.66" cy="1313.19" r="4.1" fill="#808080" stroke="#000" stroke-width="0.9"/>
<circle cx="197.06" cy="1317.81" r="4.1" fill="#808080" stroke="#000" stroke-width="0.9"/>
<circle cx="192.66" cy="1323.09" r="4.1" fill="#808080" stroke="#000" stroke-width="0.9"/>
<circle cx="197.06" cy="1328.36" r="4.1" fill="#808080" stroke="#000" stroke-width="0.9"/>
<circle cx="192.66" cy="1332.98" r="4.1" fill="#808080" stroke="#000" stroke-width="0.9"/>
<circle cx="197.06" cy="1337.59" r="4.1" fill="#808080" stroke="#000" stroke-width="0.9"/>
<circle cx="192.66" cy="1342.87" r="4.1" fill="#808080" stroke="#000" stroke-width="0.9"/>
<circle cx="197.06" cy="1348.15" r="4.1" fill="#808080" stroke="#000" stroke-width="0.9"/>
<circle cx="192.66" cy="1352.76" r="4.1" fill="#808080" stroke="#000" stroke-width="0.9"/>
<circle cx="197.06" cy="1357.38" r="4.1" fill="#808080" stroke="#000" stroke-width="0.9"/>
<circle cx="192.66" cy="1362.65" r="4.1" fill="#808080" stroke="#000" stroke-width="0.9"/>
<circle cx="197.06" cy="1367.27" r="4.1" fill="#808080" stroke="#000" stroke-width="0.9"/>
<circle cx="192.66" cy="1372.55" r="4.1" fill="#808080" stroke="#000" stroke-width="0.9"/>
<circle cx="197.06" cy="1377.16" r="4.1" fill="#808080" stroke="#000" stroke-width="0.9"/>
<circle cx="192.66" cy="1382.44" r="4.1" fill="#808080" stroke="#000" stroke-width="0.9"/>
<circle cx="192.66" cy="1398.93" r="4.1" fill="#808080" stroke="#000" stroke-width="0.9"/>
<rect x="185.86" y="1294.73" width="13.6" height="140.47" fill="none" stroke="#000" stroke-width="2.8"/>
<line x1="192.66" y1="1213.61" x2="192.66" y2="1375.85" stroke="#000" stroke-width="1.8"/>
<line x1="188.86" y1="1213.61" x2="196.46" y2="1213.61" stroke="#000" stroke-width="1.8"/>
<line x1="188.86" y1="1375.85" x2="196.46" y2="1375.85" stroke="#000" stroke-width="1.8"/>
<line x1="192.66" y1="1435.20" x2="192.66" y2="1446.20" stroke="#000" stroke-width="2.2"/>
<text x="203.16" y="1461.20" text-anchor="end" class="t" transform="rotate(-45 203.16 1461.20)">LPS10</text>
<text x="193.66" y="1041.80" text-anchor="middle" class="st">*</text>
<circle cx="217.51" cy="1060.60" r="4.1" fill="#808080" stroke="#000" stroke-width="0.9"/>
<circle cx="217.51" cy="1067.86" r="4.1" fill="#808080" stroke="#000" stroke-width="0.9"/>
<circle cx="217.51" cy="1105.45" r="4.1" fill="#808080" stroke="#000" stroke-width="0.9"/>
<circle cx="217.51" cy="1123.92" r="4.1" fill="#808080" stroke="#000" stroke-width="0.9"/>
<circle cx="217.51" cy="1228.78" r="4.1" fill="#808080" stroke="#000" stroke-width="0.9"/>
<circle cx="219.71" cy="1234.71" r="4.1" fill="#808080" stroke="#000" stroke-width="0.9"/>
<circle cx="215.31" cy="1239.99" r="4.1" fill="#808080" stroke="#000" stroke-width="0.9"/>
<circle cx="217.51" cy="1251.20" r="4.1" fill="#808080" stroke="#000" stroke-width="0.9"/>
<circle cx="217.51" cy="1264.39" r="4.1" fill="#808080" stroke="#000" stroke-width="0.9"/>
<circle cx="221.91" cy="1269.01" r="4.1" fill="#808080" stroke="#000" stroke-width="0.9"/>
<circle cx="217.51" cy="1275.60" r="4.1" fill="#808080" stroke="#000" stroke-width="0.9"/>
<circle cx="221.91" cy="1280.22" r="4.1" fill="#808080" stroke="#000" stroke-width="0.9"/>
<circle cx="217.51" cy="1284.83" r="4.1" fill="#808080" stroke="#000" stroke-width="0.9"/>
<circle cx="221.91" cy="1290.11" r="4.1" fill="#808080" stroke="#000" stroke-width="0.9"/>
<circle cx="217.51" cy="1295.39" r="4.1" fill="#808080" stroke="#000" stroke-width="0.9"/>
<circle cx="221.91" cy="1300.00" r="4.1" fill="#808080" stroke="#000" stroke-width="0.9"/>
<circle cx="217.51" cy="1304.62" r="4.1" fill="#808080" stroke="#000" stroke-width="0.9"/>
<circle cx="221.91" cy="1309.89" r="4.1" fill="#808080" stroke="#000" stroke-width="0.9"/>
<circle cx="217.51" cy="1315.17" r="4.1" fill="#808080" stroke="#000" stroke-width="0.9"/>
<circle cx="221.91" cy="1319.79" r="4.1" fill="#808080" stroke="#000" stroke-width="0.9"/>
<circle cx="217.51" cy="1324.40" r="4.1" fill="#808080" stroke="#000" stroke-width="0.9"/>
<circle cx="221.91" cy="1329.68" r="4.1" fill="#808080" stroke="#000" stroke-width="0.9"/>
<circle cx="217.51" cy="1334.96" r="4.1" fill="#808080" stroke="#000" stroke-width="0.9"/>
<circle cx="221.91" cy="1339.57" r="4.1" fill="#808080" stroke="#000" stroke-width="0.9"/>
<circle cx="217.51" cy="1344.19" r="4.1" fill="#808080" stroke="#000" stroke-width="0.9"/>
<circle cx="221.91" cy="1349.47" r="4.1" fill="#808080" stroke="#000" stroke-width="0.9"/>
<circle cx="217.51" cy="1354.74" r="4.1" fill="#808080" stroke="#000" stroke-width="0.9"/>
<circle cx="221.91" cy="1359.36" r="4.1" fill="#808080" stroke="#000" stroke-width="0.9"/>
<circle cx="217.51" cy="1363.97" r="4.1" fill="#808080" stroke="#000" stroke-width="0.9"/>
<circle cx="221.91" cy="1369.25" r="4.1" fill="#808080" stroke="#000" stroke-width="0.9"/>
<circle cx="217.51" cy="1374.53" r="4.1" fill="#808080" stroke="#000" stroke-width="0.9"/>
<circle cx="217.51" cy="1408.82" r="4.1" fill="#808080" stroke="#000" stroke-width="0.9"/>
<rect x="210.71" y="1279.56" width="13.6" height="155.64" fill="none" stroke="#000" stroke-width="2.8"/>
<line x1="217.51" y1="1192.50" x2="217.51" y2="1366.61" stroke="#000" stroke-width="1.8"/>
<line x1="213.71" y1="1192.50" x2="221.31" y2="1192.50" stroke="#000" stroke-width="1.8"/>
<line x1="213.71" y1="1366.61" x2="221.31" y2="1366.61" stroke="#000" stroke-width="1.8"/>
<line x1="217.51" y1="1435.20" x2="217.51" y2="1446.20" stroke="#000" stroke-width="2.2"/>
<text x="228.01" y="1461.20" text-anchor="end" class="t" transform="rotate(-45 228.01 1461.20)">LPS100</text>
<text x="218.51" y="1041.80" text-anchor="middle" class="st">*</text>
<circle cx="258.99" cy="1289.45" r="4.1" fill="#aa0000" stroke="#000" stroke-width="0.9"/>
<circle cx="258.99" cy="1306.60" r="4.1" fill="#aa0000" stroke="#000" stroke-width="0.9"/>
<circle cx="258.99" cy="1313.19" r="4.1" fill="#aa0000" stroke="#000" stroke-width="0.9"/>
<circle cx="263.39" cy="1317.81" r="4.1" fill="#aa0000" stroke="#000" stroke-width="0.9"/>
<circle cx="256.79" cy="1321.77" r="4.1" fill="#aa0000" stroke="#000" stroke-width="0.9"/>
<circle cx="263.39" cy="1325.06" r="4.1" fill="#aa0000" stroke="#000" stroke-width="0.9"/>
<circle cx="258.99" cy="1334.96" r="4.1" fill="#aa0000" stroke="#000" stroke-width="0.9"/>
<circle cx="263.39" cy="1339.57" r="4.1" fill="#aa0000" stroke="#000" stroke-width="0.9"/>
<circle cx="258.99" cy="1344.19" r="4.1" fill="#aa0000" stroke="#000" stroke-width="0.9"/>
<circle cx="265.19" cy="1347.49" r="4.1" fill="#aa0000" stroke="#000" stroke-width="0.9"/>
<circle cx="258.99" cy="1365.95" r="4.1" fill="#aa0000" stroke="#000" stroke-width="0.9"/>
<circle cx="258.99" cy="1372.55" r="4.1" fill="#aa0000" stroke="#000" stroke-width="0.9"/>
<circle cx="265.19" cy="1376.50" r="4.1" fill="#aa0000" stroke="#000" stroke-width="0.9"/>
<rect x="252.19" y="1332.98" width="13.6" height="102.22" fill="none" stroke="#000" stroke-width="2.8"/>
<line x1="258.99" y1="1311.87" x2="258.99" y2="1352.10" stroke="#000" stroke-width="1.8"/>
<line x1="255.19" y1="1311.87" x2="262.79" y2="1311.87" stroke="#000" stroke-width="1.8"/>
<line x1="255.19" y1="1352.10" x2="262.79" y2="1352.10" stroke="#000" stroke-width="1.8"/>
<line x1="258.99" y1="1435.20" x2="258.99" y2="1446.20" stroke="#000" stroke-width="2.2"/>
<text x="269.49" y="1461.20" text-anchor="end" class="t" transform="rotate(-45 269.49 1461.20)">A12</text>
<circle cx="283.84" cy="1256.48" r="4.1" fill="#aa0000" stroke="#000" stroke-width="0.9"/>
<circle cx="283.84" cy="1269.01" r="4.1" fill="#aa0000" stroke="#000" stroke-width="0.9"/>
<circle cx="288.24" cy="1273.62" r="4.1" fill="#aa0000" stroke="#000" stroke-width="0.9"/>
<circle cx="281.64" cy="1276.26" r="4.1" fill="#aa0000" stroke="#000" stroke-width="0.9"/>
<circle cx="283.84" cy="1293.41" r="4.1" fill="#aa0000" stroke="#000" stroke-width="0.9"/>
<circle cx="290.04" cy="1296.70" r="4.1" fill="#aa0000" stroke="#000" stroke-width="0.9"/>
<circle cx="279.44" cy="1298.02" r="4.1" fill="#aa0000" stroke="#000" stroke-width="0.9"/>
<rect x="277.04" y="1284.83" width="13.6" height="150.37" fill="none" stroke="#000" stroke-width="2.8"/>
<line x1="283.84" y1="1276.92" x2="283.84" y2="1292.09" stroke="#000" stroke-width="1.8"/>
<line x1="280.04" y1="1276.92" x2="287.64" y2="1276.92" stroke="#000" stroke-width="1.8"/>
<line x1="280.04" y1="1292.09" x2="287.64" y2="1292.09" stroke="#000" stroke-width="1.8"/>
<line x1="283.84" y1="1435.20" x2="283.84" y2="1446.20" stroke="#000" stroke-width="2.2"/>
<text x="294.34" y="1461.20" text-anchor="end" class="t" transform="rotate(-45 294.34 1461.20)">A18</text>
<text x="284.84" y="1041.80" text-anchor="middle" class="st">*</text>
<circle cx="308.69" cy="1329.02" r="4.1" fill="#aa0000" stroke="#000" stroke-width="0.9"/>
<circle cx="308.69" cy="1341.55" r="4.1" fill="#aa0000" stroke="#000" stroke-width="0.9"/>
<circle cx="310.89" cy="1347.49" r="4.1" fill="#aa0000" stroke="#000" stroke-width="0.9"/>
<circle cx="306.49" cy="1352.10" r="4.1" fill="#aa0000" stroke="#000" stroke-width="0.9"/>
<circle cx="308.69" cy="1362.00" r="4.1" fill="#aa0000" stroke="#000" stroke-width="0.9"/>
<circle cx="314.89" cy="1365.95" r="4.1" fill="#aa0000" stroke="#000" stroke-width="0.9"/>
<circle cx="308.69" cy="1369.25" r="4.1" fill="#aa0000" stroke="#000" stroke-width="0.9"/>
<rect x="301.89" y="1358.70" width="13.6" height="76.50" fill="none" stroke="#000" stroke-width="2.8"/>
<line x1="308.69" y1="1344.19" x2="308.69" y2="1373.21" stroke="#000" stroke-width="1.8"/>
<line x1="304.89" y1="1344.19" x2="312.49" y2="1344.19" stroke="#000" stroke-width="1.8"/>
<line x1="304.89" y1="1373.21" x2="312.49" y2="1373.21" stroke="#000" stroke-width="1.8"/>
<line x1="308.69" y1="1435.20" x2="308.69" y2="1446.20" stroke="#000" stroke-width="2.2"/>
<text x="319.19" y="1461.20" text-anchor="end" class="t" transform="rotate(-45 319.19 1461.20)">A31</text>
<circle cx="350.17" cy="1190.53" r="4.1" fill="#ff6600" stroke="#000" stroke-width="0.9"/>
<circle cx="350.17" cy="1201.74" r="4.1" fill="#ff6600" stroke="#000" stroke-width="0.9"/>
<circle cx="350.17" cy="1212.29" r="4.1" fill="#ff6600" stroke="#000" stroke-width="0.9"/>
<circle cx="350.17" cy="1231.41" r="4.1" fill="#ff6600" stroke="#000" stroke-width="0.9"/>
<circle cx="350.17" cy="1239.33" r="4.1" fill="#ff6600" stroke="#000" stroke-width="0.9"/>
<circle cx="350.17" cy="1300.66" r="4.1" fill="#ff6600" stroke="#000" stroke-width="0.9"/>
<circle cx="356.37" cy="1301.98" r="4.1" fill="#ff6600" stroke="#000" stroke-width="0.9"/>
<circle cx="350.17" cy="1317.81" r="4.1" fill="#ff6600" stroke="#000" stroke-width="0.9"/>
<circle cx="356.37" cy="1320.45" r="4.1" fill="#ff6600" stroke="#000" stroke-width="0.9"/>
<circle cx="350.17" cy="1325.06" r="4.1" fill="#ff6600" stroke="#000" stroke-width="0.9"/>
<circle cx="354.57" cy="1330.34" r="4.1" fill="#ff6600" stroke="#000" stroke-width="0.9"/>
<circle cx="350.17" cy="1340.89" r="4.1" fill="#ff6600" stroke="#000" stroke-width="0.9"/>
<circle cx="354.57" cy="1346.17" r="4.1" fill="#ff6600" stroke="#000" stroke-width="0.9"/>
<rect x="343.37" y="1286.81" width="13.6" height="148.39" fill="none" stroke="#000" stroke-width="2.8"/>
<line x1="350.17" y1="1228.78" x2="350.17" y2="1342.21" stroke="#000" stroke-width="1.8"/>
<line x1="346.37" y1="1228.78" x2="353.97" y2="1228.78" stroke="#000" stroke-width="1.8"/>
<line x1="346.37" y1="1342.21" x2="353.97" y2="1342.21" stroke="#000" stroke-width="1.8"/>
<line x1="350.17" y1="1435.20" x2="350.17" y2="1446.20" stroke="#000" stroke-width="2.2"/>
<text x="360.67" y="1461.20" text-anchor="end" class="t" transform="rotate(-45 360.67 1461.20)">B3</text>
<text x="351.17" y="1041.80" text-anchor="middle" class="st">*</text>
<circle cx="375.02" cy="1253.18" r="4.1" fill="#ff6600" stroke="#000" stroke-width="0.9"/>
<circle cx="375.02" cy="1262.41" r="4.1" fill="#ff6600" stroke="#000" stroke-width="0.9"/>
<circle cx="379.42" cy="1267.03" r="4.1" fill="#ff6600" stroke="#000" stroke-width="0.9"/>
<circle cx="372.82" cy="1270.98" r="4.1" fill="#ff6600" stroke="#000" stroke-width="0.9"/>
<circle cx="375.02" cy="1326.38" r="4.1" fill="#ff6600" stroke="#000" stroke-width="0.9"/>
<circle cx="381.22" cy="1330.34" r="4.1" fill="#ff6600" stroke="#000" stroke-width="0.9"/>
<circle cx="375.02" cy="1336.28" r="4.1" fill="#ff6600" stroke="#000" stroke-width="0.9"/>
<circle cx="377.22" cy="1342.21" r="4.1" fill="#ff6600" stroke="#000" stroke-width="0.9"/>
<circle cx="372.82" cy="1347.49" r="4.1" fill="#ff6600" stroke="#000" stroke-width="0.9"/>
<rect x="368.22" y="1310.55" width="13.6" height="124.65" fill="none" stroke="#000" stroke-width="2.8"/>
<line x1="375.02" y1="1273.62" x2="375.02" y2="1343.53" stroke="#000" stroke-width="1.8"/>
<line x1="371.22" y1="1273.62" x2="378.82" y2="1273.62" stroke="#000" stroke-width="1.8"/>
<line x1="371.22" y1="1343.53" x2="378.82" y2="1343.53" stroke="#000" stroke-width="1.8"/>
<line x1="375.02" y1="1435.20" x2="375.02" y2="1446.20" stroke="#000" stroke-width="2.2"/>
<text x="385.52" y="1461.20" text-anchor="end" class="t" transform="rotate(-45 385.52 1461.20)">B7</text>
<text x="376.02" y="1041.80" text-anchor="middle" class="st">*</text>
<circle cx="399.87" cy="1186.57" r="4.1" fill="#ff6600" stroke="#000" stroke-width="0.9"/>
<circle cx="399.87" cy="1243.29" r="4.1" fill="#ff6600" stroke="#000" stroke-width="0.9"/>
<circle cx="399.87" cy="1252.52" r="4.1" fill="#ff6600" stroke="#000" stroke-width="0.9"/>
<circle cx="404.27" cy="1257.13" r="4.1" fill="#ff6600" stroke="#000" stroke-width="0.9"/>
<circle cx="399.87" cy="1265.05" r="4.1" fill="#ff6600" stroke="#000" stroke-width="0.9"/>
<circle cx="399.87" cy="1276.26" r="4.1" fill="#ff6600" stroke="#000" stroke-width="0.9"/>
<circle cx="399.87" cy="1300.66" r="4.1" fill="#ff6600" stroke="#000" stroke-width="0.9"/>
<circle cx="404.27" cy="1305.28" r="4.1" fill="#ff6600" stroke="#000" stroke-width="0.9"/>
<circle cx="399.87" cy="1310.55" r="4.1" fill="#ff6600" stroke="#000" stroke-width="0.9"/>
<circle cx="404.27" cy="1315.17" r="4.1" fill="#ff6600" stroke="#000" stroke-width="0.9"/>
<circle cx="399.87" cy="1322.43" r="4.1" fill="#ff6600" stroke="#000" stroke-width="0.9"/>
<circle cx="399.87" cy="1329.02" r="4.1" fill="#ff6600" stroke="#000" stroke-width="0.9"/>
<rect x="393.07" y="1285.49" width="13.6" height="149.71" fill="none" stroke="#000" stroke-width="2.8"/>
<line x1="399.87" y1="1243.95" x2="399.87" y2="1322.43" stroke="#000" stroke-width="1.8"/>
<line x1="396.07" y1="1243.95" x2="403.67" y2="1243.95" stroke="#000" stroke-width="1.8"/>
<line x1="396.07" y1="1322.43" x2="403.67" y2="1322.43" stroke="#000" stroke-width="1.8"/>
<line x1="399.87" y1="1435.20" x2="399.87" y2="1446.20" stroke="#000" stroke-width="2.2"/>
<text x="410.37" y="1461.20" text-anchor="end" class="t" transform="rotate(-45 410.37 1461.20)">B11</text>
<text x="400.87" y="1041.80" text-anchor="middle" class="st">*</text>
<circle cx="424.71" cy="1220.86" r="4.1" fill="#ff6600" stroke="#000" stroke-width="0.9"/>
<circle cx="424.71" cy="1251.20" r="4.1" fill="#ff6600" stroke="#000" stroke-width="0.9"/>
<circle cx="424.71" cy="1263.73" r="4.1" fill="#ff6600" stroke="#000" stroke-width="0.9"/>
<circle cx="429.11" cy="1268.35" r="4.1" fill="#ff6600" stroke="#000" stroke-width="0.9"/>
<circle cx="424.71" cy="1276.92" r="4.1" fill="#ff6600" stroke="#000" stroke-width="0.9"/>
<circle cx="430.91" cy="1280.88" r="4.1" fill="#ff6600" stroke="#000" stroke-width="0.9"/>
<circle cx="424.71" cy="1285.49" r="4.1" fill="#ff6600" stroke="#000" stroke-width="0.9"/>
<circle cx="424.71" cy="1294.07" r="4.1" fill="#ff6600" stroke="#000" stroke-width="0.9"/>
<circle cx="424.71" cy="1303.96" r="4.1" fill="#ff6600" stroke="#000" stroke-width="0.9"/>
<circle cx="424.71" cy="1314.51" r="4.1" fill="#ff6600" stroke="#000" stroke-width="0.9"/>
<rect x="417.91" y="1279.56" width="13.6" height="155.64" fill="none" stroke="#000" stroke-width="2.8"/>
<line x1="424.71" y1="1254.50" x2="424.71" y2="1301.98" stroke="#000" stroke-width="1.8"/>
<line x1="420.91" y1="1254.50" x2="428.51" y2="1254.50" stroke="#000" stroke-width="1.8"/>
<line x1="420.91" y1="1301.98" x2="428.51" y2="1301.98" stroke="#000" stroke-width="1.8"/>
<line x1="424.71" y1="1435.20" x2="424.71" y2="1446.20" stroke="#000" stroke-width="2.2"/>
<text x="435.21" y="1461.20" text-anchor="end" class="t" transform="rotate(-45 435.21 1461.20)">B14</text>
<text x="425.71" y="1041.80" text-anchor="middle" class="st">*</text>
<circle cx="449.56" cy="1214.27" r="4.1" fill="#ff6600" stroke="#000" stroke-width="0.9"/>
<circle cx="455.76" cy="1216.91" r="4.1" fill="#ff6600" stroke="#000" stroke-width="0.9"/>
<circle cx="445.16" cy="1218.88" r="4.1" fill="#ff6600" stroke="#000" stroke-width="0.9"/>
<circle cx="449.56" cy="1270.98" r="4.1" fill="#ff6600" stroke="#000" stroke-width="0.9"/>
<circle cx="451.76" cy="1276.92" r="4.1" fill="#ff6600" stroke="#000" stroke-width="0.9"/>
<circle cx="447.36" cy="1282.20" r="4.1" fill="#ff6600" stroke="#000" stroke-width="0.9"/>
<circle cx="449.56" cy="1320.45" r="4.1" fill="#ff6600" stroke="#000" stroke-width="0.9"/>
<circle cx="451.76" cy="1326.38" r="4.1" fill="#ff6600" stroke="#000" stroke-width="0.9"/>
<circle cx="449.56" cy="1332.32" r="4.1" fill="#ff6600" stroke="#000" stroke-width="0.9"/>
<circle cx="449.56" cy="1345.51" r="4.1" fill="#ff6600" stroke="#000" stroke-width="0.9"/>
<rect x="442.76" y="1270.98" width="13.6" height="164.22" fill="none" stroke="#000" stroke-width="2.8"/>
<line x1="449.56" y1="1218.88" x2="449.56" y2="1322.43" stroke="#000" stroke-width="1.8"/>
<line x1="445.76" y1="1218.88" x2="453.36" y2="1218.88" stroke="#000" stroke-width="1.8"/>
<line x1="445.76" y1="1322.43" x2="453.36" y2="1322.43" stroke="#000" stroke-width="1.8"/>
<line x1="449.56" y1="1435.20" x2="449.56" y2="1446.20" stroke="#000" stroke-width="2.2"/>
<text x="460.06" y="1461.20" text-anchor="end" class="t" transform="rotate(-45 460.06 1461.20)">B16</text>
<text x="450.56" y="1041.80" text-anchor="middle" class="st">*</text>
<circle cx="474.41" cy="1179.97" r="4.1" fill="#ff6600" stroke="#000" stroke-width="0.9"/>
<circle cx="474.41" cy="1195.14" r="4.1" fill="#ff6600" stroke="#000" stroke-width="0.9"/>
<circle cx="474.41" cy="1219.54" r="4.1" fill="#ff6600" stroke="#000" stroke-width="0.9"/>
<circle cx="474.41" cy="1232.73" r="4.1" fill="#ff6600" stroke="#000" stroke-width="0.9"/>
<circle cx="474.41" cy="1239.99" r="4.1" fill="#ff6600" stroke="#000" stroke-width="0.9"/>
<circle cx="474.41" cy="1290.77" r="4.1" fill="#ff6600" stroke="#000" stroke-width="0.9"/>
<circle cx="476.61" cy="1296.70" r="4.1" fill="#ff6600" stroke="#000" stroke-width="0.9"/>
<circle cx="472.21" cy="1301.98" r="4.1" fill="#ff6600" stroke="#000" stroke-width="0.9"/>
<circle cx="476.61" cy="1306.60" r="4.1" fill="#ff6600" stroke="#000" stroke-width="0.9"/>
<circle cx="470.01" cy="1309.24" r="4.1" fill="#ff6600" stroke="#000" stroke-width="0.9"/>
<rect x="467.61" y="1269.01" width="13.6" height="166.19" fill="none" stroke="#000" stroke-width="2.8"/>
<line x1="474.41" y1="1220.20" x2="474.41" y2="1315.17" stroke="#000" stroke-width="1.8"/>
<line x1="470.61" y1="1220.20" x2="478.21" y2="1220.20" stroke="#000" stroke-width="1.8"/>
<line x1="470.61" y1="1315.17" x2="478.21" y2="1315.17" stroke="#000" stroke-width="1.8"/>
<line x1="474.41" y1="1435.20" x2="474.41" y2="1446.20" stroke="#000" stroke-width="2.2"/>
<text x="484.91" y="1461.20" text-anchor="end" class="t" transform="rotate(-45 484.91 1461.20)">B21</text>
<text x="475.41" y="1041.80" text-anchor="middle" class="st">*</text>
<circle cx="499.26" cy="1147.66" r="4.1" fill="#ff6600" stroke="#000" stroke-width="0.9"/>
<circle cx="499.26" cy="1213.61" r="4.1" fill="#ff6600" stroke="#000" stroke-width="0.9"/>
<circle cx="499.26" cy="1220.20" r="4.1" fill="#ff6600" stroke="#000" stroke-width="0.9"/>
<circle cx="499.26" cy="1235.37" r="4.1" fill="#ff6600" stroke="#000" stroke-width="0.9"/>
<circle cx="499.26" cy="1325.06" r="4.1" fill="#ff6600" stroke="#000" stroke-width="0.9"/>
<circle cx="505.46" cy="1329.02" r="4.1" fill="#ff6600" stroke="#000" stroke-width="0.9"/>
<circle cx="499.26" cy="1333.64" r="4.1" fill="#ff6600" stroke="#000" stroke-width="0.9"/>
<circle cx="499.26" cy="1347.49" r="4.1" fill="#ff6600" stroke="#000" stroke-width="0.9"/>
<circle cx="499.26" cy="1354.74" r="4.1" fill="#ff6600" stroke="#000" stroke-width="0.9"/>
<circle cx="499.26" cy="1371.23" r="4.1" fill="#ff6600" stroke="#000" stroke-width="0.9"/>
<rect x="492.46" y="1290.11" width="13.6" height="145.09" fill="none" stroke="#000" stroke-width="2.8"/>
<line x1="499.26" y1="1217.57" x2="499.26" y2="1359.36" stroke="#000" stroke-width="1.8"/>
<line x1="495.46" y1="1217.57" x2="503.06" y2="1217.57" stroke="#000" stroke-width="1.8"/>
<line x1="495.46" y1="1359.36" x2="503.06" y2="1359.36" stroke="#000" stroke-width="1.8"/>
<line x1="499.26" y1="1435.20" x2="499.26" y2="1446.20" stroke="#000" stroke-width="2.2"/>
<text x="509.76" y="1461.20" text-anchor="end" class="t" transform="rotate(-45 509.76 1461.20)">B34</text>
<text x="500.26" y="1041.80" text-anchor="middle" class="st">*</text>
<circle cx="524.11" cy="1080.39" r="4.1" fill="#ff6600" stroke="#000" stroke-width="0.9"/>
<circle cx="530.31" cy="1083.69" r="4.1" fill="#ff6600" stroke="#000" stroke-width="0.9"/>
<circle cx="524.11" cy="1115.34" r="4.1" fill="#ff6600" stroke="#000" stroke-width="0.9"/>
<circle cx="524.11" cy="1125.24" r="4.1" fill="#ff6600" stroke="#000" stroke-width="0.9"/>
<circle cx="524.11" cy="1170.74" r="4.1" fill="#ff6600" stroke="#000" stroke-width="0.9"/>
<circle cx="524.11" cy="1300.66" r="4.1" fill="#ff6600" stroke="#000" stroke-width="0.9"/>
<circle cx="526.31" cy="1306.60" r="4.1" fill="#ff6600" stroke="#000" stroke-width="0.9"/>
<circle cx="524.11" cy="1313.85" r="4.1" fill="#ff6600" stroke="#000" stroke-width="0.9"/>
<circle cx="524.11" cy="1320.45" r="4.1" fill="#ff6600" stroke="#000" stroke-width="0.9"/>
<circle cx="524.11" cy="1327.70" r="4.1" fill="#ff6600" stroke="#000" stroke-width="0.9"/>
<circle cx="524.11" cy="1335.62" r="4.1" fill="#ff6600" stroke="#000" stroke-width="0.9"/>
<circle cx="524.11" cy="1358.70" r="4.1" fill="#ff6600" stroke="#000" stroke-width="0.9"/>
<rect x="517.31" y="1245.26" width="13.6" height="189.94" fill="none" stroke="#000" stroke-width="2.8"/>
<line x1="524.11" y1="1135.13" x2="524.11" y2="1352.10" stroke="#000" stroke-width="1.8"/>
<line x1="520.31" y1="1135.13" x2="527.91" y2="1135.13" stroke="#000" stroke-width="1.8"/>
<line x1="520.31" y1="1352.10" x2="527.91" y2="1352.10" stroke="#000" stroke-width="1.8"/>
<line x1="524.11" y1="1435.20" x2="524.11" y2="1446.20" stroke="#000" stroke-width="2.2"/>
<text x="534.61" y="1461.20" text-anchor="end" class="t" transform="rotate(-45 534.61 1461.20)">B35</text>
<text x="525.11" y="1041.80" text-anchor="middle" class="st">*</text>
<circle cx="548.95" cy="1326.38" r="4.1" fill="#ff6600" stroke="#000" stroke-width="0.9"/>
<circle cx="551.15" cy="1332.32" r="4.1" fill="#ff6600" stroke="#000" stroke-width="0.9"/>
<circle cx="544.55" cy="1336.28" r="4.1" fill="#ff6600" stroke="#000" stroke-width="0.9"/>
<circle cx="548.95" cy="1356.06" r="4.1" fill="#ff6600" stroke="#000" stroke-width="0.9"/>
<circle cx="551.15" cy="1362.00" r="4.1" fill="#ff6600" stroke="#000" stroke-width="0.9"/>
<circle cx="544.55" cy="1365.95" r="4.1" fill="#ff6600" stroke="#000" stroke-width="0.9"/>
<circle cx="548.95" cy="1370.57" r="4.1" fill="#ff6600" stroke="#000" stroke-width="0.9"/>
<rect x="542.15" y="1343.53" width="13.6" height="91.67" fill="none" stroke="#000" stroke-width="2.8"/>
<line x1="548.95" y1="1327.70" x2="548.95" y2="1357.38" stroke="#000" stroke-width="1.8"/>
<line x1="545.15" y1="1327.70" x2="552.75" y2="1327.70" stroke="#000" stroke-width="1.8"/>
<line x1="545.15" y1="1357.38" x2="552.75" y2="1357.38" stroke="#000" stroke-width="1.8"/>
<line x1="548.95" y1="1435.20" x2="548.95" y2="1446.20" stroke="#000" stroke-width="2.2"/>
<text x="559.45" y="1461.20" text-anchor="end" class="t" transform="rotate(-45 559.45 1461.20)">B50</text>
<circle cx="590.44" cy="1238.67" r="4.1" fill="#c8c800" stroke="#000" stroke-width="0.9"/>
<circle cx="590.44" cy="1249.88" r="4.1" fill="#c8c800" stroke="#000" stroke-width="0.9"/>
<circle cx="590.44" cy="1262.41" r="4.1" fill="#c8c800" stroke="#000" stroke-width="0.9"/>
<circle cx="590.44" cy="1325.06" r="4.1" fill="#c8c800" stroke="#000" stroke-width="0.9"/>
<circle cx="590.44" cy="1334.96" r="4.1" fill="#c8c800" stroke="#000" stroke-width="0.9"/>
<circle cx="594.84" cy="1339.57" r="4.1" fill="#c8c800" stroke="#000" stroke-width="0.9"/>
<circle cx="588.24" cy="1342.87" r="4.1" fill="#c8c800" stroke="#000" stroke-width="0.9"/>
<circle cx="596.64" cy="1345.51" r="4.1" fill="#c8c800" stroke="#000" stroke-width="0.9"/>
<circle cx="590.44" cy="1367.27" r="4.1" fill="#c8c800" stroke="#000" stroke-width="0.9"/>
<rect x="583.64" y="1312.53" width="13.6" height="122.67" fill="none" stroke="#000" stroke-width="2.8"/>
<line x1="590.44" y1="1263.73" x2="590.44" y2="1356.06" stroke="#000" stroke-width="1.8"/>
<line x1="586.64" y1="1263.73" x2="594.24" y2="1263.73" stroke="#000" stroke-width="1.8"/>
<line x1="586.64" y1="1356.06" x2="594.24" y2="1356.06" stroke="#000" stroke-width="1.8"/>
<line x1="590.44" y1="1435.20" x2="590.44" y2="1446.20" stroke="#000" stroke-width="2.2"/>
<text x="600.94" y="1461.20" text-anchor="end" class="t" transform="rotate(-45 600.94 1461.20)">C1</text>
<text x="591.44" y="1041.80" text-anchor="middle" class="st">*</text>
<circle cx="615.28" cy="1332.32" r="4.1" fill="#c8c800" stroke="#000" stroke-width="0.9"/>
<circle cx="619.68" cy="1337.59" r="4.1" fill="#c8c800" stroke="#000" stroke-width="0.9"/>
<circle cx="615.28" cy="1363.97" r="4.1" fill="#c8c800" stroke="#000" stroke-width="0.9"/>
<circle cx="621.48" cy="1367.93" r="4.1" fill="#c8c800" stroke="#000" stroke-width="0.9"/>
<circle cx="615.28" cy="1371.23" r="4.1" fill="#c8c800" stroke="#000" stroke-width="0.9"/>
<circle cx="621.48" cy="1374.53" r="4.1" fill="#c8c800" stroke="#000" stroke-width="0.9"/>
<rect x="608.48" y="1356.72" width="13.6" height="78.48" fill="none" stroke="#000" stroke-width="2.8"/>
<line x1="615.28" y1="1336.28" x2="615.28" y2="1374.53" stroke="#000" stroke-width="1.8"/>
<line x1="611.48" y1="1336.28" x2="619.08" y2="1336.28" stroke="#000" stroke-width="1.8"/>
<line x1="611.48" y1="1374.53" x2="619.08" y2="1374.53" stroke="#000" stroke-width="1.8"/>
<line x1="615.28" y1="1435.20" x2="615.28" y2="1446.20" stroke="#000" stroke-width="2.2"/>
<text x="625.78" y="1461.20" text-anchor="end" class="t" transform="rotate(-45 625.78 1461.20)">C2</text>
<circle cx="640.13" cy="1252.52" r="4.1" fill="#c8c800" stroke="#000" stroke-width="0.9"/>
<circle cx="640.13" cy="1268.35" r="4.1" fill="#c8c800" stroke="#000" stroke-width="0.9"/>
<circle cx="640.13" cy="1274.94" r="4.1" fill="#c8c800" stroke="#000" stroke-width="0.9"/>
<circle cx="644.53" cy="1280.22" r="4.1" fill="#c8c800" stroke="#000" stroke-width="0.9"/>
<circle cx="640.13" cy="1286.81" r="4.1" fill="#c8c800" stroke="#000" stroke-width="0.9"/>
<circle cx="640.13" cy="1293.41" r="4.1" fill="#c8c800" stroke="#000" stroke-width="0.9"/>
<circle cx="640.13" cy="1300.00" r="4.1" fill="#c8c800" stroke="#000" stroke-width="0.9"/>
<circle cx="646.33" cy="1302.64" r="4.1" fill="#c8c800" stroke="#000" stroke-width="0.9"/>
<circle cx="640.13" cy="1316.49" r="4.1" fill="#c8c800" stroke="#000" stroke-width="0.9"/>
<circle cx="644.53" cy="1321.77" r="4.1" fill="#c8c800" stroke="#000" stroke-width="0.9"/>
<circle cx="637.93" cy="1325.06" r="4.1" fill="#c8c800" stroke="#000" stroke-width="0.9"/>
<circle cx="640.13" cy="1348.15" r="4.1" fill="#c8c800" stroke="#000" stroke-width="0.9"/>
<circle cx="640.13" cy="1354.74" r="4.1" fill="#c8c800" stroke="#000" stroke-width="0.9"/>
<circle cx="644.53" cy="1359.36" r="4.1" fill="#c8c800" stroke="#000" stroke-width="0.9"/>
<rect x="633.33" y="1306.60" width="13.6" height="128.60" fill="none" stroke="#000" stroke-width="2.8"/>
<line x1="640.13" y1="1276.92" x2="640.13" y2="1333.64" stroke="#000" stroke-width="1.8"/>
<line x1="636.33" y1="1276.92" x2="643.93" y2="1276.92" stroke="#000" stroke-width="1.8"/>
<line x1="636.33" y1="1333.64" x2="643.93" y2="1333.64" stroke="#000" stroke-width="1.8"/>
<line x1="640.13" y1="1435.20" x2="640.13" y2="1446.20" stroke="#000" stroke-width="2.2"/>
<text x="650.63" y="1461.20" text-anchor="end" class="t" transform="rotate(-45 650.63 1461.20)">C5</text>
<text x="641.13" y="1041.80" text-anchor="middle" class="st">*</text>
<circle cx="664.98" cy="1333.64" r="4.1" fill="#c8c800" stroke="#000" stroke-width="0.9"/>
<circle cx="671.18" cy="1336.28" r="4.1" fill="#c8c800" stroke="#000" stroke-width="0.9"/>
<circle cx="664.98" cy="1342.21" r="4.1" fill="#c8c800" stroke="#000" stroke-width="0.9"/>
<circle cx="664.98" cy="1356.06" r="4.1" fill="#c8c800" stroke="#000" stroke-width="0.9"/>
<circle cx="671.18" cy="1359.36" r="4.1" fill="#c8c800" stroke="#000" stroke-width="0.9"/>
<circle cx="664.98" cy="1362.65" r="4.1" fill="#c8c800" stroke="#000" stroke-width="0.9"/>
<circle cx="658.78" cy="1364.63" r="4.1" fill="#c8c800" stroke="#000" stroke-width="0.9"/>
<rect x="658.18" y="1350.12" width="13.6" height="85.08" fill="none" stroke="#000" stroke-width="2.8"/>
<line x1="664.98" y1="1337.59" x2="664.98" y2="1360.02" stroke="#000" stroke-width="1.8"/>
<line x1="661.18" y1="1337.59" x2="668.78" y2="1337.59" stroke="#000" stroke-width="1.8"/>
<line x1="661.18" y1="1360.02" x2="668.78" y2="1360.02" stroke="#000" stroke-width="1.8"/>
<line x1="664.98" y1="1435.20" x2="664.98" y2="1446.20" stroke="#000" stroke-width="2.2"/>
<text x="675.48" y="1461.20" text-anchor="end" class="t" transform="rotate(-45 675.48 1461.20)">C6</text>
<circle cx="706.46" cy="1247.90" r="4.1" fill="#0a88a3" stroke="#000" stroke-width="0.9"/>
<circle cx="712.66" cy="1250.54" r="4.1" fill="#0a88a3" stroke="#000" stroke-width="0.9"/>
<circle cx="706.46" cy="1266.37" r="4.1" fill="#0a88a3" stroke="#000" stroke-width="0.9"/>
<circle cx="706.46" cy="1273.62" r="4.1" fill="#0a88a3" stroke="#000" stroke-width="0.9"/>
<circle cx="710.86" cy="1278.24" r="4.1" fill="#0a88a3" stroke="#000" stroke-width="0.9"/>
<circle cx="706.46" cy="1283.52" r="4.1" fill="#0a88a3" stroke="#000" stroke-width="0.9"/>
<circle cx="706.46" cy="1348.81" r="4.1" fill="#0a88a3" stroke="#000" stroke-width="0.9"/>
<circle cx="712.66" cy="1351.44" r="4.1" fill="#0a88a3" stroke="#000" stroke-width="0.9"/>
<circle cx="706.46" cy="1365.29" r="4.1" fill="#0a88a3" stroke="#000" stroke-width="0.9"/>
<rect x="699.66" y="1294.07" width="13.6" height="141.13" fill="none" stroke="#000" stroke-width="2.8"/>
<line x1="706.46" y1="1251.20" x2="706.46" y2="1333.64" stroke="#000" stroke-width="1.8"/>
<line x1="702.66" y1="1251.20" x2="710.26" y2="1251.20" stroke="#000" stroke-width="1.8"/>
<line x1="702.66" y1="1333.64" x2="710.26" y2="1333.64" stroke="#000" stroke-width="1.8"/>
<line x1="706.46" y1="1435.20" x2="706.46" y2="1446.20" stroke="#000" stroke-width="2.2"/>
<text x="716.96" y="1461.20" text-anchor="end" class="t" transform="rotate(-45 716.96 1461.20)">D8</text>
<text x="707.46" y="1041.80" text-anchor="middle" class="st">*</text>
<circle cx="731.31" cy="1241.97" r="4.1" fill="#0a88a3" stroke="#000" stroke-width="0.9"/>
<circle cx="731.31" cy="1253.18" r="4.1" fill="#0a88a3" stroke="#000" stroke-width="0.9"/>
<circle cx="737.51" cy="1257.13" r="4.1" fill="#0a88a3" stroke="#000" stroke-width="0.9"/>
<circle cx="731.31" cy="1305.28" r="4.1" fill="#0a88a3" stroke="#000" stroke-width="0.9"/>
<circle cx="735.71" cy="1309.89" r="4.1" fill="#0a88a3" stroke="#000" stroke-width="0.9"/>
<circle cx="731.31" cy="1315.17" r="4.1" fill="#0a88a3" stroke="#000" stroke-width="0.9"/>
<circle cx="735.71" cy="1319.79" r="4.1" fill="#0a88a3" stroke="#000" stroke-width="0.9"/>
<circle cx="731.31" cy="1325.06" r="4.1" fill="#0a88a3" stroke="#000" stroke-width="0.9"/>
<rect x="724.51" y="1294.73" width="13.6" height="140.47" fill="none" stroke="#000" stroke-width="2.8"/>
<line x1="731.31" y1="1259.11" x2="731.31" y2="1321.77" stroke="#000" stroke-width="1.8"/>
<line x1="727.51" y1="1259.11" x2="735.11" y2="1259.11" stroke="#000" stroke-width="1.8"/>
<line x1="727.51" y1="1321.77" x2="735.11" y2="1321.77" stroke="#000" stroke-width="1.8"/>
<line x1="731.31" y1="1435.20" x2="731.31" y2="1446.20" stroke="#000" stroke-width="2.2"/>
<text x="741.81" y="1461.20" text-anchor="end" class="t" transform="rotate(-45 741.81 1461.20)">D9</text>
<text x="732.31" y="1041.80" text-anchor="middle" class="st">*</text>
<circle cx="756.16" cy="1232.73" r="4.1" fill="#0a88a3" stroke="#000" stroke-width="0.9"/>
<circle cx="762.36" cy="1236.69" r="4.1" fill="#0a88a3" stroke="#000" stroke-width="0.9"/>
<circle cx="756.16" cy="1247.90" r="4.1" fill="#0a88a3" stroke="#000" stroke-width="0.9"/>
<circle cx="760.56" cy="1253.18" r="4.1" fill="#0a88a3" stroke="#000" stroke-width="0.9"/>
<circle cx="756.16" cy="1259.11" r="4.1" fill="#0a88a3" stroke="#000" stroke-width="0.9"/>
<circle cx="756.16" cy="1280.88" r="4.1" fill="#0a88a3" stroke="#000" stroke-width="0.9"/>
<circle cx="756.16" cy="1295.39" r="4.1" fill="#0a88a3" stroke="#000" stroke-width="0.9"/>
<circle cx="756.16" cy="1342.21" r="4.1" fill="#0a88a3" stroke="#000" stroke-width="0.9"/>
<circle cx="756.16" cy="1349.47" r="4.1" fill="#0a88a3" stroke="#000" stroke-width="0.9"/>
<circle cx="760.56" cy="1354.74" r="4.1" fill="#0a88a3" stroke="#000" stroke-width="0.9"/>
<circle cx="756.16" cy="1359.36" r="4.1" fill="#0a88a3" stroke="#000" stroke-width="0.9"/>
<rect x="749.36" y="1294.07" width="13.6" height="141.13" fill="none" stroke="#000" stroke-width="2.8"/>
<line x1="756.16" y1="1244.60" x2="756.16" y2="1340.89" stroke="#000" stroke-width="1.8"/>
<line x1="752.36" y1="1244.60" x2="759.96" y2="1244.60" stroke="#000" stroke-width="1.8"/>
<line x1="752.36" y1="1340.89" x2="759.96" y2="1340.89" stroke="#000" stroke-width="1.8"/>
<line x1="756.16" y1="1435.20" x2="756.16" y2="1446.20" stroke="#000" stroke-width="2.2"/>
<text x="766.66" y="1461.20" text-anchor="end" class="t" transform="rotate(-45 766.66 1461.20)">D10</text>
<text x="757.16" y="1041.80" text-anchor="middle" class="st">*</text>
<circle cx="781.01" cy="1247.90" r="4.1" fill="#0a88a3" stroke="#000" stroke-width="0.9"/>
<circle cx="787.21" cy="1251.86" r="4.1" fill="#0a88a3" stroke="#000" stroke-width="0.9"/>
<circle cx="781.01" cy="1266.37" r="4.1" fill="#0a88a3" stroke="#000" stroke-width="0.9"/>
<circle cx="781.01" cy="1273.62" r="4.1" fill="#0a88a3" stroke="#000" stroke-width="0.9"/>
<circle cx="781.01" cy="1280.22" r="4.1" fill="#0a88a3" stroke="#000" stroke-width="0.9"/>
<circle cx="781.01" cy="1286.81" r="4.1" fill="#0a88a3" stroke="#000" stroke-width="0.9"/>
<circle cx="781.01" cy="1294.07" r="4.1" fill="#0a88a3" stroke="#000" stroke-width="0.9"/>
<circle cx="781.01" cy="1301.32" r="4.1" fill="#0a88a3" stroke="#000" stroke-width="0.9"/>
<circle cx="781.01" cy="1323.74" r="4.1" fill="#0a88a3" stroke="#000" stroke-width="0.9"/>
<circle cx="781.01" cy="1356.06" r="4.1" fill="#0a88a3" stroke="#000" stroke-width="0.9"/>
<circle cx="785.41" cy="1361.34" r="4.1" fill="#0a88a3" stroke="#000" stroke-width="0.9"/>
<circle cx="778.81" cy="1364.63" r="4.1" fill="#0a88a3" stroke="#000" stroke-width="0.9"/>
<rect x="774.21" y="1304.62" width="13.6" height="130.58" fill="none" stroke="#000" stroke-width="2.8"/>
<line x1="781.01" y1="1261.09" x2="781.01" y2="1344.85" stroke="#000" stroke-width="1.8"/>
<line x1="777.21" y1="1261.09" x2="784.81" y2="1261.09" stroke="#000" stroke-width="1.8"/>
<line x1="777.21" y1="1344.85" x2="784.81" y2="1344.85" stroke="#000" stroke-width="1.8"/>
<line x1="781.01" y1="1435.20" x2="781.01" y2="1446.20" stroke="#000" stroke-width="2.2"/>
<text x="791.51" y="1461.20" text-anchor="end" class="t" transform="rotate(-45 791.51 1461.20)">D13</text>
<text x="782.01" y="1041.80" text-anchor="middle" class="st">*</text>
<circle cx="805.85" cy="1199.76" r="4.1" fill="#0a88a3" stroke="#000" stroke-width="0.9"/>
<circle cx="812.05" cy="1201.74" r="4.1" fill="#0a88a3" stroke="#000" stroke-width="0.9"/>
<circle cx="805.85" cy="1208.99" r="4.1" fill="#0a88a3" stroke="#000" stroke-width="0.9"/>
<circle cx="810.25" cy="1214.27" r="4.1" fill="#0a88a3" stroke="#000" stroke-width="0.9"/>
<circle cx="805.85" cy="1250.54" r="4.1" fill="#0a88a3" stroke="#000" stroke-width="0.9"/>
<circle cx="805.85" cy="1274.94" r="4.1" fill="#0a88a3" stroke="#000" stroke-width="0.9"/>
<circle cx="805.85" cy="1286.15" r="4.1" fill="#0a88a3" stroke="#000" stroke-width="0.9"/>
<circle cx="805.85" cy="1293.41" r="4.1" fill="#0a88a3" stroke="#000" stroke-width="0.9"/>
<circle cx="808.05" cy="1299.34" r="4.1" fill="#0a88a3" stroke="#000" stroke-width="0.9"/>
<circle cx="805.85" cy="1310.55" r="4.1" fill="#0a88a3" stroke="#000" stroke-width="0.9"/>
<rect x="799.05" y="1256.48" width="13.6" height="178.72" fill="none" stroke="#000" stroke-width="2.8"/>
<line x1="805.85" y1="1211.63" x2="805.85" y2="1299.34" stroke="#000" stroke-width="1.8"/>
<line x1="802.05" y1="1211.63" x2="809.65" y2="1211.63" stroke="#000" stroke-width="1.8"/>
<line x1="802.05" y1="1299.34" x2="809.65" y2="1299.34" stroke="#000" stroke-width="1.8"/>
<line x1="805.85" y1="1435.20" x2="805.85" y2="1446.20" stroke="#000" stroke-width="2.2"/>
<text x="816.35" y="1461.20" text-anchor="end" class="t" transform="rotate(-45 816.35 1461.20)">D17</text>
<text x="806.85" y="1041.80" text-anchor="middle" class="st">*</text>
<circle cx="830.70" cy="1228.12" r="4.1" fill="#0a88a3" stroke="#000" stroke-width="0.9"/>
<circle cx="836.90" cy="1229.44" r="4.1" fill="#0a88a3" stroke="#000" stroke-width="0.9"/>
<circle cx="830.70" cy="1239.33" r="4.1" fill="#0a88a3" stroke="#000" stroke-width="0.9"/>
<circle cx="830.70" cy="1248.56" r="4.1" fill="#0a88a3" stroke="#000" stroke-width="0.9"/>
<circle cx="835.10" cy="1253.18" r="4.1" fill="#0a88a3" stroke="#000" stroke-width="0.9"/>
<circle cx="830.70" cy="1285.49" r="4.1" fill="#0a88a3" stroke="#000" stroke-width="0.9"/>
<circle cx="832.90" cy="1291.43" r="4.1" fill="#0a88a3" stroke="#000" stroke-width="0.9"/>
<circle cx="828.50" cy="1296.70" r="4.1" fill="#0a88a3" stroke="#000" stroke-width="0.9"/>
<circle cx="830.70" cy="1306.60" r="4.1" fill="#0a88a3" stroke="#000" stroke-width="0.9"/>
<circle cx="830.70" cy="1316.49" r="4.1" fill="#0a88a3" stroke="#000" stroke-width="0.9"/>
<circle cx="830.70" cy="1329.68" r="4.1" fill="#0a88a3" stroke="#000" stroke-width="0.9"/>
<rect x="823.90" y="1282.86" width="13.6" height="152.34" fill="none" stroke="#000" stroke-width="2.8"/>
<line x1="830.70" y1="1244.60" x2="830.70" y2="1317.81" stroke="#000" stroke-width="1.8"/>
<line x1="826.90" y1="1244.60" x2="834.50" y2="1244.60" stroke="#000" stroke-width="1.8"/>
<line x1="826.90" y1="1317.81" x2="834.50" y2="1317.81" stroke="#000" stroke-width="1.8"/>
<line x1="830.70" y1="1435.20" x2="830.70" y2="1446.20" stroke="#000" stroke-width="2.2"/>
<text x="841.20" y="1461.20" text-anchor="end" class="t" transform="rotate(-45 841.20 1461.20)">D20</text>
<text x="831.70" y="1041.80" text-anchor="middle" class="st">*</text>
<circle cx="855.55" cy="1257.79" r="4.1" fill="#0a88a3" stroke="#000" stroke-width="0.9"/>
<circle cx="855.55" cy="1268.35" r="4.1" fill="#0a88a3" stroke="#000" stroke-width="0.9"/>
<circle cx="855.55" cy="1275.60" r="4.1" fill="#0a88a3" stroke="#000" stroke-width="0.9"/>
<circle cx="855.55" cy="1287.47" r="4.1" fill="#0a88a3" stroke="#000" stroke-width="0.9"/>
<circle cx="855.55" cy="1296.70" r="4.1" fill="#0a88a3" stroke="#000" stroke-width="0.9"/>
<circle cx="855.55" cy="1305.28" r="4.1" fill="#0a88a3" stroke="#000" stroke-width="0.9"/>
<circle cx="855.55" cy="1322.43" r="4.1" fill="#0a88a3" stroke="#000" stroke-width="0.9"/>
<circle cx="855.55" cy="1329.68" r="4.1" fill="#0a88a3" stroke="#000" stroke-width="0.9"/>
<circle cx="855.55" cy="1338.91" r="4.1" fill="#0a88a3" stroke="#000" stroke-width="0.9"/>
<circle cx="855.55" cy="1381.12" r="4.1" fill="#0a88a3" stroke="#000" stroke-width="0.9"/>
<circle cx="861.75" cy="1385.08" r="4.1" fill="#0a88a3" stroke="#000" stroke-width="0.9"/>
<circle cx="855.55" cy="1388.38" r="4.1" fill="#0a88a3" stroke="#000" stroke-width="0.9"/>
<rect x="848.75" y="1324.40" width="13.6" height="110.80" fill="none" stroke="#000" stroke-width="2.8"/>
<line x1="855.55" y1="1281.54" x2="855.55" y2="1365.29" stroke="#000" stroke-width="1.8"/>
<line x1="851.75" y1="1281.54" x2="859.35" y2="1281.54" stroke="#000" stroke-width="1.8"/>
<line x1="851.75" y1="1365.29" x2="859.35" y2="1365.29" stroke="#000" stroke-width="1.8"/>
<line x1="855.55" y1="1435.20" x2="855.55" y2="1446.20" stroke="#000" stroke-width="2.2"/>
<text x="866.05" y="1461.20" text-anchor="end" class="t" transform="rotate(-45 866.05 1461.20)">D24</text>
<text x="856.55" y="1041.80" text-anchor="middle" class="st">*</text>
<circle cx="880.40" cy="1170.74" r="4.1" fill="#0a88a3" stroke="#000" stroke-width="0.9"/>
<circle cx="882.60" cy="1176.68" r="4.1" fill="#0a88a3" stroke="#000" stroke-width="0.9"/>
<circle cx="880.40" cy="1187.89" r="4.1" fill="#0a88a3" stroke="#000" stroke-width="0.9"/>
<circle cx="886.60" cy="1191.84" r="4.1" fill="#0a88a3" stroke="#000" stroke-width="0.9"/>
<circle cx="880.40" cy="1272.30" r="4.1" fill="#0a88a3" stroke="#000" stroke-width="0.9"/>
<circle cx="880.40" cy="1283.52" r="4.1" fill="#0a88a3" stroke="#000" stroke-width="0.9"/>
<circle cx="880.40" cy="1290.77" r="4.1" fill="#0a88a3" stroke="#000" stroke-width="0.9"/>
<circle cx="880.40" cy="1330.34" r="4.1" fill="#0a88a3" stroke="#000" stroke-width="0.9"/>
<circle cx="880.40" cy="1340.89" r="4.1" fill="#0a88a3" stroke="#000" stroke-width="0.9"/>
<circle cx="884.80" cy="1345.51" r="4.1" fill="#0a88a3" stroke="#000" stroke-width="0.9"/>
<circle cx="880.40" cy="1356.06" r="4.1" fill="#0a88a3" stroke="#000" stroke-width="0.9"/>
<circle cx="880.40" cy="1362.65" r="4.1" fill="#0a88a3" stroke="#000" stroke-width="0.9"/>
<rect x="873.60" y="1270.33" width="13.6" height="164.88" fill="none" stroke="#000" stroke-width="2.8"/>
<line x1="880.40" y1="1195.80" x2="880.40" y2="1342.21" stroke="#000" stroke-width="1.8"/>
<line x1="876.60" y1="1195.80" x2="884.20" y2="1195.80" stroke="#000" stroke-width="1.8"/>
<line x1="876.60" y1="1342.21" x2="884.20" y2="1342.21" stroke="#000" stroke-width="1.8"/>
<line x1="880.40" y1="1435.20" x2="880.40" y2="1446.20" stroke="#000" stroke-width="2.2"/>
<text x="890.90" y="1461.20" text-anchor="end" class="t" transform="rotate(-45 890.90 1461.20)">D25</text>
<text x="881.40" y="1041.80" text-anchor="middle" class="st">*</text>
<circle cx="905.25" cy="1162.83" r="4.1" fill="#0a88a3" stroke="#000" stroke-width="0.9"/>
<circle cx="911.45" cy="1165.46" r="4.1" fill="#0a88a3" stroke="#000" stroke-width="0.9"/>
<circle cx="905.25" cy="1181.29" r="4.1" fill="#0a88a3" stroke="#000" stroke-width="0.9"/>
<circle cx="911.45" cy="1182.61" r="4.1" fill="#0a88a3" stroke="#000" stroke-width="0.9"/>
<circle cx="905.25" cy="1217.57" r="4.1" fill="#0a88a3" stroke="#000" stroke-width="0.9"/>
<circle cx="905.25" cy="1306.60" r="4.1" fill="#0a88a3" stroke="#000" stroke-width="0.9"/>
<circle cx="909.65" cy="1311.87" r="4.1" fill="#0a88a3" stroke="#000" stroke-width="0.9"/>
<circle cx="905.25" cy="1329.02" r="4.1" fill="#0a88a3" stroke="#000" stroke-width="0.9"/>
<circle cx="905.25" cy="1342.21" r="4.1" fill="#0a88a3" stroke="#000" stroke-width="0.9"/>
<circle cx="905.25" cy="1348.81" r="4.1" fill="#0a88a3" stroke="#000" stroke-width="0.9"/>
<circle cx="905.25" cy="1377.82" r="4.1" fill="#0a88a3" stroke="#000" stroke-width="0.9"/>
<rect x="898.45" y="1280.22" width="13.6" height="154.98" fill="none" stroke="#000" stroke-width="2.8"/>
<line x1="905.25" y1="1201.08" x2="905.25" y2="1356.06" stroke="#000" stroke-width="1.8"/>
<line x1="901.45" y1="1201.08" x2="909.05" y2="1201.08" stroke="#000" stroke-width="1.8"/>
<line x1="901.45" y1="1356.06" x2="909.05" y2="1356.06" stroke="#000" stroke-width="1.8"/>
<line x1="905.25" y1="1435.20" x2="905.25" y2="1446.20" stroke="#000" stroke-width="2.2"/>
<text x="915.75" y="1461.20" text-anchor="end" class="t" transform="rotate(-45 915.75 1461.20)">D26</text>
<text x="906.25" y="1041.80" text-anchor="middle" class="st">*</text>
<circle cx="930.09" cy="1164.81" r="4.1" fill="#0a88a3" stroke="#000" stroke-width="0.9"/>
<circle cx="936.29" cy="1168.10" r="4.1" fill="#0a88a3" stroke="#000" stroke-width="0.9"/>
<circle cx="930.09" cy="1180.63" r="4.1" fill="#0a88a3" stroke="#000" stroke-width="0.9"/>
<circle cx="936.29" cy="1181.95" r="4.1" fill="#0a88a3" stroke="#000" stroke-width="0.9"/>
<circle cx="930.09" cy="1226.14" r="4.1" fill="#0a88a3" stroke="#000" stroke-width="0.9"/>
<circle cx="930.09" cy="1287.47" r="4.1" fill="#0a88a3" stroke="#000" stroke-width="0.9"/>
<circle cx="932.29" cy="1293.41" r="4.1" fill="#0a88a3" stroke="#000" stroke-width="0.9"/>
<circle cx="930.09" cy="1313.19" r="4.1" fill="#0a88a3" stroke="#000" stroke-width="0.9"/>
<circle cx="930.09" cy="1323.74" r="4.1" fill="#0a88a3" stroke="#000" stroke-width="0.9"/>
<circle cx="930.09" cy="1346.83" r="4.1" fill="#0a88a3" stroke="#000" stroke-width="0.9"/>
<circle cx="930.09" cy="1369.25" r="4.1" fill="#0a88a3" stroke="#000" stroke-width="0.9"/>
<circle cx="930.09" cy="1389.69" r="4.1" fill="#0a88a3" stroke="#000" stroke-width="0.9"/>
<rect x="923.29" y="1269.01" width="13.6" height="166.19" fill="none" stroke="#000" stroke-width="2.8"/>
<line x1="930.09" y1="1189.21" x2="930.09" y2="1346.17" stroke="#000" stroke-width="1.8"/>
<line x1="926.29" y1="1189.21" x2="933.89" y2="1189.21" stroke="#000" stroke-width="1.8"/>
<line x1="926.29" y1="1346.17" x2="933.89" y2="1346.17" stroke="#000" stroke-width="1.8"/>
<line x1="930.09" y1="1435.20" x2="930.09" y2="1446.20" stroke="#000" stroke-width="2.2"/>
<text x="940.59" y="1461.20" text-anchor="end" class="t" transform="rotate(-45 940.59 1461.20)">D27</text>
<text x="931.09" y="1041.80" text-anchor="middle" class="st">*</text>
<circle cx="954.94" cy="1217.57" r="4.1" fill="#0a88a3" stroke="#000" stroke-width="0.9"/>
<circle cx="961.14" cy="1218.88" r="4.1" fill="#0a88a3" stroke="#000" stroke-width="0.9"/>
<circle cx="954.94" cy="1247.90" r="4.1" fill="#0a88a3" stroke="#000" stroke-width="0.9"/>
<circle cx="954.94" cy="1260.43" r="4.1" fill="#0a88a3" stroke="#000" stroke-width="0.9"/>
<circle cx="954.94" cy="1321.77" r="4.1" fill="#0a88a3" stroke="#000" stroke-width="0.9"/>
<circle cx="954.94" cy="1329.68" r="4.1" fill="#0a88a3" stroke="#000" stroke-width="0.9"/>
<circle cx="961.14" cy="1333.64" r="4.1" fill="#0a88a3" stroke="#000" stroke-width="0.9"/>
<circle cx="954.94" cy="1340.89" r="4.1" fill="#0a88a3" stroke="#000" stroke-width="0.9"/>
<circle cx="954.94" cy="1348.15" r="4.1" fill="#0a88a3" stroke="#000" stroke-width="0.9"/>
<circle cx="954.94" cy="1367.27" r="4.1" fill="#0a88a3" stroke="#000" stroke-width="0.9"/>
<rect x="948.14" y="1303.96" width="13.6" height="131.24" fill="none" stroke="#000" stroke-width="2.8"/>
<line x1="954.94" y1="1248.56" x2="954.94" y2="1356.72" stroke="#000" stroke-width="1.8"/>
<line x1="951.14" y1="1248.56" x2="958.74" y2="1248.56" stroke="#000" stroke-width="1.8"/>
<line x1="951.14" y1="1356.72" x2="958.74" y2="1356.72" stroke="#000" stroke-width="1.8"/>
<line x1="954.94" y1="1435.20" x2="954.94" y2="1446.20" stroke="#000" stroke-width="2.2"/>
<text x="965.44" y="1461.20" text-anchor="end" class="t" transform="rotate(-45 965.44 1461.20)">D33</text>
<text x="955.94" y="1041.80" text-anchor="middle" class="st">*</text>
<circle cx="979.79" cy="1263.73" r="4.1" fill="#0a88a3" stroke="#000" stroke-width="0.9"/>
<circle cx="979.79" cy="1275.60" r="4.1" fill="#0a88a3" stroke="#000" stroke-width="0.9"/>
<circle cx="979.79" cy="1286.15" r="4.1" fill="#0a88a3" stroke="#000" stroke-width="0.9"/>
<circle cx="979.79" cy="1295.39" r="4.1" fill="#0a88a3" stroke="#000" stroke-width="0.9"/>
<circle cx="979.79" cy="1329.02" r="4.1" fill="#0a88a3" stroke="#000" stroke-width="0.9"/>
<circle cx="979.79" cy="1336.28" r="4.1" fill="#0a88a3" stroke="#000" stroke-width="0.9"/>
<circle cx="979.79" cy="1342.87" r="4.1" fill="#0a88a3" stroke="#000" stroke-width="0.9"/>
<circle cx="979.79" cy="1349.47" r="4.1" fill="#0a88a3" stroke="#000" stroke-width="0.9"/>
<circle cx="984.19" cy="1354.74" r="4.1" fill="#0a88a3" stroke="#000" stroke-width="0.9"/>
<circle cx="979.79" cy="1365.29" r="4.1" fill="#0a88a3" stroke="#000" stroke-width="0.9"/>
<circle cx="979.79" cy="1376.50" r="4.1" fill="#0a88a3" stroke="#000" stroke-width="0.9"/>
<rect x="972.99" y="1327.70" width="13.6" height="107.50" fill="none" stroke="#000" stroke-width="2.8"/>
<line x1="979.79" y1="1290.11" x2="979.79" y2="1362.00" stroke="#000" stroke-width="1.8"/>
<line x1="975.99" y1="1290.11" x2="983.59" y2="1290.11" stroke="#000" stroke-width="1.8"/>
<line x1="975.99" y1="1362.00" x2="983.59" y2="1362.00" stroke="#000" stroke-width="1.8"/>
<line x1="979.79" y1="1435.20" x2="979.79" y2="1446.20" stroke="#000" stroke-width="2.2"/>
<text x="990.29" y="1461.20" text-anchor="end" class="t" transform="rotate(-45 990.29 1461.20)">D37</text>
<circle cx="1004.64" cy="1215.59" r="4.1" fill="#0a88a3" stroke="#000" stroke-width="0.9"/>
<circle cx="1004.64" cy="1228.12" r="4.1" fill="#0a88a3" stroke="#000" stroke-width="0.9"/>
<circle cx="1006.84" cy="1234.05" r="4.1" fill="#0a88a3" stroke="#000" stroke-width="0.9"/>
<circle cx="1002.44" cy="1239.33" r="4.1" fill="#0a88a3" stroke="#000" stroke-width="0.9"/>
<circle cx="1004.64" cy="1245.26" r="4.1" fill="#0a88a3" stroke="#000" stroke-width="0.9"/>
<circle cx="1004.64" cy="1316.49" r="4.1" fill="#0a88a3" stroke="#000" stroke-width="0.9"/>
<circle cx="1010.84" cy="1319.79" r="4.1" fill="#0a88a3" stroke="#000" stroke-width="0.9"/>
<circle cx="1004.64" cy="1323.74" r="4.1" fill="#0a88a3" stroke="#000" stroke-width="0.9"/>
<circle cx="1004.64" cy="1333.64" r="4.1" fill="#0a88a3" stroke="#000" stroke-width="0.9"/>
<circle cx="1004.64" cy="1346.17" r="4.1" fill="#0a88a3" stroke="#000" stroke-width="0.9"/>
<rect x="997.84" y="1290.11" width="13.6" height="145.09" fill="none" stroke="#000" stroke-width="2.8"/>
<line x1="1004.64" y1="1241.31" x2="1004.64" y2="1337.59" stroke="#000" stroke-width="1.8"/>
<line x1="1000.84" y1="1241.31" x2="1008.44" y2="1241.31" stroke="#000" stroke-width="1.8"/>
<line x1="1000.84" y1="1337.59" x2="1008.44" y2="1337.59" stroke="#000" stroke-width="1.8"/>
<line x1="1004.64" y1="1435.20" x2="1004.64" y2="1446.20" stroke="#000" stroke-width="2.2"/>
<text x="1015.14" y="1461.20" text-anchor="end" class="t" transform="rotate(-45 1015.14 1461.20)">D48</text>
<text x="1005.64" y="1041.80" text-anchor="middle" class="st">*</text>
<circle cx="1029.49" cy="1201.08" r="4.1" fill="#0a88a3" stroke="#000" stroke-width="0.9"/>
<circle cx="1029.49" cy="1210.31" r="4.1" fill="#0a88a3" stroke="#000" stroke-width="0.9"/>
<circle cx="1029.49" cy="1224.16" r="4.1" fill="#0a88a3" stroke="#000" stroke-width="0.9"/>
<circle cx="1035.69" cy="1227.46" r="4.1" fill="#0a88a3" stroke="#000" stroke-width="0.9"/>
<circle cx="1029.49" cy="1284.17" r="4.1" fill="#0a88a3" stroke="#000" stroke-width="0.9"/>
<circle cx="1031.69" cy="1290.11" r="4.1" fill="#0a88a3" stroke="#000" stroke-width="0.9"/>
<circle cx="1029.49" cy="1298.02" r="4.1" fill="#0a88a3" stroke="#000" stroke-width="0.9"/>
<circle cx="1029.49" cy="1316.49" r="4.1" fill="#0a88a3" stroke="#000" stroke-width="0.9"/>
<circle cx="1029.49" cy="1325.06" r="4.1" fill="#0a88a3" stroke="#000" stroke-width="0.9"/>
<circle cx="1035.69" cy="1329.02" r="4.1" fill="#0a88a3" stroke="#000" stroke-width="0.9"/>
<rect x="1022.69" y="1269.67" width="13.6" height="165.53" fill="none" stroke="#000" stroke-width="2.8"/>
<line x1="1029.49" y1="1221.52" x2="1029.49" y2="1317.81" stroke="#000" stroke-width="1.8"/>
<line x1="1025.69" y1="1221.52" x2="1033.29" y2="1221.52" stroke="#000" stroke-width="1.8"/>
<line x1="1025.69" y1="1317.81" x2="1033.29" y2="1317.81" stroke="#000" stroke-width="1.8"/>
<line x1="1029.49" y1="1435.20" x2="1029.49" y2="1446.20" stroke="#000" stroke-width="2.2"/>
<text x="1039.99" y="1461.20" text-anchor="end" class="t" transform="rotate(-45 1039.99 1461.20)">D65</text>
<text x="1030.49" y="1041.80" text-anchor="middle" class="st">*</text>
<circle cx="1054.33" cy="1224.16" r="4.1" fill="#0a88a3" stroke="#000" stroke-width="0.9"/>
<circle cx="1054.33" cy="1246.58" r="4.1" fill="#0a88a3" stroke="#000" stroke-width="0.9"/>
<circle cx="1058.73" cy="1251.86" r="4.1" fill="#0a88a3" stroke="#000" stroke-width="0.9"/>
<circle cx="1054.33" cy="1257.13" r="4.1" fill="#0a88a3" stroke="#000" stroke-width="0.9"/>
<circle cx="1054.33" cy="1272.30" r="4.1" fill="#0a88a3" stroke="#000" stroke-width="0.9"/>
<circle cx="1054.33" cy="1280.22" r="4.1" fill="#0a88a3" stroke="#000" stroke-width="0.9"/>
<circle cx="1054.33" cy="1286.81" r="4.1" fill="#0a88a3" stroke="#000" stroke-width="0.9"/>
<circle cx="1054.33" cy="1293.41" r="4.1" fill="#0a88a3" stroke="#000" stroke-width="0.9"/>
<circle cx="1058.73" cy="1298.02" r="4.1" fill="#0a88a3" stroke="#000" stroke-width="0.9"/>
<circle cx="1054.33" cy="1309.24" r="4.1" fill="#0a88a3" stroke="#000" stroke-width="0.9"/>
<rect x="1047.53" y="1270.98" width="13.6" height="164.22" fill="none" stroke="#000" stroke-width="2.8"/>
<line x1="1054.33" y1="1241.97" x2="1054.33" y2="1299.34" stroke="#000" stroke-width="1.8"/>
<line x1="1050.53" y1="1241.97" x2="1058.13" y2="1241.97" stroke="#000" stroke-width="1.8"/>
<line x1="1050.53" y1="1299.34" x2="1058.13" y2="1299.34" stroke="#000" stroke-width="1.8"/>
<line x1="1054.33" y1="1435.20" x2="1054.33" y2="1446.20" stroke="#000" stroke-width="2.2"/>
<text x="1064.83" y="1461.20" text-anchor="end" class="t" transform="rotate(-45 1064.83 1461.20)">D69</text>
<text x="1055.33" y="1041.80" text-anchor="middle" class="st">*</text>
<circle cx="1079.18" cy="1237.35" r="4.1" fill="#0a88a3" stroke="#000" stroke-width="0.9"/>
<circle cx="1079.18" cy="1245.92" r="4.1" fill="#0a88a3" stroke="#000" stroke-width="0.9"/>
<circle cx="1083.58" cy="1250.54" r="4.1" fill="#0a88a3" stroke="#000" stroke-width="0.9"/>
<circle cx="1079.18" cy="1262.41" r="4.1" fill="#0a88a3" stroke="#000" stroke-width="0.9"/>
<circle cx="1083.58" cy="1267.03" r="4.1" fill="#0a88a3" stroke="#000" stroke-width="0.9"/>
<circle cx="1079.18" cy="1283.52" r="4.1" fill="#0a88a3" stroke="#000" stroke-width="0.9"/>
<circle cx="1079.18" cy="1290.11" r="4.1" fill="#0a88a3" stroke="#000" stroke-width="0.9"/>
<circle cx="1079.18" cy="1296.70" r="4.1" fill="#0a88a3" stroke="#000" stroke-width="0.9"/>
<circle cx="1079.18" cy="1303.30" r="4.1" fill="#0a88a3" stroke="#000" stroke-width="0.9"/>
<circle cx="1079.18" cy="1310.55" r="4.1" fill="#0a88a3" stroke="#000" stroke-width="0.9"/>
<circle cx="1079.18" cy="1320.45" r="4.1" fill="#0a88a3" stroke="#000" stroke-width="0.9"/>
<rect x="1072.38" y="1281.54" width="13.6" height="153.66" fill="none" stroke="#000" stroke-width="2.8"/>
<line x1="1079.18" y1="1253.18" x2="1079.18" y2="1310.55" stroke="#000" stroke-width="1.8"/>
<line x1="1075.38" y1="1253.18" x2="1082.98" y2="1253.18" stroke="#000" stroke-width="1.8"/>
<line x1="1075.38" y1="1310.55" x2="1082.98" y2="1310.55" stroke="#000" stroke-width="1.8"/>
<line x1="1079.18" y1="1435.20" x2="1079.18" y2="1446.20" stroke="#000" stroke-width="2.2"/>
<text x="1089.68" y="1461.20" text-anchor="end" class="t" transform="rotate(-45 1089.68 1461.20)">D70</text>
<text x="1080.18" y="1041.80" text-anchor="middle" class="st">*</text>
<circle cx="1104.03" cy="1238.01" r="4.1" fill="#0a88a3" stroke="#000" stroke-width="0.9"/>
<circle cx="1106.23" cy="1243.95" r="4.1" fill="#0a88a3" stroke="#000" stroke-width="0.9"/>
<circle cx="1104.03" cy="1250.54" r="4.1" fill="#0a88a3" stroke="#000" stroke-width="0.9"/>
<circle cx="1104.03" cy="1279.56" r="4.1" fill="#0a88a3" stroke="#000" stroke-width="0.9"/>
<circle cx="1104.03" cy="1286.81" r="4.1" fill="#0a88a3" stroke="#000" stroke-width="0.9"/>
<circle cx="1104.03" cy="1293.41" r="4.1" fill="#0a88a3" stroke="#000" stroke-width="0.9"/>
<circle cx="1104.03" cy="1300.00" r="4.1" fill="#0a88a3" stroke="#000" stroke-width="0.9"/>
<circle cx="1108.43" cy="1305.28" r="4.1" fill="#0a88a3" stroke="#000" stroke-width="0.9"/>
<circle cx="1104.03" cy="1326.38" r="4.1" fill="#0a88a3" stroke="#000" stroke-width="0.9"/>
<rect x="1097.23" y="1278.24" width="13.6" height="156.96" fill="none" stroke="#000" stroke-width="2.8"/>
<line x1="1104.03" y1="1246.58" x2="1104.03" y2="1307.92" stroke="#000" stroke-width="1.8"/>
<line x1="1100.23" y1="1246.58" x2="1107.83" y2="1246.58" stroke="#000" stroke-width="1.8"/>
<line x1="1100.23" y1="1307.92" x2="1107.83" y2="1307.92" stroke="#000" stroke-width="1.8"/>
<line x1="1104.03" y1="1435.20" x2="1104.03" y2="1446.20" stroke="#000" stroke-width="2.2"/>
<text x="1114.53" y="1461.20" text-anchor="end" class="t" transform="rotate(-45 1114.53 1461.20)">D73</text>
<text x="1105.03" y="1041.80" text-anchor="middle" class="st">*</text>
<circle cx="1128.88" cy="1224.82" r="4.1" fill="#0a88a3" stroke="#000" stroke-width="0.9"/>
<circle cx="1131.08" cy="1230.76" r="4.1" fill="#0a88a3" stroke="#000" stroke-width="0.9"/>
<circle cx="1124.48" cy="1234.05" r="4.1" fill="#0a88a3" stroke="#000" stroke-width="0.9"/>
<circle cx="1128.88" cy="1238.67" r="4.1" fill="#0a88a3" stroke="#000" stroke-width="0.9"/>
<circle cx="1128.88" cy="1269.67" r="4.1" fill="#0a88a3" stroke="#000" stroke-width="0.9"/>
<circle cx="1128.88" cy="1276.92" r="4.1" fill="#0a88a3" stroke="#000" stroke-width="0.9"/>
<circle cx="1128.88" cy="1284.83" r="4.1" fill="#0a88a3" stroke="#000" stroke-width="0.9"/>
<circle cx="1128.88" cy="1293.41" r="4.1" fill="#0a88a3" stroke="#000" stroke-width="0.9"/>
<circle cx="1128.88" cy="1305.28" r="4.1" fill="#0a88a3" stroke="#000" stroke-width="0.9"/>
<circle cx="1128.88" cy="1323.74" r="4.1" fill="#0a88a3" stroke="#000" stroke-width="0.9"/>
<rect x="1122.08" y="1269.67" width="13.6" height="165.53" fill="none" stroke="#000" stroke-width="2.8"/>
<line x1="1128.88" y1="1234.05" x2="1128.88" y2="1303.30" stroke="#000" stroke-width="1.8"/>
<line x1="1125.08" y1="1234.05" x2="1132.68" y2="1234.05" stroke="#000" stroke-width="1.8"/>
<line x1="1125.08" y1="1303.30" x2="1132.68" y2="1303.30" stroke="#000" stroke-width="1.8"/>
<line x1="1128.88" y1="1435.20" x2="1128.88" y2="1446.20" stroke="#000" stroke-width="2.2"/>
<text x="1139.38" y="1461.20" text-anchor="end" class="t" transform="rotate(-45 1139.38 1461.20)">D74</text>
<text x="1129.88" y="1041.80" text-anchor="middle" class="st">*</text>
<circle cx="1153.73" cy="1242.63" r="4.1" fill="#0a88a3" stroke="#000" stroke-width="0.9"/>
<circle cx="1153.73" cy="1259.77" r="4.1" fill="#0a88a3" stroke="#000" stroke-width="0.9"/>
<circle cx="1153.73" cy="1269.67" r="4.1" fill="#0a88a3" stroke="#000" stroke-width="0.9"/>
<circle cx="1155.93" cy="1275.60" r="4.1" fill="#0a88a3" stroke="#000" stroke-width="0.9"/>
<circle cx="1153.73" cy="1282.20" r="4.1" fill="#0a88a3" stroke="#000" stroke-width="0.9"/>
<circle cx="1153.73" cy="1303.96" r="4.1" fill="#0a88a3" stroke="#000" stroke-width="0.9"/>
<circle cx="1153.73" cy="1315.17" r="4.1" fill="#0a88a3" stroke="#000" stroke-width="0.9"/>
<circle cx="1153.73" cy="1322.43" r="4.1" fill="#0a88a3" stroke="#000" stroke-width="0.9"/>
<rect x="1146.93" y="1284.83" width="13.6" height="150.37" fill="none" stroke="#000" stroke-width="2.8"/>
<line x1="1153.73" y1="1259.11" x2="1153.73" y2="1307.92" stroke="#000" stroke-width="1.8"/>
<line x1="1149.93" y1="1259.11" x2="1157.53" y2="1259.11" stroke="#000" stroke-width="1.8"/>
<line x1="1149.93" y1="1307.92" x2="1157.53" y2="1307.92" stroke="#000" stroke-width="1.8"/>
<line x1="1153.73" y1="1435.20" x2="1153.73" y2="1446.20" stroke="#000" stroke-width="2.2"/>
<text x="1164.23" y="1461.20" text-anchor="end" class="t" transform="rotate(-45 1164.23 1461.20)">D75</text>
<text x="1154.73" y="1041.80" text-anchor="middle" class="st">*</text>
<circle cx="1178.57" cy="1276.92" r="4.1" fill="#0a88a3" stroke="#000" stroke-width="0.9"/>
<circle cx="1178.57" cy="1292.09" r="4.1" fill="#0a88a3" stroke="#000" stroke-width="0.9"/>
<circle cx="1182.97" cy="1296.70" r="4.1" fill="#0a88a3" stroke="#000" stroke-width="0.9"/>
<circle cx="1176.37" cy="1300.00" r="4.1" fill="#0a88a3" stroke="#000" stroke-width="0.9"/>
<circle cx="1182.97" cy="1303.30" r="4.1" fill="#0a88a3" stroke="#000" stroke-width="0.9"/>
<circle cx="1176.37" cy="1306.60" r="4.1" fill="#0a88a3" stroke="#000" stroke-width="0.9"/>
<circle cx="1182.97" cy="1310.55" r="4.1" fill="#0a88a3" stroke="#000" stroke-width="0.9"/>
<rect x="1171.77" y="1298.68" width="13.6" height="136.52" fill="none" stroke="#000" stroke-width="2.8"/>
<line x1="1178.57" y1="1284.17" x2="1178.57" y2="1310.55" stroke="#000" stroke-width="1.8"/>
<line x1="1174.77" y1="1284.17" x2="1182.37" y2="1284.17" stroke="#000" stroke-width="1.8"/>
<line x1="1174.77" y1="1310.55" x2="1182.37" y2="1310.55" stroke="#000" stroke-width="1.8"/>
<line x1="1178.57" y1="1435.20" x2="1178.57" y2="1446.20" stroke="#000" stroke-width="2.2"/>
<text x="1189.07" y="1461.20" text-anchor="end" class="t" transform="rotate(-45 1189.07 1461.20)">D80</text>
<text x="1179.57" y="1041.80" text-anchor="middle" class="st">*</text>
<circle cx="1220.06" cy="1235.37" r="4.1" fill="#0000cc" stroke="#000" stroke-width="0.9"/>
<circle cx="1226.26" cy="1237.35" r="4.1" fill="#0000cc" stroke="#000" stroke-width="0.9"/>
<circle cx="1215.66" cy="1240.65" r="4.1" fill="#0000cc" stroke="#000" stroke-width="0.9"/>
<circle cx="1222.26" cy="1242.63" r="4.1" fill="#0000cc" stroke="#000" stroke-width="0.9"/>
<circle cx="1220.06" cy="1283.52" r="4.1" fill="#0000cc" stroke="#000" stroke-width="0.9"/>
<circle cx="1220.06" cy="1309.24" r="4.1" fill="#0000cc" stroke="#000" stroke-width="0.9"/>
<circle cx="1220.06" cy="1316.49" r="4.1" fill="#0000cc" stroke="#000" stroke-width="0.9"/>
<circle cx="1226.26" cy="1319.79" r="4.1" fill="#0000cc" stroke="#000" stroke-width="0.9"/>
<circle cx="1220.06" cy="1323.74" r="4.1" fill="#0000cc" stroke="#000" stroke-width="0.9"/>
<circle cx="1220.06" cy="1331.00" r="4.1" fill="#0000cc" stroke="#000" stroke-width="0.9"/>
<circle cx="1226.26" cy="1334.96" r="4.1" fill="#0000cc" stroke="#000" stroke-width="0.9"/>
<circle cx="1215.66" cy="1336.28" r="4.1" fill="#0000cc" stroke="#000" stroke-width="0.9"/>
<rect x="1213.26" y="1294.07" width="13.6" height="141.13" fill="none" stroke="#000" stroke-width="2.8"/>
<line x1="1220.06" y1="1249.88" x2="1220.06" y2="1336.93" stroke="#000" stroke-width="1.8"/>
<line x1="1216.26" y1="1249.88" x2="1223.86" y2="1249.88" stroke="#000" stroke-width="1.8"/>
<line x1="1216.26" y1="1336.93" x2="1223.86" y2="1336.93" stroke="#000" stroke-width="1.8"/>
<line x1="1220.06" y1="1435.20" x2="1220.06" y2="1446.20" stroke="#000" stroke-width="2.2"/>
<text x="1230.56" y="1461.20" text-anchor="end" class="t" transform="rotate(-45 1230.56 1461.20)">E4</text>
<text x="1221.06" y="1041.80" text-anchor="middle" class="st">*</text>
<circle cx="1244.90" cy="1340.89" r="4.1" fill="#0000cc" stroke="#000" stroke-width="0.9"/>
<circle cx="1251.10" cy="1344.19" r="4.1" fill="#0000cc" stroke="#000" stroke-width="0.9"/>
<circle cx="1244.90" cy="1349.47" r="4.1" fill="#0000cc" stroke="#000" stroke-width="0.9"/>
<circle cx="1251.10" cy="1352.76" r="4.1" fill="#0000cc" stroke="#000" stroke-width="0.9"/>
<circle cx="1240.50" cy="1354.74" r="4.1" fill="#0000cc" stroke="#000" stroke-width="0.9"/>
<circle cx="1244.90" cy="1363.31" r="4.1" fill="#0000cc" stroke="#000" stroke-width="0.9"/>
<circle cx="1249.30" cy="1367.93" r="4.1" fill="#0000cc" stroke="#000" stroke-width="0.9"/>
<circle cx="1242.70" cy="1371.89" r="4.1" fill="#0000cc" stroke="#000" stroke-width="0.9"/>
<circle cx="1249.30" cy="1375.85" r="4.1" fill="#0000cc" stroke="#000" stroke-width="0.9"/>
<rect x="1238.10" y="1356.72" width="13.6" height="78.48" fill="none" stroke="#000" stroke-width="2.8"/>
<line x1="1244.90" y1="1344.85" x2="1244.90" y2="1369.25" stroke="#000" stroke-width="1.8"/>
<line x1="1241.10" y1="1344.85" x2="1248.70" y2="1344.85" stroke="#000" stroke-width="1.8"/>
<line x1="1241.10" y1="1369.25" x2="1248.70" y2="1369.25" stroke="#000" stroke-width="1.8"/>
<line x1="1244.90" y1="1435.20" x2="1244.90" y2="1446.20" stroke="#000" stroke-width="2.2"/>
<text x="1255.40" y="1461.20" text-anchor="end" class="t" transform="rotate(-45 1255.40 1461.20)">ChAdOx</text>
<circle cx="1286.39" cy="1321.77" r="4.1" fill="#7a0fa0" stroke="#000" stroke-width="0.9"/>
<circle cx="1286.39" cy="1342.21" r="4.1" fill="#7a0fa0" stroke="#000" stroke-width="0.9"/>
<circle cx="1286.39" cy="1353.42" r="4.1" fill="#7a0fa0" stroke="#000" stroke-width="0.9"/>
<circle cx="1292.59" cy="1356.06" r="4.1" fill="#7a0fa0" stroke="#000" stroke-width="0.9"/>
<circle cx="1284.19" cy="1359.36" r="4.1" fill="#7a0fa0" stroke="#000" stroke-width="0.9"/>
<circle cx="1290.79" cy="1362.00" r="4.1" fill="#7a0fa0" stroke="#000" stroke-width="0.9"/>
<circle cx="1286.39" cy="1370.57" r="4.1" fill="#7a0fa0" stroke="#000" stroke-width="0.9"/>
<rect x="1279.59" y="1352.10" width="13.6" height="83.10" fill="none" stroke="#000" stroke-width="2.8"/>
<line x1="1286.39" y1="1337.59" x2="1286.39" y2="1362.00" stroke="#000" stroke-width="1.8"/>
<line x1="1282.59" y1="1337.59" x2="1290.19" y2="1337.59" stroke="#000" stroke-width="1.8"/>
<line x1="1282.59" y1="1362.00" x2="1290.19" y2="1362.00" stroke="#000" stroke-width="1.8"/>
<line x1="1286.39" y1="1435.20" x2="1286.39" y2="1446.20" stroke="#000" stroke-width="2.2"/>
<text x="1296.89" y="1461.20" text-anchor="end" class="t" transform="rotate(-45 1296.89 1461.20)">F41</text>
<circle cx="1327.87" cy="1290.77" r="4.1" fill="#d6006b" stroke="#000" stroke-width="0.9"/>
<circle cx="1327.87" cy="1305.28" r="4.1" fill="#d6006b" stroke="#000" stroke-width="0.9"/>
<circle cx="1334.07" cy="1307.92" r="4.1" fill="#d6006b" stroke="#000" stroke-width="0.9"/>
<circle cx="1321.67" cy="1309.24" r="4.1" fill="#d6006b" stroke="#000" stroke-width="0.9"/>
<circle cx="1327.87" cy="1321.11" r="4.1" fill="#d6006b" stroke="#000" stroke-width="0.9"/>
<circle cx="1327.87" cy="1346.17" r="4.1" fill="#d6006b" stroke="#000" stroke-width="0.9"/>
<circle cx="1327.87" cy="1354.74" r="4.1" fill="#d6006b" stroke="#000" stroke-width="0.9"/>
<circle cx="1332.27" cy="1359.36" r="4.1" fill="#d6006b" stroke="#000" stroke-width="0.9"/>
<circle cx="1325.67" cy="1363.31" r="4.1" fill="#d6006b" stroke="#000" stroke-width="0.9"/>
<rect x="1321.07" y="1326.38" width="13.6" height="108.82" fill="none" stroke="#000" stroke-width="2.8"/>
<line x1="1327.87" y1="1301.98" x2="1327.87" y2="1353.42" stroke="#000" stroke-width="1.8"/>
<line x1="1324.07" y1="1301.98" x2="1331.67" y2="1301.98" stroke="#000" stroke-width="1.8"/>
<line x1="1324.07" y1="1353.42" x2="1331.67" y2="1353.42" stroke="#000" stroke-width="1.8"/>
<line x1="1327.87" y1="1435.20" x2="1327.87" y2="1446.20" stroke="#000" stroke-width="2.2"/>
<text x="1338.37" y="1461.20" text-anchor="end" class="t" transform="rotate(-45 1338.37 1461.20)">G52</text>
<line x1="135.5" y1="1038.50" x2="135.5" y2="1436.20" stroke="#000" stroke-width="2.6"/>
<line x1="134.2" y1="1435.20" x2="1355" y2="1435.20" stroke="#000" stroke-width="2.6"/>
<line x1="128.5" y1="1408.82" x2="135.5" y2="1408.82" stroke="#000" stroke-width="2.2"/>
<line x1="128.5" y1="1382.44" x2="135.5" y2="1382.44" stroke="#000" stroke-width="2.2"/>
<line x1="128.5" y1="1356.06" x2="135.5" y2="1356.06" stroke="#000" stroke-width="2.2"/>
<line x1="128.5" y1="1329.68" x2="135.5" y2="1329.68" stroke="#000" stroke-width="2.2"/>
<line x1="128.5" y1="1276.92" x2="135.5" y2="1276.92" stroke="#000" stroke-width="2.2"/>
<line x1="128.5" y1="1250.54" x2="135.5" y2="1250.54" stroke="#000" stroke-width="2.2"/>
<line x1="128.5" y1="1224.16" x2="135.5" y2="1224.16" stroke="#000" stroke-width="2.2"/>
<line x1="128.5" y1="1197.78" x2="135.5" y2="1197.78" stroke="#000" stroke-width="2.2"/>
<line x1="128.5" y1="1145.02" x2="135.5" y2="1145.02" stroke="#000" stroke-width="2.2"/>
<line x1="128.5" y1="1118.64" x2="135.5" y2="1118.64" stroke="#000" stroke-width="2.2"/>
<line x1="128.5" y1="1092.26" x2="135.5" y2="1092.26" stroke="#000" stroke-width="2.2"/>
<line x1="128.5" y1="1065.88" x2="135.5" y2="1065.88" stroke="#000" stroke-width="2.2"/>
<line x1="123.5" y1="1435.20" x2="135.5" y2="1435.20" stroke="#000" stroke-width="2.6"/>
<text transform="translate(117.10 1443.20) scale(1 1.05)" text-anchor="end" class="t">0</text>
<line x1="123.5" y1="1303.30" x2="135.5" y2="1303.30" stroke="#000" stroke-width="2.6"/>
<text transform="translate(117.10 1311.30) scale(1 1.05)" text-anchor="end" class="t">2</text>
<line x1="123.5" y1="1171.40" x2="135.5" y2="1171.40" stroke="#000" stroke-width="2.6"/>
<text transform="translate(117.10 1179.40) scale(1 1.05)" text-anchor="end" class="t">4</text>
<line x1="123.5" y1="1039.50" x2="135.5" y2="1039.50" stroke="#000" stroke-width="2.6"/>
<text transform="translate(117.10 1047.50) scale(1 1.05)" text-anchor="end" class="t">6</text>
<text x="89" y="1238.65" text-anchor="middle" class="yt" transform="rotate(-90 89 1238.65)">PD-L1 (fold-change MFI)</text>
<text transform='translate(0.2 1042.2) scale(1 1.14)' class='lab' style='font-size:29.1px'>C</text>
</g>
<text transform='translate(0 24.3) scale(1 1.05)' class='lab' style='font-size:28.7px'>A</text>
</svg>
</body></html>
